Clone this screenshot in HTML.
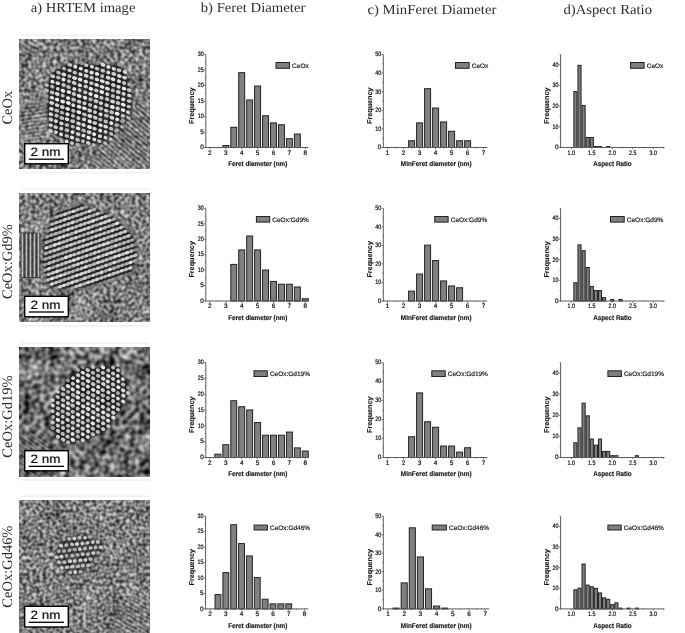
<!DOCTYPE html>
<html><head><meta charset="utf-8"><style>
html,body{margin:0;padding:0;background:#fff;}
text{text-rendering:geometricPrecision;}
body{width:685px;height:633px;overflow:hidden;position:relative;}
svg{position:absolute;left:0;top:0;display:block;filter:grayscale(1);}
.tk{font-family:"Liberation Sans",sans-serif;font-size:6.4px;fill:#151515;stroke:#151515;stroke-width:0.22px;}
.al{font-family:"Liberation Sans",sans-serif;font-size:6.9px;font-weight:bold;fill:#151515;stroke:#151515;stroke-width:0.15px;}
.yl{font-family:"Liberation Sans",sans-serif;font-size:7px;font-weight:bold;fill:#151515;stroke:#151515;stroke-width:0.15px;}
.lg{font-family:"Liberation Sans",sans-serif;font-size:6.5px;fill:#151515;stroke:#151515;stroke-width:0.18px;}
.sb{font-family:"Liberation Sans",sans-serif;font-size:12.2px;fill:#000;stroke:#000;stroke-width:0.15px;}
.rl{font-family:"Liberation Serif",serif;font-size:14.5px;fill:#2e2e2e;}
.tt{font-family:"Liberation Serif",serif;font-size:13.8px;fill:#2e2e2e;}
</style></head><body>
<svg width="685" height="633" viewBox="0 0 685 633">
<defs>
<filter id="noise0" x="0" y="0" width="100%" height="100%" filterUnits="objectBoundingBox" color-interpolation-filters="sRGB">
<feTurbulence type="fractalNoise" baseFrequency="0.28" numOctaves="1" seed="3" result="t"/>
<feTurbulence type="fractalNoise" baseFrequency="0.04" numOctaves="2" seed="11" result="t2"/>
<feColorMatrix in="t" type="matrix" values="1 0 0 0 0  1 0 0 0 0  1 0 0 0 0  0 0 0 0 1" result="g"/>
<feColorMatrix in="t2" type="matrix" values="1 0 0 0 0  1 0 0 0 0  1 0 0 0 0  0 0 0 0 1" result="g2"/>
<feComposite in="g" in2="g2" operator="arithmetic" k1="0" k2="1" k3="0.3" k4="-0.15" result="g3"/>
<feComponentTransfer in="g3"><feFuncR type="linear" slope="1.15" intercept="-0.09"/><feFuncG type="linear" slope="1.15" intercept="-0.09"/><feFuncB type="linear" slope="1.15" intercept="-0.09"/></feComponentTransfer>
<feGaussianBlur stdDeviation="0.55"/>
</filter>
<pattern id="lat0" width="5.6" height="9.7" patternUnits="userSpaceOnUse" patternTransform="rotate(25)">
<rect width="5.6" height="9.7" fill="#262626"/><ellipse cx="1.4" cy="2.42" rx="2.07" ry="1.79" fill="#ececec"/><ellipse cx="4.2" cy="7.27" rx="2.07" ry="1.79" fill="#ececec"/></pattern>
<filter id="noise1" x="0" y="0" width="100%" height="100%" filterUnits="objectBoundingBox" color-interpolation-filters="sRGB">
<feTurbulence type="fractalNoise" baseFrequency="0.28" numOctaves="1" seed="10" result="t"/>
<feTurbulence type="fractalNoise" baseFrequency="0.04" numOctaves="2" seed="16" result="t2"/>
<feColorMatrix in="t" type="matrix" values="1 0 0 0 0  1 0 0 0 0  1 0 0 0 0  0 0 0 0 1" result="g"/>
<feColorMatrix in="t2" type="matrix" values="1 0 0 0 0  1 0 0 0 0  1 0 0 0 0  0 0 0 0 1" result="g2"/>
<feComposite in="g" in2="g2" operator="arithmetic" k1="0" k2="1" k3="0.25" k4="-0.125" result="g3"/>
<feComponentTransfer in="g3"><feFuncR type="linear" slope="1.15" intercept="-0.08"/><feFuncG type="linear" slope="1.15" intercept="-0.08"/><feFuncB type="linear" slope="1.15" intercept="-0.08"/></feComponentTransfer>
<feGaussianBlur stdDeviation="0.55"/>
</filter>
<pattern id="lat1" width="5.6" height="4.8" patternUnits="userSpaceOnUse" patternTransform="rotate(-20)">
<rect width="5.6" height="4.8" fill="#1c1c1c"/><rect x="0" y="1.3" width="5.6" height="2.0" fill="#cfcfcf"/><ellipse cx="2.8" cy="2.3" rx="1.9" ry="1.3" fill="#f0f0f0"/></pattern>
<filter id="noise2" x="0" y="0" width="100%" height="100%" filterUnits="objectBoundingBox" color-interpolation-filters="sRGB">
<feTurbulence type="fractalNoise" baseFrequency="0.2" numOctaves="1" seed="17" result="t"/>
<feTurbulence type="fractalNoise" baseFrequency="0.05" numOctaves="2" seed="21" result="t2"/>
<feColorMatrix in="t" type="matrix" values="1 0 0 0 0  1 0 0 0 0  1 0 0 0 0  0 0 0 0 1" result="g"/>
<feColorMatrix in="t2" type="matrix" values="1 0 0 0 0  1 0 0 0 0  1 0 0 0 0  0 0 0 0 1" result="g2"/>
<feComposite in="g" in2="g2" operator="arithmetic" k1="0" k2="1" k3="0.5" k4="-0.25" result="g3"/>
<feComponentTransfer in="g3"><feFuncR type="linear" slope="1.15" intercept="-0.15"/><feFuncG type="linear" slope="1.15" intercept="-0.15"/><feFuncB type="linear" slope="1.15" intercept="-0.15"/></feComponentTransfer>
<feGaussianBlur stdDeviation="0.55"/>
</filter>
<pattern id="lat2" width="5.5" height="9.53" patternUnits="userSpaceOnUse" patternTransform="rotate(10)">
<rect width="5.5" height="9.53" fill="#262626"/><ellipse cx="1.38" cy="2.38" rx="1.82" ry="1.65" fill="#ececec"/><ellipse cx="4.12" cy="7.14" rx="1.82" ry="1.65" fill="#ececec"/></pattern>
<filter id="noise3" x="0" y="0" width="100%" height="100%" filterUnits="objectBoundingBox" color-interpolation-filters="sRGB">
<feTurbulence type="fractalNoise" baseFrequency="0.3" numOctaves="1" seed="24" result="t"/>
<feTurbulence type="fractalNoise" baseFrequency="0.04" numOctaves="2" seed="26" result="t2"/>
<feColorMatrix in="t" type="matrix" values="1 0 0 0 0  1 0 0 0 0  1 0 0 0 0  0 0 0 0 1" result="g"/>
<feColorMatrix in="t2" type="matrix" values="1 0 0 0 0  1 0 0 0 0  1 0 0 0 0  0 0 0 0 1" result="g2"/>
<feComposite in="g" in2="g2" operator="arithmetic" k1="0" k2="1" k3="0.25" k4="-0.125" result="g3"/>
<feComponentTransfer in="g3"><feFuncR type="linear" slope="1.15" intercept="-0.08"/><feFuncG type="linear" slope="1.15" intercept="-0.08"/><feFuncB type="linear" slope="1.15" intercept="-0.08"/></feComponentTransfer>
<feGaussianBlur stdDeviation="0.55"/>
</filter>
<pattern id="lat3" width="5" height="8.66" patternUnits="userSpaceOnUse" patternTransform="rotate(45)">
<rect width="5" height="8.66" fill="#262626"/><ellipse cx="1.25" cy="2.17" rx="1.7" ry="1.5" fill="#ececec"/><ellipse cx="3.75" cy="6.5" rx="1.7" ry="1.5" fill="#ececec"/></pattern>
<pattern id="vf" width="4" height="4" patternUnits="userSpaceOnUse"><rect width="4" height="4" fill="#3c3c3c"/><rect x="1.2" width="1.6" height="4" fill="#c8c8c8"/></pattern>
<filter id="soft" color-interpolation-filters="sRGB"><feGaussianBlur stdDeviation="0.75"/></filter>
<filter id="edge" x="-20%" y="-20%" width="140%" height="140%" color-interpolation-filters="sRGB"><feGaussianBlur stdDeviation="2.2"/></filter>
<filter id="edge2" x="-20%" y="-20%" width="140%" height="140%" color-interpolation-filters="sRGB"><feGaussianBlur stdDeviation="1.3"/></filter>
</defs>
<text x="30.7" y="12.0" class="tt" textLength="104.7" lengthAdjust="spacingAndGlyphs">a) HRTEM image</text>
<text x="200.7" y="11.9" class="tt" textLength="104.7" lengthAdjust="spacingAndGlyphs">b) Feret Diameter</text>
<text x="367.4" y="13.8" class="tt" textLength="129.1" lengthAdjust="spacingAndGlyphs">c) MinFeret Diameter</text>
<text x="563.4" y="13.5" class="tt" textLength="88.6" lengthAdjust="spacingAndGlyphs">d)Aspect Ratio</text>
<rect x="21.5" y="34.6" width="128.1" height="1.6" fill="#f1f1f1"/>
<rect x="21.5" y="171.8" width="128.1" height="1.6" fill="#f1f1f1"/>
<rect x="19.5" y="39.4" width="130.1" height="129.1" fill="#7e7e7e"/>
<rect x="19.5" y="39.4" width="130.1" height="129.1" fill="#808080" filter="url(#noise0)"/>
<clipPath id="cp0"><rect x="19.5" y="39.4" width="130.1" height="129.1"/></clipPath>
<g clip-path="url(#cp0)" opacity="0.88">
<polygon points="51.79,71.66 66.54,64.29 118.04,64.29 126.39,72.83 132.69,99.99 132.69,115.8 109.41,144.32 71.39,145.29 47.82,130.54 46.85,86.41" fill="#151515" filter="url(#edge2)" opacity="0.92"/>
<g filter="url(#soft)">
<ellipse cx="46.55" cy="85.09" rx="2.41" ry="1.8" transform="rotate(18.3 46.55 85.09)" fill="rgb(195,195,195)"/>
<ellipse cx="46.66" cy="90.53" rx="2.31" ry="1.8" transform="rotate(18.3 46.66 90.53)" fill="rgb(197,197,197)"/>
<ellipse cx="46.04" cy="95.98" rx="2.55" ry="1.8" transform="rotate(18.3 46.04 95.98)" fill="rgb(151,151,151)"/>
<ellipse cx="46.32" cy="101.36" rx="2.45" ry="1.8" transform="rotate(18.3 46.32 101.36)" fill="rgb(151,151,151)"/>
<ellipse cx="52.75" cy="70.4" rx="2.2" ry="1.8" transform="rotate(18.3 52.75 70.4)" fill="rgb(166,166,166)"/>
<ellipse cx="52.76" cy="76.31" rx="2.56" ry="1.8" transform="rotate(18.3 52.76 76.31)" fill="rgb(208,208,208)"/>
<ellipse cx="52.48" cy="81.72" rx="2.09" ry="1.8" transform="rotate(18.3 52.48 81.72)" fill="rgb(248,248,248)"/>
<ellipse cx="52.3" cy="86.7" rx="2.23" ry="1.8" transform="rotate(18.3 52.3 86.7)" fill="rgb(195,195,195)"/>
<ellipse cx="52.14" cy="92.41" rx="2.49" ry="1.8" transform="rotate(18.3 52.14 92.41)" fill="rgb(207,207,207)"/>
<ellipse cx="51.98" cy="97.66" rx="2.37" ry="1.8" transform="rotate(18.3 51.98 97.66)" fill="rgb(224,224,224)"/>
<ellipse cx="51.74" cy="103.03" rx="2.57" ry="1.8" transform="rotate(18.3 51.74 103.03)" fill="rgb(231,231,231)"/>
<ellipse cx="51.33" cy="108.83" rx="2.3" ry="1.8" transform="rotate(18.3 51.33 108.83)" fill="rgb(245,245,245)"/>
<ellipse cx="50.9" cy="114.2" rx="2.2" ry="1.8" transform="rotate(18.3 50.9 114.2)" fill="rgb(229,229,229)"/>
<ellipse cx="51" cy="119.51" rx="2.44" ry="1.8" transform="rotate(18.3 51 119.51)" fill="rgb(226,226,226)"/>
<ellipse cx="50.74" cy="125.27" rx="2.15" ry="1.8" transform="rotate(18.3 50.74 125.27)" fill="rgb(237,237,237)"/>
<ellipse cx="50.52" cy="130.73" rx="2.45" ry="1.8" transform="rotate(18.3 50.52 130.73)" fill="rgb(241,241,241)"/>
<ellipse cx="58.62" cy="66.94" rx="2.08" ry="1.8" transform="rotate(18.3 58.62 66.94)" fill="rgb(159,159,159)"/>
<ellipse cx="58.48" cy="72.61" rx="2.44" ry="1.8" transform="rotate(18.3 58.48 72.61)" fill="rgb(205,205,205)"/>
<ellipse cx="58.26" cy="77.61" rx="2.35" ry="1.8" transform="rotate(18.3 58.26 77.61)" fill="rgb(198,198,198)"/>
<ellipse cx="57.73" cy="83.17" rx="2.38" ry="1.8" transform="rotate(18.3 57.73 83.17)" fill="rgb(235,235,235)"/>
<ellipse cx="57.81" cy="88.77" rx="2" ry="1.8" transform="rotate(18.3 57.81 88.77)" fill="rgb(216,216,216)"/>
<ellipse cx="57.19" cy="93.99" rx="2.42" ry="1.8" transform="rotate(18.3 57.19 93.99)" fill="rgb(229,229,229)"/>
<ellipse cx="57.01" cy="99.55" rx="2.23" ry="1.8" transform="rotate(18.3 57.01 99.55)" fill="rgb(252,252,252)"/>
<ellipse cx="57.08" cy="105.13" rx="2.28" ry="1.8" transform="rotate(18.3 57.08 105.13)" fill="rgb(237,237,237)"/>
<ellipse cx="56.74" cy="110.63" rx="2.47" ry="1.8" transform="rotate(18.3 56.74 110.63)" fill="rgb(205,205,205)"/>
<ellipse cx="56.7" cy="115.68" rx="2.14" ry="1.8" transform="rotate(18.3 56.7 115.68)" fill="rgb(207,207,207)"/>
<ellipse cx="55.99" cy="121.18" rx="2.07" ry="1.8" transform="rotate(18.3 55.99 121.18)" fill="rgb(236,236,236)"/>
<ellipse cx="55.74" cy="127.11" rx="2.32" ry="1.8" transform="rotate(18.3 55.74 127.11)" fill="rgb(221,221,221)"/>
<ellipse cx="55.74" cy="132.19" rx="2.11" ry="1.8" transform="rotate(18.3 55.74 132.19)" fill="rgb(224,224,224)"/>
<ellipse cx="64.11" cy="68.6" rx="2.12" ry="1.8" transform="rotate(18.3 64.11 68.6)" fill="rgb(204,204,204)"/>
<ellipse cx="63.77" cy="74.45" rx="2.57" ry="1.8" transform="rotate(18.3 63.77 74.45)" fill="rgb(233,233,233)"/>
<ellipse cx="63.53" cy="79.5" rx="2.11" ry="1.8" transform="rotate(18.3 63.53 79.5)" fill="rgb(241,241,241)"/>
<ellipse cx="63.65" cy="85.02" rx="2.16" ry="1.8" transform="rotate(18.3 63.65 85.02)" fill="rgb(212,212,212)"/>
<ellipse cx="62.99" cy="90.79" rx="2.33" ry="1.8" transform="rotate(18.3 62.99 90.79)" fill="rgb(252,252,252)"/>
<ellipse cx="62.71" cy="95.68" rx="2.17" ry="1.8" transform="rotate(18.3 62.71 95.68)" fill="rgb(200,200,200)"/>
<ellipse cx="62.72" cy="101.49" rx="2.48" ry="1.8" transform="rotate(18.3 62.72 101.49)" fill="rgb(250,250,250)"/>
<ellipse cx="62.31" cy="106.97" rx="2.43" ry="1.8" transform="rotate(18.3 62.31 106.97)" fill="rgb(223,223,223)"/>
<ellipse cx="61.97" cy="112.59" rx="2.36" ry="1.8" transform="rotate(18.3 61.97 112.59)" fill="rgb(196,196,196)"/>
<ellipse cx="61.83" cy="117.93" rx="2.52" ry="1.8" transform="rotate(18.3 61.83 117.93)" fill="rgb(204,204,204)"/>
<ellipse cx="61.39" cy="123.34" rx="2.3" ry="1.8" transform="rotate(18.3 61.39 123.34)" fill="rgb(240,240,240)"/>
<ellipse cx="61.25" cy="128.57" rx="2.12" ry="1.8" transform="rotate(18.3 61.25 128.57)" fill="rgb(224,224,224)"/>
<ellipse cx="61.01" cy="134.29" rx="2.16" ry="1.8" transform="rotate(18.3 61.01 134.29)" fill="rgb(230,230,230)"/>
<ellipse cx="61.05" cy="139.61" rx="2.34" ry="1.8" transform="rotate(18.3 61.05 139.61)" fill="rgb(164,164,164)"/>
<ellipse cx="69.8" cy="64.87" rx="2.5" ry="1.8" transform="rotate(18.3 69.8 64.87)" fill="rgb(203,203,203)"/>
<ellipse cx="69.56" cy="70.39" rx="2.27" ry="1.8" transform="rotate(18.3 69.56 70.39)" fill="rgb(220,220,220)"/>
<ellipse cx="69.4" cy="76.21" rx="2.02" ry="1.8" transform="rotate(18.3 69.4 76.21)" fill="rgb(200,200,200)"/>
<ellipse cx="69" cy="81.15" rx="2.06" ry="1.8" transform="rotate(18.3 69 81.15)" fill="rgb(205,205,205)"/>
<ellipse cx="68.55" cy="86.96" rx="2.33" ry="1.8" transform="rotate(18.3 68.55 86.96)" fill="rgb(201,201,201)"/>
<ellipse cx="68.84" cy="92.12" rx="2.34" ry="1.8" transform="rotate(18.3 68.84 92.12)" fill="rgb(244,244,244)"/>
<ellipse cx="68.13" cy="98.05" rx="2.22" ry="1.8" transform="rotate(18.3 68.13 98.05)" fill="rgb(242,242,242)"/>
<ellipse cx="68.32" cy="102.98" rx="2.49" ry="1.8" transform="rotate(18.3 68.32 102.98)" fill="rgb(249,249,249)"/>
<ellipse cx="67.62" cy="108.91" rx="2.53" ry="1.8" transform="rotate(18.3 67.62 108.91)" fill="rgb(245,245,245)"/>
<ellipse cx="67.48" cy="114.25" rx="2.2" ry="1.8" transform="rotate(18.3 67.48 114.25)" fill="rgb(245,245,245)"/>
<ellipse cx="67.09" cy="119.26" rx="2.32" ry="1.8" transform="rotate(18.3 67.09 119.26)" fill="rgb(227,227,227)"/>
<ellipse cx="66.91" cy="125.08" rx="2.28" ry="1.8" transform="rotate(18.3 66.91 125.08)" fill="rgb(198,198,198)"/>
<ellipse cx="66.9" cy="130.27" rx="2.53" ry="1.8" transform="rotate(18.3 66.9 130.27)" fill="rgb(198,198,198)"/>
<ellipse cx="66.87" cy="135.94" rx="2.31" ry="1.8" transform="rotate(18.3 66.87 135.94)" fill="rgb(196,196,196)"/>
<ellipse cx="66.7" cy="141.49" rx="2.02" ry="1.8" transform="rotate(18.3 66.7 141.49)" fill="rgb(238,238,238)"/>
<ellipse cx="75.25" cy="66.75" rx="2" ry="1.8" transform="rotate(18.3 75.25 66.75)" fill="rgb(252,252,252)"/>
<ellipse cx="74.8" cy="72.58" rx="2.17" ry="1.8" transform="rotate(18.3 74.8 72.58)" fill="rgb(202,202,202)"/>
<ellipse cx="74.61" cy="78.03" rx="2.55" ry="1.8" transform="rotate(18.3 74.61 78.03)" fill="rgb(240,240,240)"/>
<ellipse cx="74.3" cy="83" rx="2.45" ry="1.8" transform="rotate(18.3 74.3 83)" fill="rgb(217,217,217)"/>
<ellipse cx="74.32" cy="88.95" rx="2.05" ry="1.8" transform="rotate(18.3 74.32 88.95)" fill="rgb(241,241,241)"/>
<ellipse cx="73.9" cy="93.96" rx="2.39" ry="1.8" transform="rotate(18.3 73.9 93.96)" fill="rgb(212,212,212)"/>
<ellipse cx="73.74" cy="99.73" rx="2.53" ry="1.8" transform="rotate(18.3 73.74 99.73)" fill="rgb(196,196,196)"/>
<ellipse cx="73.33" cy="105.17" rx="2.02" ry="1.8" transform="rotate(18.3 73.33 105.17)" fill="rgb(249,249,249)"/>
<ellipse cx="73.32" cy="110.75" rx="2.29" ry="1.8" transform="rotate(18.3 73.32 110.75)" fill="rgb(195,195,195)"/>
<ellipse cx="73.02" cy="115.84" rx="2.1" ry="1.8" transform="rotate(18.3 73.02 115.84)" fill="rgb(207,207,207)"/>
<ellipse cx="72.68" cy="121.19" rx="2.53" ry="1.8" transform="rotate(18.3 72.68 121.19)" fill="rgb(214,214,214)"/>
<ellipse cx="72.85" cy="126.66" rx="2.15" ry="1.8" transform="rotate(18.3 72.85 126.66)" fill="rgb(196,196,196)"/>
<ellipse cx="72.56" cy="132.05" rx="2.05" ry="1.8" transform="rotate(18.3 72.56 132.05)" fill="rgb(238,238,238)"/>
<ellipse cx="72.02" cy="137.49" rx="2.22" ry="1.8" transform="rotate(18.3 72.02 137.49)" fill="rgb(235,235,235)"/>
<ellipse cx="72.04" cy="143.15" rx="2.01" ry="1.8" transform="rotate(18.3 72.04 143.15)" fill="rgb(221,221,221)"/>
<ellipse cx="81.09" cy="62.99" rx="2.58" ry="1.8" transform="rotate(18.3 81.09 62.99)" fill="rgb(154,154,154)"/>
<ellipse cx="80.82" cy="68.62" rx="2.15" ry="1.8" transform="rotate(18.3 80.82 68.62)" fill="rgb(252,252,252)"/>
<ellipse cx="80.46" cy="74.2" rx="2.17" ry="1.8" transform="rotate(18.3 80.46 74.2)" fill="rgb(241,241,241)"/>
<ellipse cx="80.11" cy="79.5" rx="2.43" ry="1.8" transform="rotate(18.3 80.11 79.5)" fill="rgb(252,252,252)"/>
<ellipse cx="79.84" cy="85.21" rx="2.14" ry="1.8" transform="rotate(18.3 79.84 85.21)" fill="rgb(235,235,235)"/>
<ellipse cx="79.7" cy="90.25" rx="2.04" ry="1.8" transform="rotate(18.3 79.7 90.25)" fill="rgb(208,208,208)"/>
<ellipse cx="79.21" cy="96" rx="2.49" ry="1.8" transform="rotate(18.3 79.21 96)" fill="rgb(248,248,248)"/>
<ellipse cx="79.05" cy="101.65" rx="2.4" ry="1.8" transform="rotate(18.3 79.05 101.65)" fill="rgb(216,216,216)"/>
<ellipse cx="79.04" cy="106.81" rx="2.52" ry="1.8" transform="rotate(18.3 79.04 106.81)" fill="rgb(239,239,239)"/>
<ellipse cx="78.86" cy="112.28" rx="2.44" ry="1.8" transform="rotate(18.3 78.86 112.28)" fill="rgb(250,250,250)"/>
<ellipse cx="78.43" cy="118" rx="2.02" ry="1.8" transform="rotate(18.3 78.43 118)" fill="rgb(221,221,221)"/>
<ellipse cx="78.55" cy="123.43" rx="2.44" ry="1.8" transform="rotate(18.3 78.55 123.43)" fill="rgb(229,229,229)"/>
<ellipse cx="78.15" cy="128.36" rx="2.37" ry="1.8" transform="rotate(18.3 78.15 128.36)" fill="rgb(246,246,246)"/>
<ellipse cx="78.08" cy="134.04" rx="2.45" ry="1.8" transform="rotate(18.3 78.08 134.04)" fill="rgb(213,213,213)"/>
<ellipse cx="77.59" cy="139.72" rx="2.4" ry="1.8" transform="rotate(18.3 77.59 139.72)" fill="rgb(197,197,197)"/>
<ellipse cx="77.57" cy="144.75" rx="2.29" ry="1.8" transform="rotate(18.3 77.57 144.75)" fill="rgb(182,182,182)"/>
<ellipse cx="86.43" cy="65.15" rx="2.2" ry="1.8" transform="rotate(18.3 86.43 65.15)" fill="rgb(216,216,216)"/>
<ellipse cx="86.23" cy="70.81" rx="2.23" ry="1.8" transform="rotate(18.3 86.23 70.81)" fill="rgb(227,227,227)"/>
<ellipse cx="86.14" cy="75.76" rx="2.49" ry="1.8" transform="rotate(18.3 86.14 75.76)" fill="rgb(231,231,231)"/>
<ellipse cx="85.8" cy="81.55" rx="2.26" ry="1.8" transform="rotate(18.3 85.8 81.55)" fill="rgb(239,239,239)"/>
<ellipse cx="85.67" cy="86.55" rx="2.26" ry="1.8" transform="rotate(18.3 85.67 86.55)" fill="rgb(222,222,222)"/>
<ellipse cx="85.28" cy="92.17" rx="2.26" ry="1.8" transform="rotate(18.3 85.28 92.17)" fill="rgb(207,207,207)"/>
<ellipse cx="84.99" cy="97.75" rx="2.28" ry="1.8" transform="rotate(18.3 84.99 97.75)" fill="rgb(251,251,251)"/>
<ellipse cx="84.5" cy="103.27" rx="2.01" ry="1.8" transform="rotate(18.3 84.5 103.27)" fill="rgb(220,220,220)"/>
<ellipse cx="84.38" cy="108.39" rx="2.53" ry="1.8" transform="rotate(18.3 84.38 108.39)" fill="rgb(236,236,236)"/>
<ellipse cx="84.34" cy="114.35" rx="2.49" ry="1.8" transform="rotate(18.3 84.34 114.35)" fill="rgb(204,204,204)"/>
<ellipse cx="84.12" cy="119.36" rx="2.1" ry="1.8" transform="rotate(18.3 84.12 119.36)" fill="rgb(225,225,225)"/>
<ellipse cx="83.61" cy="124.98" rx="2.23" ry="1.8" transform="rotate(18.3 83.61 124.98)" fill="rgb(220,220,220)"/>
<ellipse cx="83.61" cy="130.51" rx="2.33" ry="1.8" transform="rotate(18.3 83.61 130.51)" fill="rgb(202,202,202)"/>
<ellipse cx="83.41" cy="135.57" rx="2.01" ry="1.8" transform="rotate(18.3 83.41 135.57)" fill="rgb(243,243,243)"/>
<ellipse cx="82.97" cy="141.23" rx="2.04" ry="1.8" transform="rotate(18.3 82.97 141.23)" fill="rgb(196,196,196)"/>
<ellipse cx="91.89" cy="66.73" rx="2.09" ry="1.8" transform="rotate(18.3 91.89 66.73)" fill="rgb(228,228,228)"/>
<ellipse cx="91.62" cy="72.58" rx="2.21" ry="1.8" transform="rotate(18.3 91.62 72.58)" fill="rgb(243,243,243)"/>
<ellipse cx="91.59" cy="77.67" rx="2.25" ry="1.8" transform="rotate(18.3 91.59 77.67)" fill="rgb(213,213,213)"/>
<ellipse cx="91.36" cy="83.14" rx="2.32" ry="1.8" transform="rotate(18.3 91.36 83.14)" fill="rgb(213,213,213)"/>
<ellipse cx="90.92" cy="88.81" rx="2.39" ry="1.8" transform="rotate(18.3 90.92 88.81)" fill="rgb(241,241,241)"/>
<ellipse cx="90.54" cy="94.06" rx="2.29" ry="1.8" transform="rotate(18.3 90.54 94.06)" fill="rgb(252,252,252)"/>
<ellipse cx="90.52" cy="99.46" rx="2.23" ry="1.8" transform="rotate(18.3 90.52 99.46)" fill="rgb(195,195,195)"/>
<ellipse cx="90.14" cy="104.92" rx="2.09" ry="1.8" transform="rotate(18.3 90.14 104.92)" fill="rgb(208,208,208)"/>
<ellipse cx="89.61" cy="110.55" rx="2.48" ry="1.8" transform="rotate(18.3 89.61 110.55)" fill="rgb(229,229,229)"/>
<ellipse cx="89.86" cy="116.03" rx="2.53" ry="1.8" transform="rotate(18.3 89.86 116.03)" fill="rgb(246,246,246)"/>
<ellipse cx="89.66" cy="121.51" rx="2.2" ry="1.8" transform="rotate(18.3 89.66 121.51)" fill="rgb(252,252,252)"/>
<ellipse cx="89.47" cy="127" rx="2.5" ry="1.8" transform="rotate(18.3 89.47 127)" fill="rgb(247,247,247)"/>
<ellipse cx="89.08" cy="132.25" rx="2.54" ry="1.8" transform="rotate(18.3 89.08 132.25)" fill="rgb(228,228,228)"/>
<ellipse cx="88.57" cy="137.74" rx="2.15" ry="1.8" transform="rotate(18.3 88.57 137.74)" fill="rgb(252,252,252)"/>
<ellipse cx="88.25" cy="142.98" rx="2.3" ry="1.8" transform="rotate(18.3 88.25 142.98)" fill="rgb(223,223,223)"/>
<ellipse cx="97.31" cy="63.07" rx="2.27" ry="1.8" transform="rotate(18.3 97.31 63.07)" fill="rgb(140,140,140)"/>
<ellipse cx="97.02" cy="68.59" rx="2.37" ry="1.8" transform="rotate(18.3 97.02 68.59)" fill="rgb(206,206,206)"/>
<ellipse cx="97.07" cy="73.96" rx="2.16" ry="1.8" transform="rotate(18.3 97.07 73.96)" fill="rgb(252,252,252)"/>
<ellipse cx="97" cy="79.44" rx="2.34" ry="1.8" transform="rotate(18.3 97 79.44)" fill="rgb(231,231,231)"/>
<ellipse cx="96.57" cy="84.91" rx="2.36" ry="1.8" transform="rotate(18.3 96.57 84.91)" fill="rgb(246,246,246)"/>
<ellipse cx="96.32" cy="90.44" rx="2.24" ry="1.8" transform="rotate(18.3 96.32 90.44)" fill="rgb(213,213,213)"/>
<ellipse cx="96.19" cy="96.02" rx="2.43" ry="1.8" transform="rotate(18.3 96.19 96.02)" fill="rgb(252,252,252)"/>
<ellipse cx="96.1" cy="101.24" rx="2.58" ry="1.8" transform="rotate(18.3 96.1 101.24)" fill="rgb(212,212,212)"/>
<ellipse cx="95.53" cy="106.84" rx="2.07" ry="1.8" transform="rotate(18.3 95.53 106.84)" fill="rgb(251,251,251)"/>
<ellipse cx="95.11" cy="112.21" rx="2.03" ry="1.8" transform="rotate(18.3 95.11 112.21)" fill="rgb(208,208,208)"/>
<ellipse cx="95.22" cy="117.71" rx="2.37" ry="1.8" transform="rotate(18.3 95.22 117.71)" fill="rgb(224,224,224)"/>
<ellipse cx="94.74" cy="123.06" rx="2.38" ry="1.8" transform="rotate(18.3 94.74 123.06)" fill="rgb(216,216,216)"/>
<ellipse cx="94.6" cy="128.61" rx="2.33" ry="1.8" transform="rotate(18.3 94.6 128.61)" fill="rgb(230,230,230)"/>
<ellipse cx="94.11" cy="134.18" rx="2.04" ry="1.8" transform="rotate(18.3 94.11 134.18)" fill="rgb(252,252,252)"/>
<ellipse cx="94.29" cy="139.5" rx="2.01" ry="1.8" transform="rotate(18.3 94.29 139.5)" fill="rgb(243,243,243)"/>
<ellipse cx="93.63" cy="144.93" rx="2.06" ry="1.8" transform="rotate(18.3 93.63 144.93)" fill="rgb(195,195,195)"/>
<ellipse cx="103.09" cy="64.79" rx="2.47" ry="1.8" transform="rotate(18.3 103.09 64.79)" fill="rgb(236,236,236)"/>
<ellipse cx="102.82" cy="70.69" rx="2.36" ry="1.8" transform="rotate(18.3 102.82 70.69)" fill="rgb(213,213,213)"/>
<ellipse cx="102.16" cy="76.07" rx="2.03" ry="1.8" transform="rotate(18.3 102.16 76.07)" fill="rgb(206,206,206)"/>
<ellipse cx="102.37" cy="81.1" rx="2.56" ry="1.8" transform="rotate(18.3 102.37 81.1)" fill="rgb(236,236,236)"/>
<ellipse cx="102" cy="86.84" rx="2.43" ry="1.8" transform="rotate(18.3 102 86.84)" fill="rgb(244,244,244)"/>
<ellipse cx="101.73" cy="91.99" rx="2.43" ry="1.8" transform="rotate(18.3 101.73 91.99)" fill="rgb(252,252,252)"/>
<ellipse cx="101.48" cy="97.8" rx="2.13" ry="1.8" transform="rotate(18.3 101.48 97.8)" fill="rgb(211,211,211)"/>
<ellipse cx="100.98" cy="103.08" rx="2.06" ry="1.8" transform="rotate(18.3 100.98 103.08)" fill="rgb(231,231,231)"/>
<ellipse cx="100.83" cy="108.52" rx="2.47" ry="1.8" transform="rotate(18.3 100.83 108.52)" fill="rgb(195,195,195)"/>
<ellipse cx="100.58" cy="114.28" rx="2.18" ry="1.8" transform="rotate(18.3 100.58 114.28)" fill="rgb(232,232,232)"/>
<ellipse cx="100.29" cy="119.56" rx="2.19" ry="1.8" transform="rotate(18.3 100.29 119.56)" fill="rgb(198,198,198)"/>
<ellipse cx="100.61" cy="125.12" rx="2.34" ry="1.8" transform="rotate(18.3 100.61 125.12)" fill="rgb(241,241,241)"/>
<ellipse cx="100.14" cy="130.52" rx="2.06" ry="1.8" transform="rotate(18.3 100.14 130.52)" fill="rgb(251,251,251)"/>
<ellipse cx="100.07" cy="136.1" rx="2.19" ry="1.8" transform="rotate(18.3 100.07 136.1)" fill="rgb(232,232,232)"/>
<ellipse cx="99.33" cy="141.16" rx="2.4" ry="1.8" transform="rotate(18.3 99.33 141.16)" fill="rgb(197,197,197)"/>
<ellipse cx="108.43" cy="66.97" rx="2.18" ry="1.8" transform="rotate(18.3 108.43 66.97)" fill="rgb(251,251,251)"/>
<ellipse cx="108.29" cy="72.42" rx="2.03" ry="1.8" transform="rotate(18.3 108.29 72.42)" fill="rgb(231,231,231)"/>
<ellipse cx="108.12" cy="77.75" rx="2.5" ry="1.8" transform="rotate(18.3 108.12 77.75)" fill="rgb(225,225,225)"/>
<ellipse cx="107.43" cy="82.89" rx="2.42" ry="1.8" transform="rotate(18.3 107.43 82.89)" fill="rgb(238,238,238)"/>
<ellipse cx="107.44" cy="88.65" rx="2.48" ry="1.8" transform="rotate(18.3 107.44 88.65)" fill="rgb(245,245,245)"/>
<ellipse cx="107.27" cy="94.2" rx="2.09" ry="1.8" transform="rotate(18.3 107.27 94.2)" fill="rgb(228,228,228)"/>
<ellipse cx="107.13" cy="99.23" rx="2.33" ry="1.8" transform="rotate(18.3 107.13 99.23)" fill="rgb(205,205,205)"/>
<ellipse cx="106.63" cy="105.18" rx="2.29" ry="1.8" transform="rotate(18.3 106.63 105.18)" fill="rgb(214,214,214)"/>
<ellipse cx="106.28" cy="110.6" rx="2.42" ry="1.8" transform="rotate(18.3 106.28 110.6)" fill="rgb(218,218,218)"/>
<ellipse cx="106.38" cy="115.81" rx="2.56" ry="1.8" transform="rotate(18.3 106.38 115.81)" fill="rgb(202,202,202)"/>
<ellipse cx="105.72" cy="121.48" rx="2.25" ry="1.8" transform="rotate(18.3 105.72 121.48)" fill="rgb(205,205,205)"/>
<ellipse cx="105.72" cy="126.68" rx="2.39" ry="1.8" transform="rotate(18.3 105.72 126.68)" fill="rgb(233,233,233)"/>
<ellipse cx="105.63" cy="131.91" rx="2.11" ry="1.8" transform="rotate(18.3 105.63 131.91)" fill="rgb(219,219,219)"/>
<ellipse cx="105.56" cy="137.64" rx="2.12" ry="1.8" transform="rotate(18.3 105.56 137.64)" fill="rgb(252,252,252)"/>
<ellipse cx="105.16" cy="143.07" rx="2.11" ry="1.8" transform="rotate(18.3 105.16 143.07)" fill="rgb(216,216,216)"/>
<ellipse cx="113.89" cy="68.87" rx="2.3" ry="1.8" transform="rotate(18.3 113.89 68.87)" fill="rgb(227,227,227)"/>
<ellipse cx="113.85" cy="73.94" rx="2.52" ry="1.8" transform="rotate(18.3 113.85 73.94)" fill="rgb(217,217,217)"/>
<ellipse cx="113.1" cy="79.25" rx="2.28" ry="1.8" transform="rotate(18.3 113.1 79.25)" fill="rgb(238,238,238)"/>
<ellipse cx="113.35" cy="85.01" rx="2.39" ry="1.8" transform="rotate(18.3 113.35 85.01)" fill="rgb(213,213,213)"/>
<ellipse cx="112.84" cy="90.49" rx="2.04" ry="1.8" transform="rotate(18.3 112.84 90.49)" fill="rgb(207,207,207)"/>
<ellipse cx="112.88" cy="96.07" rx="2.06" ry="1.8" transform="rotate(18.3 112.88 96.07)" fill="rgb(204,204,204)"/>
<ellipse cx="112.59" cy="101.43" rx="2.5" ry="1.8" transform="rotate(18.3 112.59 101.43)" fill="rgb(224,224,224)"/>
<ellipse cx="112.35" cy="106.94" rx="2.47" ry="1.8" transform="rotate(18.3 112.35 106.94)" fill="rgb(252,252,252)"/>
<ellipse cx="111.62" cy="112.28" rx="2.52" ry="1.8" transform="rotate(18.3 111.62 112.28)" fill="rgb(201,201,201)"/>
<ellipse cx="111.88" cy="117.7" rx="2.4" ry="1.8" transform="rotate(18.3 111.88 117.7)" fill="rgb(223,223,223)"/>
<ellipse cx="111.32" cy="123.2" rx="2.02" ry="1.8" transform="rotate(18.3 111.32 123.2)" fill="rgb(252,252,252)"/>
<ellipse cx="111.14" cy="128.71" rx="2.2" ry="1.8" transform="rotate(18.3 111.14 128.71)" fill="rgb(206,206,206)"/>
<ellipse cx="111.16" cy="134.02" rx="2.23" ry="1.8" transform="rotate(18.3 111.16 134.02)" fill="rgb(212,212,212)"/>
<ellipse cx="110.65" cy="139.42" rx="2.14" ry="1.8" transform="rotate(18.3 110.65 139.42)" fill="rgb(252,252,252)"/>
<ellipse cx="110.39" cy="145.1" rx="2.38" ry="1.8" transform="rotate(18.3 110.39 145.1)" fill="rgb(156,156,156)"/>
<ellipse cx="119.73" cy="64.75" rx="2.08" ry="1.8" transform="rotate(18.3 119.73 64.75)" fill="rgb(164,164,164)"/>
<ellipse cx="119.08" cy="70.18" rx="2.54" ry="1.8" transform="rotate(18.3 119.08 70.18)" fill="rgb(210,210,210)"/>
<ellipse cx="119.27" cy="75.99" rx="2.44" ry="1.8" transform="rotate(18.3 119.27 75.99)" fill="rgb(228,228,228)"/>
<ellipse cx="119.07" cy="81.2" rx="2.07" ry="1.8" transform="rotate(18.3 119.07 81.2)" fill="rgb(242,242,242)"/>
<ellipse cx="118.49" cy="86.79" rx="2.12" ry="1.8" transform="rotate(18.3 118.49 86.79)" fill="rgb(235,235,235)"/>
<ellipse cx="118.27" cy="92.02" rx="2.47" ry="1.8" transform="rotate(18.3 118.27 92.02)" fill="rgb(218,218,218)"/>
<ellipse cx="117.93" cy="97.56" rx="2.11" ry="1.8" transform="rotate(18.3 117.93 97.56)" fill="rgb(234,234,234)"/>
<ellipse cx="118.08" cy="103" rx="2.19" ry="1.8" transform="rotate(18.3 118.08 103)" fill="rgb(214,214,214)"/>
<ellipse cx="117.58" cy="108.52" rx="2.24" ry="1.8" transform="rotate(18.3 117.58 108.52)" fill="rgb(221,221,221)"/>
<ellipse cx="117.19" cy="113.74" rx="2.49" ry="1.8" transform="rotate(18.3 117.19 113.74)" fill="rgb(251,251,251)"/>
<ellipse cx="117.28" cy="119.43" rx="2.07" ry="1.8" transform="rotate(18.3 117.28 119.43)" fill="rgb(252,252,252)"/>
<ellipse cx="116.63" cy="125.14" rx="2.32" ry="1.8" transform="rotate(18.3 116.63 125.14)" fill="rgb(230,230,230)"/>
<ellipse cx="116.67" cy="130.46" rx="2.43" ry="1.8" transform="rotate(18.3 116.67 130.46)" fill="rgb(238,238,238)"/>
<ellipse cx="116.43" cy="135.95" rx="2.49" ry="1.8" transform="rotate(18.3 116.43 135.95)" fill="rgb(204,204,204)"/>
<ellipse cx="124.89" cy="72.02" rx="2.39" ry="1.8" transform="rotate(18.3 124.89 72.02)" fill="rgb(220,220,220)"/>
<ellipse cx="124.61" cy="77.65" rx="2.52" ry="1.8" transform="rotate(18.3 124.61 77.65)" fill="rgb(233,233,233)"/>
<ellipse cx="124.08" cy="82.99" rx="2.08" ry="1.8" transform="rotate(18.3 124.08 82.99)" fill="rgb(214,214,214)"/>
<ellipse cx="124.07" cy="88.63" rx="2.31" ry="1.8" transform="rotate(18.3 124.07 88.63)" fill="rgb(252,252,252)"/>
<ellipse cx="123.61" cy="93.78" rx="2.08" ry="1.8" transform="rotate(18.3 123.61 93.78)" fill="rgb(233,233,233)"/>
<ellipse cx="123.31" cy="99.44" rx="2.17" ry="1.8" transform="rotate(18.3 123.31 99.44)" fill="rgb(247,247,247)"/>
<ellipse cx="123.16" cy="104.64" rx="2.47" ry="1.8" transform="rotate(18.3 123.16 104.64)" fill="rgb(252,252,252)"/>
<ellipse cx="123.07" cy="110.1" rx="2.35" ry="1.8" transform="rotate(18.3 123.07 110.1)" fill="rgb(252,252,252)"/>
<ellipse cx="122.95" cy="115.9" rx="2.24" ry="1.8" transform="rotate(18.3 122.95 115.9)" fill="rgb(231,231,231)"/>
<ellipse cx="122.74" cy="121" rx="2.33" ry="1.8" transform="rotate(18.3 122.74 121)" fill="rgb(212,212,212)"/>
<ellipse cx="122.32" cy="126.69" rx="2.06" ry="1.8" transform="rotate(18.3 122.32 126.69)" fill="rgb(231,231,231)"/>
<ellipse cx="129.5" cy="84.63" rx="2.37" ry="1.8" transform="rotate(18.3 129.5 84.63)" fill="rgb(186,186,186)"/>
<ellipse cx="129.17" cy="90.19" rx="2.46" ry="1.8" transform="rotate(18.3 129.17 90.19)" fill="rgb(216,216,216)"/>
<ellipse cx="129.37" cy="95.63" rx="2.34" ry="1.8" transform="rotate(18.3 129.37 95.63)" fill="rgb(224,224,224)"/>
<ellipse cx="129.16" cy="101.08" rx="2.45" ry="1.8" transform="rotate(18.3 129.16 101.08)" fill="rgb(208,208,208)"/>
<ellipse cx="128.86" cy="106.59" rx="2.26" ry="1.8" transform="rotate(18.3 128.86 106.59)" fill="rgb(210,210,210)"/>
<ellipse cx="128.23" cy="112.23" rx="2.12" ry="1.8" transform="rotate(18.3 128.23 112.23)" fill="rgb(246,246,246)"/>
<ellipse cx="128.5" cy="117.81" rx="2.44" ry="1.8" transform="rotate(18.3 128.5 117.81)" fill="rgb(198,198,198)"/>
<ellipse cx="128.2" cy="123.1" rx="2.28" ry="1.8" transform="rotate(18.3 128.2 123.1)" fill="rgb(153,153,153)"/>
<ellipse cx="134.23" cy="114.02" rx="2.48" ry="1.8" transform="rotate(18.3 134.23 114.02)" fill="rgb(170,170,170)"/>
</g></g>
<mask id="fm0_120_118" maskUnits="userSpaceOnUse" x="0" y="0" width="685" height="633"><polygon points="120,118 150,96 150,169 92,169 98,150" fill="#fff" filter="url(#edge)"/></mask>
<g clip-path="url(#cp0)" mask="url(#fm0_120_118)" opacity="0.38"><g transform="rotate(40 122 140.4)" filter="url(#soft)">
<rect x="62" y="80.4" width="120" height="120" fill="#303030"/>
<rect x="62" y="80.4" width="120" height="1.71" fill="#d0d0d0"/>
<rect x="62" y="84.2" width="120" height="1.71" fill="#d0d0d0"/>
<rect x="62" y="88" width="120" height="1.71" fill="#d0d0d0"/>
<rect x="62" y="91.8" width="120" height="1.71" fill="#d0d0d0"/>
<rect x="62" y="95.6" width="120" height="1.71" fill="#d0d0d0"/>
<rect x="62" y="99.4" width="120" height="1.71" fill="#d0d0d0"/>
<rect x="62" y="103.2" width="120" height="1.71" fill="#d0d0d0"/>
<rect x="62" y="107" width="120" height="1.71" fill="#d0d0d0"/>
<rect x="62" y="110.8" width="120" height="1.71" fill="#d0d0d0"/>
<rect x="62" y="114.6" width="120" height="1.71" fill="#d0d0d0"/>
<rect x="62" y="118.4" width="120" height="1.71" fill="#d0d0d0"/>
<rect x="62" y="122.2" width="120" height="1.71" fill="#d0d0d0"/>
<rect x="62" y="126" width="120" height="1.71" fill="#d0d0d0"/>
<rect x="62" y="129.8" width="120" height="1.71" fill="#d0d0d0"/>
<rect x="62" y="133.6" width="120" height="1.71" fill="#d0d0d0"/>
<rect x="62" y="137.4" width="120" height="1.71" fill="#d0d0d0"/>
<rect x="62" y="141.2" width="120" height="1.71" fill="#d0d0d0"/>
<rect x="62" y="145" width="120" height="1.71" fill="#d0d0d0"/>
<rect x="62" y="148.8" width="120" height="1.71" fill="#d0d0d0"/>
<rect x="62" y="152.6" width="120" height="1.71" fill="#d0d0d0"/>
<rect x="62" y="156.4" width="120" height="1.71" fill="#d0d0d0"/>
<rect x="62" y="160.2" width="120" height="1.71" fill="#d0d0d0"/>
<rect x="62" y="164" width="120" height="1.71" fill="#d0d0d0"/>
<rect x="62" y="167.8" width="120" height="1.71" fill="#d0d0d0"/>
<rect x="62" y="171.6" width="120" height="1.71" fill="#d0d0d0"/>
<rect x="62" y="175.4" width="120" height="1.71" fill="#d0d0d0"/>
<rect x="62" y="179.2" width="120" height="1.71" fill="#d0d0d0"/>
<rect x="62" y="183" width="120" height="1.71" fill="#d0d0d0"/>
<rect x="62" y="186.8" width="120" height="1.71" fill="#d0d0d0"/>
<rect x="62" y="190.6" width="120" height="1.71" fill="#d0d0d0"/>
<rect x="62" y="194.4" width="120" height="1.71" fill="#d0d0d0"/>
<rect x="62" y="198.2" width="120" height="1.71" fill="#d0d0d0"/>
</g></g>
<mask id="fm0_19_108" maskUnits="userSpaceOnUse" x="0" y="0" width="685" height="633"><polygon points="19.5,108 45,104 52,128 44,142 19.5,142" fill="#fff" filter="url(#edge)"/></mask>
<g clip-path="url(#cp0)" mask="url(#fm0_19_108)" opacity="0.28"><g transform="rotate(-8 36 124.8)" filter="url(#soft)">
<rect x="-24" y="64.8" width="120" height="120" fill="#303030"/>
<rect x="-24" y="64.8" width="120" height="1.62" fill="#d0d0d0"/>
<rect x="-24" y="68.4" width="120" height="1.62" fill="#d0d0d0"/>
<rect x="-24" y="72" width="120" height="1.62" fill="#d0d0d0"/>
<rect x="-24" y="75.6" width="120" height="1.62" fill="#d0d0d0"/>
<rect x="-24" y="79.2" width="120" height="1.62" fill="#d0d0d0"/>
<rect x="-24" y="82.8" width="120" height="1.62" fill="#d0d0d0"/>
<rect x="-24" y="86.4" width="120" height="1.62" fill="#d0d0d0"/>
<rect x="-24" y="90" width="120" height="1.62" fill="#d0d0d0"/>
<rect x="-24" y="93.6" width="120" height="1.62" fill="#d0d0d0"/>
<rect x="-24" y="97.2" width="120" height="1.62" fill="#d0d0d0"/>
<rect x="-24" y="100.8" width="120" height="1.62" fill="#d0d0d0"/>
<rect x="-24" y="104.4" width="120" height="1.62" fill="#d0d0d0"/>
<rect x="-24" y="108" width="120" height="1.62" fill="#d0d0d0"/>
<rect x="-24" y="111.6" width="120" height="1.62" fill="#d0d0d0"/>
<rect x="-24" y="115.2" width="120" height="1.62" fill="#d0d0d0"/>
<rect x="-24" y="118.8" width="120" height="1.62" fill="#d0d0d0"/>
<rect x="-24" y="122.4" width="120" height="1.62" fill="#d0d0d0"/>
<rect x="-24" y="126" width="120" height="1.62" fill="#d0d0d0"/>
<rect x="-24" y="129.6" width="120" height="1.62" fill="#d0d0d0"/>
<rect x="-24" y="133.2" width="120" height="1.62" fill="#d0d0d0"/>
<rect x="-24" y="136.8" width="120" height="1.62" fill="#d0d0d0"/>
<rect x="-24" y="140.4" width="120" height="1.62" fill="#d0d0d0"/>
<rect x="-24" y="144" width="120" height="1.62" fill="#d0d0d0"/>
<rect x="-24" y="147.6" width="120" height="1.62" fill="#d0d0d0"/>
<rect x="-24" y="151.2" width="120" height="1.62" fill="#d0d0d0"/>
<rect x="-24" y="154.8" width="120" height="1.62" fill="#d0d0d0"/>
<rect x="-24" y="158.4" width="120" height="1.62" fill="#d0d0d0"/>
<rect x="-24" y="162" width="120" height="1.62" fill="#d0d0d0"/>
<rect x="-24" y="165.6" width="120" height="1.62" fill="#d0d0d0"/>
<rect x="-24" y="169.2" width="120" height="1.62" fill="#d0d0d0"/>
<rect x="-24" y="172.8" width="120" height="1.62" fill="#d0d0d0"/>
<rect x="-24" y="176.4" width="120" height="1.62" fill="#d0d0d0"/>
<rect x="-24" y="180" width="120" height="1.62" fill="#d0d0d0"/>
<rect x="-24" y="183.6" width="120" height="1.62" fill="#d0d0d0"/>
</g></g>
<mask id="fm0_19_39" maskUnits="userSpaceOnUse" x="0" y="0" width="685" height="633"><polygon points="19.5,39.4 40,39.4 40,55 19.5,58" fill="#fff" filter="url(#edge)"/></mask>
<g clip-path="url(#cp0)" mask="url(#fm0_19_39)" opacity="0.3"><g transform="rotate(30 29.75 47.95)" filter="url(#soft)">
<rect x="-30.25" y="-12.05" width="120" height="120" fill="#303030"/>
<rect x="-30.25" y="-12.05" width="120" height="2.02" fill="#d0d0d0"/>
<rect x="-30.25" y="-7.55" width="120" height="2.02" fill="#d0d0d0"/>
<rect x="-30.25" y="-3.05" width="120" height="2.02" fill="#d0d0d0"/>
<rect x="-30.25" y="1.45" width="120" height="2.02" fill="#d0d0d0"/>
<rect x="-30.25" y="5.95" width="120" height="2.02" fill="#d0d0d0"/>
<rect x="-30.25" y="10.45" width="120" height="2.02" fill="#d0d0d0"/>
<rect x="-30.25" y="14.95" width="120" height="2.02" fill="#d0d0d0"/>
<rect x="-30.25" y="19.45" width="120" height="2.02" fill="#d0d0d0"/>
<rect x="-30.25" y="23.95" width="120" height="2.02" fill="#d0d0d0"/>
<rect x="-30.25" y="28.45" width="120" height="2.02" fill="#d0d0d0"/>
<rect x="-30.25" y="32.95" width="120" height="2.02" fill="#d0d0d0"/>
<rect x="-30.25" y="37.45" width="120" height="2.02" fill="#d0d0d0"/>
<rect x="-30.25" y="41.95" width="120" height="2.02" fill="#d0d0d0"/>
<rect x="-30.25" y="46.45" width="120" height="2.02" fill="#d0d0d0"/>
<rect x="-30.25" y="50.95" width="120" height="2.02" fill="#d0d0d0"/>
<rect x="-30.25" y="55.45" width="120" height="2.02" fill="#d0d0d0"/>
<rect x="-30.25" y="59.95" width="120" height="2.02" fill="#d0d0d0"/>
<rect x="-30.25" y="64.45" width="120" height="2.02" fill="#d0d0d0"/>
<rect x="-30.25" y="68.95" width="120" height="2.02" fill="#d0d0d0"/>
<rect x="-30.25" y="73.45" width="120" height="2.02" fill="#d0d0d0"/>
<rect x="-30.25" y="77.95" width="120" height="2.02" fill="#d0d0d0"/>
<rect x="-30.25" y="82.45" width="120" height="2.02" fill="#d0d0d0"/>
<rect x="-30.25" y="86.95" width="120" height="2.02" fill="#d0d0d0"/>
<rect x="-30.25" y="91.45" width="120" height="2.02" fill="#d0d0d0"/>
<rect x="-30.25" y="95.95" width="120" height="2.02" fill="#d0d0d0"/>
<rect x="-30.25" y="100.45" width="120" height="2.02" fill="#d0d0d0"/>
<rect x="-30.25" y="104.95" width="120" height="2.02" fill="#d0d0d0"/>
</g></g>
<rect x="24.7" y="143.7" width="43.6" height="20.1" fill="#fff" stroke="#000" stroke-width="1.4"/>
<text x="30.6" y="155.7" class="sb" textLength="29.8" lengthAdjust="spacingAndGlyphs">2 nm</text>
<rect x="28.8" y="158.55" width="35.2" height="1.3" fill="#000"/>
<text x="7.5" y="107.7" class="rl" text-anchor="middle" transform="rotate(-90 7.5 107.7)" dy="4.9" textLength="33.8" lengthAdjust="spacingAndGlyphs">CeOx</text>
<rect x="222.83" y="145.52" width="5.95" height="1.98" fill="#808080" stroke="#222" stroke-width="1"/>
<rect x="230.78" y="127.23" width="5.95" height="20.27" fill="#808080" stroke="#222" stroke-width="1"/>
<rect x="238.72" y="72.67" width="5.95" height="74.83" fill="#808080" stroke="#222" stroke-width="1"/>
<rect x="246.68" y="99.95" width="5.95" height="47.55" fill="#808080" stroke="#222" stroke-width="1"/>
<rect x="254.62" y="86" width="5.95" height="61.5" fill="#808080" stroke="#222" stroke-width="1"/>
<rect x="262.57" y="115.76" width="5.95" height="31.74" fill="#808080" stroke="#222" stroke-width="1"/>
<rect x="270.52" y="122.89" width="5.95" height="24.61" fill="#808080" stroke="#222" stroke-width="1"/>
<rect x="278.48" y="124.75" width="5.95" height="22.75" fill="#808080" stroke="#222" stroke-width="1"/>
<rect x="286.43" y="138.7" width="5.95" height="8.8" fill="#808080" stroke="#222" stroke-width="1"/>
<rect x="294.38" y="134.05" width="5.95" height="13.45" fill="#808080" stroke="#222" stroke-width="1"/>
<line x1="205.8" y1="54.5" x2="205.8" y2="148" stroke="#5a5a5a" stroke-width="1"/>
<line x1="205.3" y1="147.5" x2="308.3" y2="147.5" stroke="#5a5a5a" stroke-width="1"/>
<line x1="204" y1="147.5" x2="205.8" y2="147.5" stroke="#5a5a5a" stroke-width="0.8"/>
<line x1="204.8" y1="139.75" x2="205.8" y2="139.75" stroke="#5a5a5a" stroke-width="0.8"/>
<line x1="204" y1="132" x2="205.8" y2="132" stroke="#5a5a5a" stroke-width="0.8"/>
<line x1="204.8" y1="124.25" x2="205.8" y2="124.25" stroke="#5a5a5a" stroke-width="0.8"/>
<line x1="204" y1="116.5" x2="205.8" y2="116.5" stroke="#5a5a5a" stroke-width="0.8"/>
<line x1="204.8" y1="108.75" x2="205.8" y2="108.75" stroke="#5a5a5a" stroke-width="0.8"/>
<line x1="204" y1="101" x2="205.8" y2="101" stroke="#5a5a5a" stroke-width="0.8"/>
<line x1="204.8" y1="93.25" x2="205.8" y2="93.25" stroke="#5a5a5a" stroke-width="0.8"/>
<line x1="204" y1="85.5" x2="205.8" y2="85.5" stroke="#5a5a5a" stroke-width="0.8"/>
<line x1="204.8" y1="77.75" x2="205.8" y2="77.75" stroke="#5a5a5a" stroke-width="0.8"/>
<line x1="204" y1="70" x2="205.8" y2="70" stroke="#5a5a5a" stroke-width="0.8"/>
<line x1="204.8" y1="62.25" x2="205.8" y2="62.25" stroke="#5a5a5a" stroke-width="0.8"/>
<line x1="204" y1="54.5" x2="205.8" y2="54.5" stroke="#5a5a5a" stroke-width="0.8"/>
<text x="203.8" y="149.3" class="tk" text-anchor="end">0</text>
<text x="203.8" y="133.8" class="tk" text-anchor="end">5</text>
<text x="203.8" y="118.3" class="tk" text-anchor="end" textLength="5.98" lengthAdjust="spacingAndGlyphs">10</text>
<text x="203.8" y="102.8" class="tk" text-anchor="end" textLength="5.98" lengthAdjust="spacingAndGlyphs">15</text>
<text x="203.8" y="87.3" class="tk" text-anchor="end" textLength="5.98" lengthAdjust="spacingAndGlyphs">20</text>
<text x="203.8" y="71.8" class="tk" text-anchor="end" textLength="5.98" lengthAdjust="spacingAndGlyphs">25</text>
<text x="203.8" y="56.3" class="tk" text-anchor="end" textLength="5.98" lengthAdjust="spacingAndGlyphs">30</text>
<line x1="209.9" y1="147.5" x2="209.9" y2="149.3" stroke="#5a5a5a" stroke-width="0.8"/>
<line x1="217.85" y1="147.5" x2="217.85" y2="148.5" stroke="#5a5a5a" stroke-width="0.8"/>
<line x1="225.8" y1="147.5" x2="225.8" y2="149.3" stroke="#5a5a5a" stroke-width="0.8"/>
<line x1="233.75" y1="147.5" x2="233.75" y2="148.5" stroke="#5a5a5a" stroke-width="0.8"/>
<line x1="241.7" y1="147.5" x2="241.7" y2="149.3" stroke="#5a5a5a" stroke-width="0.8"/>
<line x1="249.65" y1="147.5" x2="249.65" y2="148.5" stroke="#5a5a5a" stroke-width="0.8"/>
<line x1="257.6" y1="147.5" x2="257.6" y2="149.3" stroke="#5a5a5a" stroke-width="0.8"/>
<line x1="265.55" y1="147.5" x2="265.55" y2="148.5" stroke="#5a5a5a" stroke-width="0.8"/>
<line x1="273.5" y1="147.5" x2="273.5" y2="149.3" stroke="#5a5a5a" stroke-width="0.8"/>
<line x1="281.45" y1="147.5" x2="281.45" y2="148.5" stroke="#5a5a5a" stroke-width="0.8"/>
<line x1="289.4" y1="147.5" x2="289.4" y2="149.3" stroke="#5a5a5a" stroke-width="0.8"/>
<line x1="297.35" y1="147.5" x2="297.35" y2="148.5" stroke="#5a5a5a" stroke-width="0.8"/>
<line x1="305.3" y1="147.5" x2="305.3" y2="149.3" stroke="#5a5a5a" stroke-width="0.8"/>
<text x="209.9" y="154.5" class="tk" text-anchor="middle">2</text>
<text x="225.8" y="154.5" class="tk" text-anchor="middle">3</text>
<text x="241.7" y="154.5" class="tk" text-anchor="middle">4</text>
<text x="257.6" y="154.5" class="tk" text-anchor="middle">5</text>
<text x="273.5" y="154.5" class="tk" text-anchor="middle">6</text>
<text x="289.4" y="154.5" class="tk" text-anchor="middle">7</text>
<text x="305.3" y="154.5" class="tk" text-anchor="middle">8</text>
<text x="228.15" y="166.1" class="al" textLength="59.1" lengthAdjust="spacingAndGlyphs">Feret diameter (nm)</text>
<text x="194.3" y="123.95" class="yl" textLength="36.5" lengthAdjust="spacingAndGlyphs" transform="rotate(-90 194.3 123.95)">Frequency</text>
<rect x="276" y="62.5" width="13.5" height="5.8" fill="#808080" stroke="#222" stroke-width="1"/>
<text x="292.1" y="68" class="lg">CeOx</text>
<rect x="408.6" y="140.75" width="6" height="6.75" fill="#808080" stroke="#222" stroke-width="1"/>
<rect x="416.6" y="122.89" width="6" height="24.61" fill="#808080" stroke="#222" stroke-width="1"/>
<rect x="424.6" y="88.67" width="6" height="58.83" fill="#808080" stroke="#222" stroke-width="1"/>
<rect x="432.6" y="108.01" width="6" height="39.49" fill="#808080" stroke="#222" stroke-width="1"/>
<rect x="440.6" y="121.96" width="6" height="25.54" fill="#808080" stroke="#222" stroke-width="1"/>
<rect x="448.6" y="131.26" width="6" height="16.24" fill="#808080" stroke="#222" stroke-width="1"/>
<rect x="456.6" y="140.75" width="6" height="6.75" fill="#808080" stroke="#222" stroke-width="1"/>
<rect x="464.6" y="140.75" width="6" height="6.75" fill="#808080" stroke="#222" stroke-width="1"/>
<line x1="383.3" y1="54.5" x2="383.3" y2="148" stroke="#5a5a5a" stroke-width="1"/>
<line x1="382.8" y1="147.5" x2="487.3" y2="147.5" stroke="#5a5a5a" stroke-width="1"/>
<line x1="381.5" y1="147.5" x2="383.3" y2="147.5" stroke="#5a5a5a" stroke-width="0.8"/>
<line x1="382.3" y1="138.2" x2="383.3" y2="138.2" stroke="#5a5a5a" stroke-width="0.8"/>
<line x1="381.5" y1="128.9" x2="383.3" y2="128.9" stroke="#5a5a5a" stroke-width="0.8"/>
<line x1="382.3" y1="119.6" x2="383.3" y2="119.6" stroke="#5a5a5a" stroke-width="0.8"/>
<line x1="381.5" y1="110.3" x2="383.3" y2="110.3" stroke="#5a5a5a" stroke-width="0.8"/>
<line x1="382.3" y1="101" x2="383.3" y2="101" stroke="#5a5a5a" stroke-width="0.8"/>
<line x1="381.5" y1="91.7" x2="383.3" y2="91.7" stroke="#5a5a5a" stroke-width="0.8"/>
<line x1="382.3" y1="82.4" x2="383.3" y2="82.4" stroke="#5a5a5a" stroke-width="0.8"/>
<line x1="381.5" y1="73.1" x2="383.3" y2="73.1" stroke="#5a5a5a" stroke-width="0.8"/>
<line x1="382.3" y1="63.8" x2="383.3" y2="63.8" stroke="#5a5a5a" stroke-width="0.8"/>
<line x1="381.5" y1="54.5" x2="383.3" y2="54.5" stroke="#5a5a5a" stroke-width="0.8"/>
<text x="381.3" y="149.3" class="tk" text-anchor="end">0</text>
<text x="381.3" y="130.7" class="tk" text-anchor="end" textLength="5.98" lengthAdjust="spacingAndGlyphs">10</text>
<text x="381.3" y="112.1" class="tk" text-anchor="end" textLength="5.98" lengthAdjust="spacingAndGlyphs">20</text>
<text x="381.3" y="93.5" class="tk" text-anchor="end" textLength="5.98" lengthAdjust="spacingAndGlyphs">30</text>
<text x="381.3" y="74.9" class="tk" text-anchor="end" textLength="5.98" lengthAdjust="spacingAndGlyphs">40</text>
<text x="381.3" y="56.3" class="tk" text-anchor="end" textLength="5.98" lengthAdjust="spacingAndGlyphs">50</text>
<line x1="387.6" y1="147.5" x2="387.6" y2="149.3" stroke="#5a5a5a" stroke-width="0.8"/>
<line x1="395.6" y1="147.5" x2="395.6" y2="148.5" stroke="#5a5a5a" stroke-width="0.8"/>
<line x1="403.6" y1="147.5" x2="403.6" y2="149.3" stroke="#5a5a5a" stroke-width="0.8"/>
<line x1="411.6" y1="147.5" x2="411.6" y2="148.5" stroke="#5a5a5a" stroke-width="0.8"/>
<line x1="419.6" y1="147.5" x2="419.6" y2="149.3" stroke="#5a5a5a" stroke-width="0.8"/>
<line x1="427.6" y1="147.5" x2="427.6" y2="148.5" stroke="#5a5a5a" stroke-width="0.8"/>
<line x1="435.6" y1="147.5" x2="435.6" y2="149.3" stroke="#5a5a5a" stroke-width="0.8"/>
<line x1="443.6" y1="147.5" x2="443.6" y2="148.5" stroke="#5a5a5a" stroke-width="0.8"/>
<line x1="451.6" y1="147.5" x2="451.6" y2="149.3" stroke="#5a5a5a" stroke-width="0.8"/>
<line x1="459.6" y1="147.5" x2="459.6" y2="148.5" stroke="#5a5a5a" stroke-width="0.8"/>
<line x1="467.6" y1="147.5" x2="467.6" y2="149.3" stroke="#5a5a5a" stroke-width="0.8"/>
<line x1="475.6" y1="147.5" x2="475.6" y2="148.5" stroke="#5a5a5a" stroke-width="0.8"/>
<line x1="483.6" y1="147.5" x2="483.6" y2="149.3" stroke="#5a5a5a" stroke-width="0.8"/>
<text x="387.6" y="154.5" class="tk" text-anchor="middle">1</text>
<text x="403.6" y="154.5" class="tk" text-anchor="middle">2</text>
<text x="419.6" y="154.5" class="tk" text-anchor="middle">3</text>
<text x="435.6" y="154.5" class="tk" text-anchor="middle">4</text>
<text x="451.6" y="154.5" class="tk" text-anchor="middle">5</text>
<text x="467.6" y="154.5" class="tk" text-anchor="middle">6</text>
<text x="483.6" y="154.5" class="tk" text-anchor="middle">7</text>
<text x="400.8" y="166.1" class="al" textLength="70.8" lengthAdjust="spacingAndGlyphs">MinFeret diameter (nm)</text>
<text x="371.8" y="123.95" class="yl" textLength="36.5" lengthAdjust="spacingAndGlyphs" transform="rotate(-90 371.8 123.95)">Frequency</text>
<rect x="455.5" y="62.5" width="13.6" height="5.8" fill="#808080" stroke="#222" stroke-width="1"/>
<text x="471.7" y="68" class="lg">CeOx</text>
<rect x="573.85" y="91.58" width="3.1" height="55.92" fill="#808080" stroke="#222" stroke-width="1"/>
<rect x="577.95" y="65.33" width="3.1" height="82.17" fill="#808080" stroke="#222" stroke-width="1"/>
<rect x="582.05" y="105.43" width="3.1" height="42.07" fill="#808080" stroke="#222" stroke-width="1"/>
<rect x="586.15" y="137.46" width="3.1" height="10.04" fill="#808080" stroke="#222" stroke-width="1"/>
<rect x="590.25" y="137.46" width="3.1" height="10.04" fill="#808080" stroke="#222" stroke-width="1"/>
<rect x="594.35" y="146.55" width="3.1" height="0.95" fill="#808080" stroke="#222" stroke-width="1"/>
<rect x="598.45" y="146.55" width="3.1" height="0.95" fill="#808080" stroke="#222" stroke-width="1"/>
<rect x="606.65" y="146.55" width="3.1" height="0.95" fill="#808080" stroke="#222" stroke-width="1"/>
<line x1="560.6" y1="54.5" x2="560.6" y2="148" stroke="#5a5a5a" stroke-width="1"/>
<line x1="560.1" y1="147.5" x2="664.5" y2="147.5" stroke="#5a5a5a" stroke-width="1"/>
<line x1="558.8" y1="147.5" x2="560.6" y2="147.5" stroke="#5a5a5a" stroke-width="0.8"/>
<line x1="559.6" y1="137.17" x2="560.6" y2="137.17" stroke="#5a5a5a" stroke-width="0.8"/>
<line x1="558.8" y1="126.83" x2="560.6" y2="126.83" stroke="#5a5a5a" stroke-width="0.8"/>
<line x1="559.6" y1="116.5" x2="560.6" y2="116.5" stroke="#5a5a5a" stroke-width="0.8"/>
<line x1="558.8" y1="106.17" x2="560.6" y2="106.17" stroke="#5a5a5a" stroke-width="0.8"/>
<line x1="559.6" y1="95.83" x2="560.6" y2="95.83" stroke="#5a5a5a" stroke-width="0.8"/>
<line x1="558.8" y1="85.5" x2="560.6" y2="85.5" stroke="#5a5a5a" stroke-width="0.8"/>
<line x1="559.6" y1="75.17" x2="560.6" y2="75.17" stroke="#5a5a5a" stroke-width="0.8"/>
<line x1="558.8" y1="64.83" x2="560.6" y2="64.83" stroke="#5a5a5a" stroke-width="0.8"/>
<line x1="559.6" y1="54.5" x2="560.6" y2="54.5" stroke="#5a5a5a" stroke-width="0.8"/>
<text x="558.6" y="149.3" class="tk" text-anchor="end">0</text>
<text x="558.6" y="128.63" class="tk" text-anchor="end" textLength="5.98" lengthAdjust="spacingAndGlyphs">10</text>
<text x="558.6" y="107.97" class="tk" text-anchor="end" textLength="5.98" lengthAdjust="spacingAndGlyphs">20</text>
<text x="558.6" y="87.3" class="tk" text-anchor="end" textLength="5.98" lengthAdjust="spacingAndGlyphs">30</text>
<text x="558.6" y="66.63" class="tk" text-anchor="end" textLength="5.98" lengthAdjust="spacingAndGlyphs">40</text>
<line x1="571.3" y1="147.5" x2="571.3" y2="149.3" stroke="#5a5a5a" stroke-width="0.8"/>
<line x1="581.55" y1="147.5" x2="581.55" y2="148.5" stroke="#5a5a5a" stroke-width="0.8"/>
<line x1="591.8" y1="147.5" x2="591.8" y2="149.3" stroke="#5a5a5a" stroke-width="0.8"/>
<line x1="602.05" y1="147.5" x2="602.05" y2="148.5" stroke="#5a5a5a" stroke-width="0.8"/>
<line x1="612.3" y1="147.5" x2="612.3" y2="149.3" stroke="#5a5a5a" stroke-width="0.8"/>
<line x1="622.55" y1="147.5" x2="622.55" y2="148.5" stroke="#5a5a5a" stroke-width="0.8"/>
<line x1="632.8" y1="147.5" x2="632.8" y2="149.3" stroke="#5a5a5a" stroke-width="0.8"/>
<line x1="643.05" y1="147.5" x2="643.05" y2="148.5" stroke="#5a5a5a" stroke-width="0.8"/>
<line x1="653.3" y1="147.5" x2="653.3" y2="149.3" stroke="#5a5a5a" stroke-width="0.8"/>
<line x1="663.55" y1="147.5" x2="663.55" y2="148.5" stroke="#5a5a5a" stroke-width="0.8"/>
<text x="571.3" y="154.5" class="tk" text-anchor="middle" textLength="7.4" lengthAdjust="spacingAndGlyphs">1.0</text>
<text x="591.8" y="154.5" class="tk" text-anchor="middle" textLength="7.4" lengthAdjust="spacingAndGlyphs">1.5</text>
<text x="612.3" y="154.5" class="tk" text-anchor="middle" textLength="7.4" lengthAdjust="spacingAndGlyphs">2.0</text>
<text x="632.8" y="154.5" class="tk" text-anchor="middle" textLength="7.4" lengthAdjust="spacingAndGlyphs">2.5</text>
<text x="653.3" y="154.5" class="tk" text-anchor="middle" textLength="7.4" lengthAdjust="spacingAndGlyphs">3.0</text>
<text x="593.2" y="166.1" class="al" textLength="38.4" lengthAdjust="spacingAndGlyphs">Aspect Ratio</text>
<text x="549.1" y="123.95" class="yl" textLength="36.5" lengthAdjust="spacingAndGlyphs" transform="rotate(-90 549.1 123.95)">Frequency</text>
<rect x="630.5" y="62.5" width="13.6" height="5.8" fill="#808080" stroke="#222" stroke-width="1"/>
<text x="646.7" y="68" class="lg">CeOx</text>
<rect x="21.5" y="188.4" width="128.1" height="1.6" fill="#f1f1f1"/>
<rect x="21.5" y="325.1" width="128.1" height="1.6" fill="#f1f1f1"/>
<rect x="19.5" y="193.2" width="130.1" height="128.6" fill="#808080"/>
<rect x="19.5" y="193.2" width="130.1" height="128.6" fill="#808080" filter="url(#noise1)"/>
<clipPath id="cp1"><rect x="19.5" y="193.2" width="130.1" height="128.6"/></clipPath>
<g clip-path="url(#cp1)" opacity="0.88">
<polygon points="56.83,211.59 81.57,204.12 107.27,212.66 122.31,223.43 134.14,238.46 137.34,255.63 130.94,272.8 109.4,281.34 85.83,287.84 64.4,289.97 49.36,287.84 44.03,272.8 44.03,240.6 49.36,223.43" fill="#151515" filter="url(#edge2)" opacity="0.92"/>
<g filter="url(#soft)">
<ellipse cx="57.26" cy="211.37" rx="2.5" ry="1.65" transform="rotate(-19 57.26 211.37)" fill="rgb(136,136,136)"/>
<ellipse cx="61.42" cy="209.94" rx="2.5" ry="1.65" transform="rotate(-19 61.42 209.94)" fill="rgb(119,119,119)"/>
<ellipse cx="65.58" cy="208.5" rx="2.5" ry="1.65" transform="rotate(-19 65.58 208.5)" fill="rgb(139,139,139)"/>
<ellipse cx="69.74" cy="207.07" rx="2.5" ry="1.65" transform="rotate(-19 69.74 207.07)" fill="rgb(132,132,132)"/>
<ellipse cx="73.9" cy="205.64" rx="2.5" ry="1.65" transform="rotate(-19 73.9 205.64)" fill="rgb(114,114,114)"/>
<ellipse cx="78.06" cy="204.21" rx="2.5" ry="1.65" transform="rotate(-19 78.06 204.21)" fill="rgb(115,115,115)"/>
<ellipse cx="52.7" cy="218.39" rx="2.5" ry="1.65" transform="rotate(-19 52.7 218.39)" fill="rgb(130,130,130)"/>
<ellipse cx="56.86" cy="216.95" rx="2.5" ry="1.65" transform="rotate(-19 56.86 216.95)" fill="rgb(188,188,188)"/>
<ellipse cx="61.02" cy="215.52" rx="2.5" ry="1.65" transform="rotate(-19 61.02 215.52)" fill="rgb(192,192,192)"/>
<ellipse cx="65.18" cy="214.09" rx="2.5" ry="1.65" transform="rotate(-19 65.18 214.09)" fill="rgb(216,216,216)"/>
<ellipse cx="69.34" cy="212.66" rx="2.5" ry="1.65" transform="rotate(-19 69.34 212.66)" fill="rgb(187,187,187)"/>
<ellipse cx="73.5" cy="211.22" rx="2.5" ry="1.65" transform="rotate(-19 73.5 211.22)" fill="rgb(233,233,233)"/>
<ellipse cx="77.66" cy="209.79" rx="2.5" ry="1.65" transform="rotate(-19 77.66 209.79)" fill="rgb(179,179,179)"/>
<ellipse cx="81.82" cy="208.36" rx="2.5" ry="1.65" transform="rotate(-19 81.82 208.36)" fill="rgb(186,186,186)"/>
<ellipse cx="85.98" cy="206.93" rx="2.5" ry="1.65" transform="rotate(-19 85.98 206.93)" fill="rgb(149,149,149)"/>
<ellipse cx="48.14" cy="225.4" rx="2.5" ry="1.65" transform="rotate(-19 48.14 225.4)" fill="rgb(126,126,126)"/>
<ellipse cx="52.3" cy="223.97" rx="2.5" ry="1.65" transform="rotate(-19 52.3 223.97)" fill="rgb(196,196,196)"/>
<ellipse cx="56.46" cy="222.54" rx="2.5" ry="1.65" transform="rotate(-19 56.46 222.54)" fill="rgb(203,203,203)"/>
<ellipse cx="60.62" cy="221.11" rx="2.5" ry="1.65" transform="rotate(-19 60.62 221.11)" fill="rgb(194,194,194)"/>
<ellipse cx="64.78" cy="219.67" rx="2.5" ry="1.65" transform="rotate(-19 64.78 219.67)" fill="rgb(213,213,213)"/>
<ellipse cx="68.94" cy="218.24" rx="2.5" ry="1.65" transform="rotate(-19 68.94 218.24)" fill="rgb(199,199,199)"/>
<ellipse cx="73.1" cy="216.81" rx="2.5" ry="1.65" transform="rotate(-19 73.1 216.81)" fill="rgb(187,187,187)"/>
<ellipse cx="77.26" cy="215.38" rx="2.5" ry="1.65" transform="rotate(-19 77.26 215.38)" fill="rgb(200,200,200)"/>
<ellipse cx="81.42" cy="213.94" rx="2.5" ry="1.65" transform="rotate(-19 81.42 213.94)" fill="rgb(193,193,193)"/>
<ellipse cx="85.58" cy="212.51" rx="2.5" ry="1.65" transform="rotate(-19 85.58 212.51)" fill="rgb(181,181,181)"/>
<ellipse cx="89.74" cy="211.08" rx="2.5" ry="1.65" transform="rotate(-19 89.74 211.08)" fill="rgb(224,224,224)"/>
<ellipse cx="93.9" cy="209.65" rx="2.5" ry="1.65" transform="rotate(-19 93.9 209.65)" fill="rgb(179,179,179)"/>
<ellipse cx="47.73" cy="230.99" rx="2.5" ry="1.65" transform="rotate(-19 47.73 230.99)" fill="rgb(160,160,160)"/>
<ellipse cx="51.89" cy="229.56" rx="2.5" ry="1.65" transform="rotate(-19 51.89 229.56)" fill="rgb(227,227,227)"/>
<ellipse cx="56.05" cy="228.12" rx="2.5" ry="1.65" transform="rotate(-19 56.05 228.12)" fill="rgb(198,198,198)"/>
<ellipse cx="60.21" cy="226.69" rx="2.5" ry="1.65" transform="rotate(-19 60.21 226.69)" fill="rgb(197,197,197)"/>
<ellipse cx="64.37" cy="225.26" rx="2.5" ry="1.65" transform="rotate(-19 64.37 225.26)" fill="rgb(200,200,200)"/>
<ellipse cx="68.53" cy="223.83" rx="2.5" ry="1.65" transform="rotate(-19 68.53 223.83)" fill="rgb(199,199,199)"/>
<ellipse cx="72.69" cy="222.39" rx="2.5" ry="1.65" transform="rotate(-19 72.69 222.39)" fill="rgb(215,215,215)"/>
<ellipse cx="76.85" cy="220.96" rx="2.5" ry="1.65" transform="rotate(-19 76.85 220.96)" fill="rgb(175,175,175)"/>
<ellipse cx="81.01" cy="219.53" rx="2.5" ry="1.65" transform="rotate(-19 81.01 219.53)" fill="rgb(202,202,202)"/>
<ellipse cx="85.17" cy="218.1" rx="2.5" ry="1.65" transform="rotate(-19 85.17 218.1)" fill="rgb(207,207,207)"/>
<ellipse cx="89.34" cy="216.66" rx="2.5" ry="1.65" transform="rotate(-19 89.34 216.66)" fill="rgb(195,195,195)"/>
<ellipse cx="93.5" cy="215.23" rx="2.5" ry="1.65" transform="rotate(-19 93.5 215.23)" fill="rgb(176,176,176)"/>
<ellipse cx="97.66" cy="213.8" rx="2.5" ry="1.65" transform="rotate(-19 97.66 213.8)" fill="rgb(217,217,217)"/>
<ellipse cx="101.82" cy="212.37" rx="2.5" ry="1.65" transform="rotate(-19 101.82 212.37)" fill="rgb(149,149,149)"/>
<ellipse cx="105.98" cy="210.93" rx="2.5" ry="1.65" transform="rotate(-19 105.98 210.93)" fill="rgb(101,101,101)"/>
<ellipse cx="47.33" cy="236.58" rx="2.5" ry="1.65" transform="rotate(-19 47.33 236.58)" fill="rgb(170,170,170)"/>
<ellipse cx="51.49" cy="235.14" rx="2.5" ry="1.65" transform="rotate(-19 51.49 235.14)" fill="rgb(177,177,177)"/>
<ellipse cx="55.65" cy="233.71" rx="2.5" ry="1.65" transform="rotate(-19 55.65 233.71)" fill="rgb(185,185,185)"/>
<ellipse cx="59.81" cy="232.28" rx="2.5" ry="1.65" transform="rotate(-19 59.81 232.28)" fill="rgb(178,178,178)"/>
<ellipse cx="63.97" cy="230.85" rx="2.5" ry="1.65" transform="rotate(-19 63.97 230.85)" fill="rgb(184,184,184)"/>
<ellipse cx="68.13" cy="229.41" rx="2.5" ry="1.65" transform="rotate(-19 68.13 229.41)" fill="rgb(216,216,216)"/>
<ellipse cx="72.29" cy="227.98" rx="2.5" ry="1.65" transform="rotate(-19 72.29 227.98)" fill="rgb(218,218,218)"/>
<ellipse cx="76.45" cy="226.55" rx="2.5" ry="1.65" transform="rotate(-19 76.45 226.55)" fill="rgb(196,196,196)"/>
<ellipse cx="80.61" cy="225.12" rx="2.5" ry="1.65" transform="rotate(-19 80.61 225.12)" fill="rgb(214,214,214)"/>
<ellipse cx="84.77" cy="223.68" rx="2.5" ry="1.65" transform="rotate(-19 84.77 223.68)" fill="rgb(203,203,203)"/>
<ellipse cx="88.93" cy="222.25" rx="2.5" ry="1.65" transform="rotate(-19 88.93 222.25)" fill="rgb(204,204,204)"/>
<ellipse cx="93.09" cy="220.82" rx="2.5" ry="1.65" transform="rotate(-19 93.09 220.82)" fill="rgb(227,227,227)"/>
<ellipse cx="97.25" cy="219.39" rx="2.5" ry="1.65" transform="rotate(-19 97.25 219.39)" fill="rgb(193,193,193)"/>
<ellipse cx="101.41" cy="217.95" rx="2.5" ry="1.65" transform="rotate(-19 101.41 217.95)" fill="rgb(227,227,227)"/>
<ellipse cx="105.57" cy="216.52" rx="2.5" ry="1.65" transform="rotate(-19 105.57 216.52)" fill="rgb(216,216,216)"/>
<ellipse cx="109.73" cy="215.09" rx="2.5" ry="1.65" transform="rotate(-19 109.73 215.09)" fill="rgb(155,155,155)"/>
<ellipse cx="42.77" cy="243.59" rx="2.5" ry="1.65" transform="rotate(-19 42.77 243.59)" fill="rgb(88,88,88)"/>
<ellipse cx="46.93" cy="242.16" rx="2.5" ry="1.65" transform="rotate(-19 46.93 242.16)" fill="rgb(180,180,180)"/>
<ellipse cx="51.09" cy="240.73" rx="2.5" ry="1.65" transform="rotate(-19 51.09 240.73)" fill="rgb(176,176,176)"/>
<ellipse cx="55.25" cy="239.3" rx="2.5" ry="1.65" transform="rotate(-19 55.25 239.3)" fill="rgb(195,195,195)"/>
<ellipse cx="59.41" cy="237.86" rx="2.5" ry="1.65" transform="rotate(-19 59.41 237.86)" fill="rgb(231,231,231)"/>
<ellipse cx="63.57" cy="236.43" rx="2.5" ry="1.65" transform="rotate(-19 63.57 236.43)" fill="rgb(227,227,227)"/>
<ellipse cx="67.73" cy="235" rx="2.5" ry="1.65" transform="rotate(-19 67.73 235)" fill="rgb(225,225,225)"/>
<ellipse cx="71.89" cy="233.57" rx="2.5" ry="1.65" transform="rotate(-19 71.89 233.57)" fill="rgb(182,182,182)"/>
<ellipse cx="76.05" cy="232.13" rx="2.5" ry="1.65" transform="rotate(-19 76.05 232.13)" fill="rgb(217,217,217)"/>
<ellipse cx="80.21" cy="230.7" rx="2.5" ry="1.65" transform="rotate(-19 80.21 230.7)" fill="rgb(221,221,221)"/>
<ellipse cx="84.37" cy="229.27" rx="2.5" ry="1.65" transform="rotate(-19 84.37 229.27)" fill="rgb(223,223,223)"/>
<ellipse cx="88.53" cy="227.84" rx="2.5" ry="1.65" transform="rotate(-19 88.53 227.84)" fill="rgb(222,222,222)"/>
<ellipse cx="92.69" cy="226.4" rx="2.5" ry="1.65" transform="rotate(-19 92.69 226.4)" fill="rgb(183,183,183)"/>
<ellipse cx="96.85" cy="224.97" rx="2.5" ry="1.65" transform="rotate(-19 96.85 224.97)" fill="rgb(185,185,185)"/>
<ellipse cx="101.01" cy="223.54" rx="2.5" ry="1.65" transform="rotate(-19 101.01 223.54)" fill="rgb(222,222,222)"/>
<ellipse cx="105.17" cy="222.11" rx="2.5" ry="1.65" transform="rotate(-19 105.17 222.11)" fill="rgb(219,219,219)"/>
<ellipse cx="109.33" cy="220.67" rx="2.5" ry="1.65" transform="rotate(-19 109.33 220.67)" fill="rgb(228,228,228)"/>
<ellipse cx="113.49" cy="219.24" rx="2.5" ry="1.65" transform="rotate(-19 113.49 219.24)" fill="rgb(178,178,178)"/>
<ellipse cx="46.52" cy="247.75" rx="2.5" ry="1.65" transform="rotate(-19 46.52 247.75)" fill="rgb(225,225,225)"/>
<ellipse cx="50.68" cy="246.31" rx="2.5" ry="1.65" transform="rotate(-19 50.68 246.31)" fill="rgb(183,183,183)"/>
<ellipse cx="54.84" cy="244.88" rx="2.5" ry="1.65" transform="rotate(-19 54.84 244.88)" fill="rgb(232,232,232)"/>
<ellipse cx="59" cy="243.45" rx="2.5" ry="1.65" transform="rotate(-19 59 243.45)" fill="rgb(228,228,228)"/>
<ellipse cx="63.16" cy="242.02" rx="2.5" ry="1.65" transform="rotate(-19 63.16 242.02)" fill="rgb(195,195,195)"/>
<ellipse cx="67.32" cy="240.58" rx="2.5" ry="1.65" transform="rotate(-19 67.32 240.58)" fill="rgb(179,179,179)"/>
<ellipse cx="71.48" cy="239.15" rx="2.5" ry="1.65" transform="rotate(-19 71.48 239.15)" fill="rgb(207,207,207)"/>
<ellipse cx="75.64" cy="237.72" rx="2.5" ry="1.65" transform="rotate(-19 75.64 237.72)" fill="rgb(216,216,216)"/>
<ellipse cx="79.8" cy="236.29" rx="2.5" ry="1.65" transform="rotate(-19 79.8 236.29)" fill="rgb(196,196,196)"/>
<ellipse cx="83.96" cy="234.85" rx="2.5" ry="1.65" transform="rotate(-19 83.96 234.85)" fill="rgb(178,178,178)"/>
<ellipse cx="88.12" cy="233.42" rx="2.5" ry="1.65" transform="rotate(-19 88.12 233.42)" fill="rgb(191,191,191)"/>
<ellipse cx="92.28" cy="231.99" rx="2.5" ry="1.65" transform="rotate(-19 92.28 231.99)" fill="rgb(224,224,224)"/>
<ellipse cx="96.45" cy="230.56" rx="2.5" ry="1.65" transform="rotate(-19 96.45 230.56)" fill="rgb(180,180,180)"/>
<ellipse cx="100.61" cy="229.12" rx="2.5" ry="1.65" transform="rotate(-19 100.61 229.12)" fill="rgb(231,231,231)"/>
<ellipse cx="104.77" cy="227.69" rx="2.5" ry="1.65" transform="rotate(-19 104.77 227.69)" fill="rgb(190,190,190)"/>
<ellipse cx="108.93" cy="226.26" rx="2.5" ry="1.65" transform="rotate(-19 108.93 226.26)" fill="rgb(187,187,187)"/>
<ellipse cx="113.09" cy="224.83" rx="2.5" ry="1.65" transform="rotate(-19 113.09 224.83)" fill="rgb(181,181,181)"/>
<ellipse cx="117.25" cy="223.39" rx="2.5" ry="1.65" transform="rotate(-19 117.25 223.39)" fill="rgb(233,233,233)"/>
<ellipse cx="121.41" cy="221.96" rx="2.5" ry="1.65" transform="rotate(-19 121.41 221.96)" fill="rgb(126,126,126)"/>
<ellipse cx="46.12" cy="253.33" rx="2.5" ry="1.65" transform="rotate(-19 46.12 253.33)" fill="rgb(181,181,181)"/>
<ellipse cx="50.28" cy="251.9" rx="2.5" ry="1.65" transform="rotate(-19 50.28 251.9)" fill="rgb(180,180,180)"/>
<ellipse cx="54.44" cy="250.47" rx="2.5" ry="1.65" transform="rotate(-19 54.44 250.47)" fill="rgb(214,214,214)"/>
<ellipse cx="58.6" cy="249.03" rx="2.5" ry="1.65" transform="rotate(-19 58.6 249.03)" fill="rgb(228,228,228)"/>
<ellipse cx="62.76" cy="247.6" rx="2.5" ry="1.65" transform="rotate(-19 62.76 247.6)" fill="rgb(175,175,175)"/>
<ellipse cx="66.92" cy="246.17" rx="2.5" ry="1.65" transform="rotate(-19 66.92 246.17)" fill="rgb(212,212,212)"/>
<ellipse cx="71.08" cy="244.74" rx="2.5" ry="1.65" transform="rotate(-19 71.08 244.74)" fill="rgb(226,226,226)"/>
<ellipse cx="75.24" cy="243.3" rx="2.5" ry="1.65" transform="rotate(-19 75.24 243.3)" fill="rgb(202,202,202)"/>
<ellipse cx="79.4" cy="241.87" rx="2.5" ry="1.65" transform="rotate(-19 79.4 241.87)" fill="rgb(209,209,209)"/>
<ellipse cx="83.56" cy="240.44" rx="2.5" ry="1.65" transform="rotate(-19 83.56 240.44)" fill="rgb(223,223,223)"/>
<ellipse cx="87.72" cy="239.01" rx="2.5" ry="1.65" transform="rotate(-19 87.72 239.01)" fill="rgb(189,189,189)"/>
<ellipse cx="91.88" cy="237.57" rx="2.5" ry="1.65" transform="rotate(-19 91.88 237.57)" fill="rgb(191,191,191)"/>
<ellipse cx="96.04" cy="236.14" rx="2.5" ry="1.65" transform="rotate(-19 96.04 236.14)" fill="rgb(214,214,214)"/>
<ellipse cx="100.2" cy="234.71" rx="2.5" ry="1.65" transform="rotate(-19 100.2 234.71)" fill="rgb(208,208,208)"/>
<ellipse cx="104.36" cy="233.28" rx="2.5" ry="1.65" transform="rotate(-19 104.36 233.28)" fill="rgb(207,207,207)"/>
<ellipse cx="108.52" cy="231.84" rx="2.5" ry="1.65" transform="rotate(-19 108.52 231.84)" fill="rgb(195,195,195)"/>
<ellipse cx="112.68" cy="230.41" rx="2.5" ry="1.65" transform="rotate(-19 112.68 230.41)" fill="rgb(231,231,231)"/>
<ellipse cx="116.84" cy="228.98" rx="2.5" ry="1.65" transform="rotate(-19 116.84 228.98)" fill="rgb(192,192,192)"/>
<ellipse cx="121" cy="227.55" rx="2.5" ry="1.65" transform="rotate(-19 121 227.55)" fill="rgb(215,215,215)"/>
<ellipse cx="125.16" cy="226.11" rx="2.5" ry="1.65" transform="rotate(-19 125.16 226.11)" fill="rgb(130,130,130)"/>
<ellipse cx="45.71" cy="258.92" rx="2.5" ry="1.65" transform="rotate(-19 45.71 258.92)" fill="rgb(175,175,175)"/>
<ellipse cx="49.88" cy="257.49" rx="2.5" ry="1.65" transform="rotate(-19 49.88 257.49)" fill="rgb(178,178,178)"/>
<ellipse cx="54.04" cy="256.05" rx="2.5" ry="1.65" transform="rotate(-19 54.04 256.05)" fill="rgb(188,188,188)"/>
<ellipse cx="58.2" cy="254.62" rx="2.5" ry="1.65" transform="rotate(-19 58.2 254.62)" fill="rgb(178,178,178)"/>
<ellipse cx="62.36" cy="253.19" rx="2.5" ry="1.65" transform="rotate(-19 62.36 253.19)" fill="rgb(183,183,183)"/>
<ellipse cx="66.52" cy="251.76" rx="2.5" ry="1.65" transform="rotate(-19 66.52 251.76)" fill="rgb(182,182,182)"/>
<ellipse cx="70.68" cy="250.32" rx="2.5" ry="1.65" transform="rotate(-19 70.68 250.32)" fill="rgb(195,195,195)"/>
<ellipse cx="74.84" cy="248.89" rx="2.5" ry="1.65" transform="rotate(-19 74.84 248.89)" fill="rgb(197,197,197)"/>
<ellipse cx="79" cy="247.46" rx="2.5" ry="1.65" transform="rotate(-19 79 247.46)" fill="rgb(201,201,201)"/>
<ellipse cx="83.16" cy="246.03" rx="2.5" ry="1.65" transform="rotate(-19 83.16 246.03)" fill="rgb(214,214,214)"/>
<ellipse cx="87.32" cy="244.59" rx="2.5" ry="1.65" transform="rotate(-19 87.32 244.59)" fill="rgb(215,215,215)"/>
<ellipse cx="91.48" cy="243.16" rx="2.5" ry="1.65" transform="rotate(-19 91.48 243.16)" fill="rgb(216,216,216)"/>
<ellipse cx="95.64" cy="241.73" rx="2.5" ry="1.65" transform="rotate(-19 95.64 241.73)" fill="rgb(196,196,196)"/>
<ellipse cx="99.8" cy="240.3" rx="2.5" ry="1.65" transform="rotate(-19 99.8 240.3)" fill="rgb(214,214,214)"/>
<ellipse cx="103.96" cy="238.86" rx="2.5" ry="1.65" transform="rotate(-19 103.96 238.86)" fill="rgb(207,207,207)"/>
<ellipse cx="108.12" cy="237.43" rx="2.5" ry="1.65" transform="rotate(-19 108.12 237.43)" fill="rgb(182,182,182)"/>
<ellipse cx="112.28" cy="236" rx="2.5" ry="1.65" transform="rotate(-19 112.28 236)" fill="rgb(207,207,207)"/>
<ellipse cx="116.44" cy="234.57" rx="2.5" ry="1.65" transform="rotate(-19 116.44 234.57)" fill="rgb(194,194,194)"/>
<ellipse cx="120.6" cy="233.13" rx="2.5" ry="1.65" transform="rotate(-19 120.6 233.13)" fill="rgb(215,215,215)"/>
<ellipse cx="124.76" cy="231.7" rx="2.5" ry="1.65" transform="rotate(-19 124.76 231.7)" fill="rgb(219,219,219)"/>
<ellipse cx="128.92" cy="230.27" rx="2.5" ry="1.65" transform="rotate(-19 128.92 230.27)" fill="rgb(102,102,102)"/>
<ellipse cx="45.31" cy="264.5" rx="2.5" ry="1.65" transform="rotate(-19 45.31 264.5)" fill="rgb(166,166,166)"/>
<ellipse cx="49.47" cy="263.07" rx="2.5" ry="1.65" transform="rotate(-19 49.47 263.07)" fill="rgb(202,202,202)"/>
<ellipse cx="53.63" cy="261.64" rx="2.5" ry="1.65" transform="rotate(-19 53.63 261.64)" fill="rgb(192,192,192)"/>
<ellipse cx="57.79" cy="260.21" rx="2.5" ry="1.65" transform="rotate(-19 57.79 260.21)" fill="rgb(177,177,177)"/>
<ellipse cx="61.95" cy="258.77" rx="2.5" ry="1.65" transform="rotate(-19 61.95 258.77)" fill="rgb(177,177,177)"/>
<ellipse cx="66.11" cy="257.34" rx="2.5" ry="1.65" transform="rotate(-19 66.11 257.34)" fill="rgb(234,234,234)"/>
<ellipse cx="70.27" cy="255.91" rx="2.5" ry="1.65" transform="rotate(-19 70.27 255.91)" fill="rgb(219,219,219)"/>
<ellipse cx="74.43" cy="254.48" rx="2.5" ry="1.65" transform="rotate(-19 74.43 254.48)" fill="rgb(201,201,201)"/>
<ellipse cx="78.59" cy="253.04" rx="2.5" ry="1.65" transform="rotate(-19 78.59 253.04)" fill="rgb(214,214,214)"/>
<ellipse cx="82.75" cy="251.61" rx="2.5" ry="1.65" transform="rotate(-19 82.75 251.61)" fill="rgb(191,191,191)"/>
<ellipse cx="86.91" cy="250.18" rx="2.5" ry="1.65" transform="rotate(-19 86.91 250.18)" fill="rgb(217,217,217)"/>
<ellipse cx="91.07" cy="248.75" rx="2.5" ry="1.65" transform="rotate(-19 91.07 248.75)" fill="rgb(232,232,232)"/>
<ellipse cx="95.23" cy="247.31" rx="2.5" ry="1.65" transform="rotate(-19 95.23 247.31)" fill="rgb(221,221,221)"/>
<ellipse cx="99.4" cy="245.88" rx="2.5" ry="1.65" transform="rotate(-19 99.4 245.88)" fill="rgb(202,202,202)"/>
<ellipse cx="103.56" cy="244.45" rx="2.5" ry="1.65" transform="rotate(-19 103.56 244.45)" fill="rgb(234,234,234)"/>
<ellipse cx="107.72" cy="243.02" rx="2.5" ry="1.65" transform="rotate(-19 107.72 243.02)" fill="rgb(230,230,230)"/>
<ellipse cx="111.88" cy="241.58" rx="2.5" ry="1.65" transform="rotate(-19 111.88 241.58)" fill="rgb(178,178,178)"/>
<ellipse cx="116.04" cy="240.15" rx="2.5" ry="1.65" transform="rotate(-19 116.04 240.15)" fill="rgb(199,199,199)"/>
<ellipse cx="120.2" cy="238.72" rx="2.5" ry="1.65" transform="rotate(-19 120.2 238.72)" fill="rgb(202,202,202)"/>
<ellipse cx="124.36" cy="237.29" rx="2.5" ry="1.65" transform="rotate(-19 124.36 237.29)" fill="rgb(191,191,191)"/>
<ellipse cx="128.52" cy="235.85" rx="2.5" ry="1.65" transform="rotate(-19 128.52 235.85)" fill="rgb(211,211,211)"/>
<ellipse cx="132.68" cy="234.42" rx="2.5" ry="1.65" transform="rotate(-19 132.68 234.42)" fill="rgb(90,90,90)"/>
<ellipse cx="44.91" cy="270.09" rx="2.5" ry="1.65" transform="rotate(-19 44.91 270.09)" fill="rgb(169,169,169)"/>
<ellipse cx="49.07" cy="268.66" rx="2.5" ry="1.65" transform="rotate(-19 49.07 268.66)" fill="rgb(226,226,226)"/>
<ellipse cx="53.23" cy="267.22" rx="2.5" ry="1.65" transform="rotate(-19 53.23 267.22)" fill="rgb(178,178,178)"/>
<ellipse cx="57.39" cy="265.79" rx="2.5" ry="1.65" transform="rotate(-19 57.39 265.79)" fill="rgb(216,216,216)"/>
<ellipse cx="61.55" cy="264.36" rx="2.5" ry="1.65" transform="rotate(-19 61.55 264.36)" fill="rgb(190,190,190)"/>
<ellipse cx="65.71" cy="262.93" rx="2.5" ry="1.65" transform="rotate(-19 65.71 262.93)" fill="rgb(213,213,213)"/>
<ellipse cx="69.87" cy="261.49" rx="2.5" ry="1.65" transform="rotate(-19 69.87 261.49)" fill="rgb(216,216,216)"/>
<ellipse cx="74.03" cy="260.06" rx="2.5" ry="1.65" transform="rotate(-19 74.03 260.06)" fill="rgb(233,233,233)"/>
<ellipse cx="78.19" cy="258.63" rx="2.5" ry="1.65" transform="rotate(-19 78.19 258.63)" fill="rgb(222,222,222)"/>
<ellipse cx="82.35" cy="257.2" rx="2.5" ry="1.65" transform="rotate(-19 82.35 257.2)" fill="rgb(195,195,195)"/>
<ellipse cx="86.51" cy="255.76" rx="2.5" ry="1.65" transform="rotate(-19 86.51 255.76)" fill="rgb(218,218,218)"/>
<ellipse cx="90.67" cy="254.33" rx="2.5" ry="1.65" transform="rotate(-19 90.67 254.33)" fill="rgb(183,183,183)"/>
<ellipse cx="94.83" cy="252.9" rx="2.5" ry="1.65" transform="rotate(-19 94.83 252.9)" fill="rgb(217,217,217)"/>
<ellipse cx="98.99" cy="251.47" rx="2.5" ry="1.65" transform="rotate(-19 98.99 251.47)" fill="rgb(200,200,200)"/>
<ellipse cx="103.15" cy="250.03" rx="2.5" ry="1.65" transform="rotate(-19 103.15 250.03)" fill="rgb(190,190,190)"/>
<ellipse cx="107.31" cy="248.6" rx="2.5" ry="1.65" transform="rotate(-19 107.31 248.6)" fill="rgb(189,189,189)"/>
<ellipse cx="111.47" cy="247.17" rx="2.5" ry="1.65" transform="rotate(-19 111.47 247.17)" fill="rgb(188,188,188)"/>
<ellipse cx="115.63" cy="245.74" rx="2.5" ry="1.65" transform="rotate(-19 115.63 245.74)" fill="rgb(222,222,222)"/>
<ellipse cx="119.79" cy="244.3" rx="2.5" ry="1.65" transform="rotate(-19 119.79 244.3)" fill="rgb(180,180,180)"/>
<ellipse cx="123.95" cy="242.87" rx="2.5" ry="1.65" transform="rotate(-19 123.95 242.87)" fill="rgb(188,188,188)"/>
<ellipse cx="128.11" cy="241.44" rx="2.5" ry="1.65" transform="rotate(-19 128.11 241.44)" fill="rgb(186,186,186)"/>
<ellipse cx="132.27" cy="240.01" rx="2.5" ry="1.65" transform="rotate(-19 132.27 240.01)" fill="rgb(177,177,177)"/>
<ellipse cx="44.5" cy="275.67" rx="2.5" ry="1.65" transform="rotate(-19 44.5 275.67)" fill="rgb(131,131,131)"/>
<ellipse cx="48.66" cy="274.24" rx="2.5" ry="1.65" transform="rotate(-19 48.66 274.24)" fill="rgb(210,210,210)"/>
<ellipse cx="52.83" cy="272.81" rx="2.5" ry="1.65" transform="rotate(-19 52.83 272.81)" fill="rgb(214,214,214)"/>
<ellipse cx="56.99" cy="271.38" rx="2.5" ry="1.65" transform="rotate(-19 56.99 271.38)" fill="rgb(229,229,229)"/>
<ellipse cx="61.15" cy="269.94" rx="2.5" ry="1.65" transform="rotate(-19 61.15 269.94)" fill="rgb(201,201,201)"/>
<ellipse cx="65.31" cy="268.51" rx="2.5" ry="1.65" transform="rotate(-19 65.31 268.51)" fill="rgb(177,177,177)"/>
<ellipse cx="69.47" cy="267.08" rx="2.5" ry="1.65" transform="rotate(-19 69.47 267.08)" fill="rgb(186,186,186)"/>
<ellipse cx="73.63" cy="265.65" rx="2.5" ry="1.65" transform="rotate(-19 73.63 265.65)" fill="rgb(205,205,205)"/>
<ellipse cx="77.79" cy="264.21" rx="2.5" ry="1.65" transform="rotate(-19 77.79 264.21)" fill="rgb(217,217,217)"/>
<ellipse cx="81.95" cy="262.78" rx="2.5" ry="1.65" transform="rotate(-19 81.95 262.78)" fill="rgb(230,230,230)"/>
<ellipse cx="86.11" cy="261.35" rx="2.5" ry="1.65" transform="rotate(-19 86.11 261.35)" fill="rgb(205,205,205)"/>
<ellipse cx="90.27" cy="259.92" rx="2.5" ry="1.65" transform="rotate(-19 90.27 259.92)" fill="rgb(188,188,188)"/>
<ellipse cx="94.43" cy="258.48" rx="2.5" ry="1.65" transform="rotate(-19 94.43 258.48)" fill="rgb(210,210,210)"/>
<ellipse cx="98.59" cy="257.05" rx="2.5" ry="1.65" transform="rotate(-19 98.59 257.05)" fill="rgb(231,231,231)"/>
<ellipse cx="102.75" cy="255.62" rx="2.5" ry="1.65" transform="rotate(-19 102.75 255.62)" fill="rgb(194,194,194)"/>
<ellipse cx="106.91" cy="254.19" rx="2.5" ry="1.65" transform="rotate(-19 106.91 254.19)" fill="rgb(230,230,230)"/>
<ellipse cx="111.07" cy="252.75" rx="2.5" ry="1.65" transform="rotate(-19 111.07 252.75)" fill="rgb(229,229,229)"/>
<ellipse cx="115.23" cy="251.32" rx="2.5" ry="1.65" transform="rotate(-19 115.23 251.32)" fill="rgb(209,209,209)"/>
<ellipse cx="119.39" cy="249.89" rx="2.5" ry="1.65" transform="rotate(-19 119.39 249.89)" fill="rgb(203,203,203)"/>
<ellipse cx="123.55" cy="248.46" rx="2.5" ry="1.65" transform="rotate(-19 123.55 248.46)" fill="rgb(182,182,182)"/>
<ellipse cx="127.71" cy="247.02" rx="2.5" ry="1.65" transform="rotate(-19 127.71 247.02)" fill="rgb(181,181,181)"/>
<ellipse cx="131.87" cy="245.59" rx="2.5" ry="1.65" transform="rotate(-19 131.87 245.59)" fill="rgb(177,177,177)"/>
<ellipse cx="136.03" cy="244.16" rx="2.5" ry="1.65" transform="rotate(-19 136.03 244.16)" fill="rgb(119,119,119)"/>
<ellipse cx="48.26" cy="279.83" rx="2.5" ry="1.65" transform="rotate(-19 48.26 279.83)" fill="rgb(194,194,194)"/>
<ellipse cx="52.42" cy="278.4" rx="2.5" ry="1.65" transform="rotate(-19 52.42 278.4)" fill="rgb(234,234,234)"/>
<ellipse cx="56.58" cy="276.96" rx="2.5" ry="1.65" transform="rotate(-19 56.58 276.96)" fill="rgb(211,211,211)"/>
<ellipse cx="60.74" cy="275.53" rx="2.5" ry="1.65" transform="rotate(-19 60.74 275.53)" fill="rgb(234,234,234)"/>
<ellipse cx="64.9" cy="274.1" rx="2.5" ry="1.65" transform="rotate(-19 64.9 274.1)" fill="rgb(199,199,199)"/>
<ellipse cx="69.06" cy="272.67" rx="2.5" ry="1.65" transform="rotate(-19 69.06 272.67)" fill="rgb(183,183,183)"/>
<ellipse cx="73.22" cy="271.23" rx="2.5" ry="1.65" transform="rotate(-19 73.22 271.23)" fill="rgb(178,178,178)"/>
<ellipse cx="77.38" cy="269.8" rx="2.5" ry="1.65" transform="rotate(-19 77.38 269.8)" fill="rgb(192,192,192)"/>
<ellipse cx="81.54" cy="268.37" rx="2.5" ry="1.65" transform="rotate(-19 81.54 268.37)" fill="rgb(206,206,206)"/>
<ellipse cx="85.7" cy="266.94" rx="2.5" ry="1.65" transform="rotate(-19 85.7 266.94)" fill="rgb(234,234,234)"/>
<ellipse cx="89.86" cy="265.5" rx="2.5" ry="1.65" transform="rotate(-19 89.86 265.5)" fill="rgb(192,192,192)"/>
<ellipse cx="94.02" cy="264.07" rx="2.5" ry="1.65" transform="rotate(-19 94.02 264.07)" fill="rgb(189,189,189)"/>
<ellipse cx="98.18" cy="262.64" rx="2.5" ry="1.65" transform="rotate(-19 98.18 262.64)" fill="rgb(218,218,218)"/>
<ellipse cx="102.35" cy="261.21" rx="2.5" ry="1.65" transform="rotate(-19 102.35 261.21)" fill="rgb(198,198,198)"/>
<ellipse cx="106.51" cy="259.77" rx="2.5" ry="1.65" transform="rotate(-19 106.51 259.77)" fill="rgb(208,208,208)"/>
<ellipse cx="110.67" cy="258.34" rx="2.5" ry="1.65" transform="rotate(-19 110.67 258.34)" fill="rgb(184,184,184)"/>
<ellipse cx="114.83" cy="256.91" rx="2.5" ry="1.65" transform="rotate(-19 114.83 256.91)" fill="rgb(226,226,226)"/>
<ellipse cx="118.99" cy="255.48" rx="2.5" ry="1.65" transform="rotate(-19 118.99 255.48)" fill="rgb(230,230,230)"/>
<ellipse cx="123.15" cy="254.04" rx="2.5" ry="1.65" transform="rotate(-19 123.15 254.04)" fill="rgb(220,220,220)"/>
<ellipse cx="127.31" cy="252.61" rx="2.5" ry="1.65" transform="rotate(-19 127.31 252.61)" fill="rgb(231,231,231)"/>
<ellipse cx="131.47" cy="251.18" rx="2.5" ry="1.65" transform="rotate(-19 131.47 251.18)" fill="rgb(194,194,194)"/>
<ellipse cx="135.63" cy="249.75" rx="2.5" ry="1.65" transform="rotate(-19 135.63 249.75)" fill="rgb(136,136,136)"/>
<ellipse cx="47.86" cy="285.41" rx="2.5" ry="1.65" transform="rotate(-19 47.86 285.41)" fill="rgb(116,116,116)"/>
<ellipse cx="52.02" cy="283.98" rx="2.5" ry="1.65" transform="rotate(-19 52.02 283.98)" fill="rgb(228,228,228)"/>
<ellipse cx="56.18" cy="282.55" rx="2.5" ry="1.65" transform="rotate(-19 56.18 282.55)" fill="rgb(203,203,203)"/>
<ellipse cx="60.34" cy="281.12" rx="2.5" ry="1.65" transform="rotate(-19 60.34 281.12)" fill="rgb(187,187,187)"/>
<ellipse cx="64.5" cy="279.68" rx="2.5" ry="1.65" transform="rotate(-19 64.5 279.68)" fill="rgb(184,184,184)"/>
<ellipse cx="68.66" cy="278.25" rx="2.5" ry="1.65" transform="rotate(-19 68.66 278.25)" fill="rgb(184,184,184)"/>
<ellipse cx="72.82" cy="276.82" rx="2.5" ry="1.65" transform="rotate(-19 72.82 276.82)" fill="rgb(201,201,201)"/>
<ellipse cx="76.98" cy="275.39" rx="2.5" ry="1.65" transform="rotate(-19 76.98 275.39)" fill="rgb(230,230,230)"/>
<ellipse cx="81.14" cy="273.95" rx="2.5" ry="1.65" transform="rotate(-19 81.14 273.95)" fill="rgb(228,228,228)"/>
<ellipse cx="85.3" cy="272.52" rx="2.5" ry="1.65" transform="rotate(-19 85.3 272.52)" fill="rgb(220,220,220)"/>
<ellipse cx="89.46" cy="271.09" rx="2.5" ry="1.65" transform="rotate(-19 89.46 271.09)" fill="rgb(220,220,220)"/>
<ellipse cx="93.62" cy="269.66" rx="2.5" ry="1.65" transform="rotate(-19 93.62 269.66)" fill="rgb(186,186,186)"/>
<ellipse cx="97.78" cy="268.22" rx="2.5" ry="1.65" transform="rotate(-19 97.78 268.22)" fill="rgb(221,221,221)"/>
<ellipse cx="101.94" cy="266.79" rx="2.5" ry="1.65" transform="rotate(-19 101.94 266.79)" fill="rgb(188,188,188)"/>
<ellipse cx="106.1" cy="265.36" rx="2.5" ry="1.65" transform="rotate(-19 106.1 265.36)" fill="rgb(206,206,206)"/>
<ellipse cx="110.26" cy="263.93" rx="2.5" ry="1.65" transform="rotate(-19 110.26 263.93)" fill="rgb(177,177,177)"/>
<ellipse cx="114.42" cy="262.49" rx="2.5" ry="1.65" transform="rotate(-19 114.42 262.49)" fill="rgb(228,228,228)"/>
<ellipse cx="118.58" cy="261.06" rx="2.5" ry="1.65" transform="rotate(-19 118.58 261.06)" fill="rgb(182,182,182)"/>
<ellipse cx="122.74" cy="259.63" rx="2.5" ry="1.65" transform="rotate(-19 122.74 259.63)" fill="rgb(210,210,210)"/>
<ellipse cx="126.9" cy="258.2" rx="2.5" ry="1.65" transform="rotate(-19 126.9 258.2)" fill="rgb(214,214,214)"/>
<ellipse cx="131.06" cy="256.76" rx="2.5" ry="1.65" transform="rotate(-19 131.06 256.76)" fill="rgb(213,213,213)"/>
<ellipse cx="135.22" cy="255.33" rx="2.5" ry="1.65" transform="rotate(-19 135.22 255.33)" fill="rgb(205,205,205)"/>
<ellipse cx="55.77" cy="288.13" rx="2.5" ry="1.65" transform="rotate(-19 55.77 288.13)" fill="rgb(145,145,145)"/>
<ellipse cx="59.94" cy="286.7" rx="2.5" ry="1.65" transform="rotate(-19 59.94 286.7)" fill="rgb(222,222,222)"/>
<ellipse cx="64.1" cy="285.27" rx="2.5" ry="1.65" transform="rotate(-19 64.1 285.27)" fill="rgb(231,231,231)"/>
<ellipse cx="68.26" cy="283.84" rx="2.5" ry="1.65" transform="rotate(-19 68.26 283.84)" fill="rgb(212,212,212)"/>
<ellipse cx="72.42" cy="282.4" rx="2.5" ry="1.65" transform="rotate(-19 72.42 282.4)" fill="rgb(233,233,233)"/>
<ellipse cx="76.58" cy="280.97" rx="2.5" ry="1.65" transform="rotate(-19 76.58 280.97)" fill="rgb(225,225,225)"/>
<ellipse cx="80.74" cy="279.54" rx="2.5" ry="1.65" transform="rotate(-19 80.74 279.54)" fill="rgb(178,178,178)"/>
<ellipse cx="84.9" cy="278.11" rx="2.5" ry="1.65" transform="rotate(-19 84.9 278.11)" fill="rgb(215,215,215)"/>
<ellipse cx="89.06" cy="276.67" rx="2.5" ry="1.65" transform="rotate(-19 89.06 276.67)" fill="rgb(180,180,180)"/>
<ellipse cx="93.22" cy="275.24" rx="2.5" ry="1.65" transform="rotate(-19 93.22 275.24)" fill="rgb(214,214,214)"/>
<ellipse cx="97.38" cy="273.81" rx="2.5" ry="1.65" transform="rotate(-19 97.38 273.81)" fill="rgb(197,197,197)"/>
<ellipse cx="101.54" cy="272.38" rx="2.5" ry="1.65" transform="rotate(-19 101.54 272.38)" fill="rgb(226,226,226)"/>
<ellipse cx="105.7" cy="270.94" rx="2.5" ry="1.65" transform="rotate(-19 105.7 270.94)" fill="rgb(177,177,177)"/>
<ellipse cx="109.86" cy="269.51" rx="2.5" ry="1.65" transform="rotate(-19 109.86 269.51)" fill="rgb(231,231,231)"/>
<ellipse cx="114.02" cy="268.08" rx="2.5" ry="1.65" transform="rotate(-19 114.02 268.08)" fill="rgb(177,177,177)"/>
<ellipse cx="118.18" cy="266.65" rx="2.5" ry="1.65" transform="rotate(-19 118.18 266.65)" fill="rgb(178,178,178)"/>
<ellipse cx="122.34" cy="265.21" rx="2.5" ry="1.65" transform="rotate(-19 122.34 265.21)" fill="rgb(175,175,175)"/>
<ellipse cx="126.5" cy="263.78" rx="2.5" ry="1.65" transform="rotate(-19 126.5 263.78)" fill="rgb(182,182,182)"/>
<ellipse cx="130.66" cy="262.35" rx="2.5" ry="1.65" transform="rotate(-19 130.66 262.35)" fill="rgb(234,234,234)"/>
<ellipse cx="134.82" cy="260.92" rx="2.5" ry="1.65" transform="rotate(-19 134.82 260.92)" fill="rgb(167,167,167)"/>
<ellipse cx="63.69" cy="290.86" rx="2.5" ry="1.65" transform="rotate(-19 63.69 290.86)" fill="rgb(117,117,117)"/>
<ellipse cx="67.85" cy="289.42" rx="2.5" ry="1.65" transform="rotate(-19 67.85 289.42)" fill="rgb(124,124,124)"/>
<ellipse cx="72.01" cy="287.99" rx="2.5" ry="1.65" transform="rotate(-19 72.01 287.99)" fill="rgb(171,171,171)"/>
<ellipse cx="76.17" cy="286.56" rx="2.5" ry="1.65" transform="rotate(-19 76.17 286.56)" fill="rgb(207,207,207)"/>
<ellipse cx="80.33" cy="285.13" rx="2.5" ry="1.65" transform="rotate(-19 80.33 285.13)" fill="rgb(218,218,218)"/>
<ellipse cx="84.49" cy="283.69" rx="2.5" ry="1.65" transform="rotate(-19 84.49 283.69)" fill="rgb(191,191,191)"/>
<ellipse cx="88.65" cy="282.26" rx="2.5" ry="1.65" transform="rotate(-19 88.65 282.26)" fill="rgb(233,233,233)"/>
<ellipse cx="92.81" cy="280.83" rx="2.5" ry="1.65" transform="rotate(-19 92.81 280.83)" fill="rgb(218,218,218)"/>
<ellipse cx="96.97" cy="279.4" rx="2.5" ry="1.65" transform="rotate(-19 96.97 279.4)" fill="rgb(216,216,216)"/>
<ellipse cx="101.13" cy="277.96" rx="2.5" ry="1.65" transform="rotate(-19 101.13 277.96)" fill="rgb(192,192,192)"/>
<ellipse cx="105.29" cy="276.53" rx="2.5" ry="1.65" transform="rotate(-19 105.29 276.53)" fill="rgb(198,198,198)"/>
<ellipse cx="109.46" cy="275.1" rx="2.5" ry="1.65" transform="rotate(-19 109.46 275.1)" fill="rgb(220,220,220)"/>
<ellipse cx="113.62" cy="273.67" rx="2.5" ry="1.65" transform="rotate(-19 113.62 273.67)" fill="rgb(205,205,205)"/>
<ellipse cx="117.78" cy="272.23" rx="2.5" ry="1.65" transform="rotate(-19 117.78 272.23)" fill="rgb(204,204,204)"/>
<ellipse cx="121.94" cy="270.8" rx="2.5" ry="1.65" transform="rotate(-19 121.94 270.8)" fill="rgb(230,230,230)"/>
<ellipse cx="126.1" cy="269.37" rx="2.5" ry="1.65" transform="rotate(-19 126.1 269.37)" fill="rgb(200,200,200)"/>
<ellipse cx="130.26" cy="267.94" rx="2.5" ry="1.65" transform="rotate(-19 130.26 267.94)" fill="rgb(225,225,225)"/>
<ellipse cx="134.42" cy="266.5" rx="2.5" ry="1.65" transform="rotate(-19 134.42 266.5)" fill="rgb(98,98,98)"/>
<ellipse cx="88.25" cy="287.85" rx="2.5" ry="1.65" transform="rotate(-19 88.25 287.85)" fill="rgb(111,111,111)"/>
<ellipse cx="92.41" cy="286.41" rx="2.5" ry="1.65" transform="rotate(-19 92.41 286.41)" fill="rgb(124,124,124)"/>
<ellipse cx="96.57" cy="284.98" rx="2.5" ry="1.65" transform="rotate(-19 96.57 284.98)" fill="rgb(110,110,110)"/>
<ellipse cx="100.73" cy="283.55" rx="2.5" ry="1.65" transform="rotate(-19 100.73 283.55)" fill="rgb(139,139,139)"/>
<ellipse cx="104.89" cy="282.12" rx="2.5" ry="1.65" transform="rotate(-19 104.89 282.12)" fill="rgb(132,132,132)"/>
<ellipse cx="109.05" cy="280.68" rx="2.5" ry="1.65" transform="rotate(-19 109.05 280.68)" fill="rgb(153,153,153)"/>
<ellipse cx="113.21" cy="279.25" rx="2.5" ry="1.65" transform="rotate(-19 113.21 279.25)" fill="rgb(148,148,148)"/>
<ellipse cx="117.37" cy="277.82" rx="2.5" ry="1.65" transform="rotate(-19 117.37 277.82)" fill="rgb(125,125,125)"/>
<ellipse cx="121.53" cy="276.39" rx="2.5" ry="1.65" transform="rotate(-19 121.53 276.39)" fill="rgb(148,148,148)"/>
<ellipse cx="125.69" cy="274.95" rx="2.5" ry="1.65" transform="rotate(-19 125.69 274.95)" fill="rgb(119,119,119)"/>
<ellipse cx="129.85" cy="273.52" rx="2.5" ry="1.65" transform="rotate(-19 129.85 273.52)" fill="rgb(111,111,111)"/>
</g></g>
<g clip-path="url(#cp1)" filter="url(#soft)" opacity="0.85">
<rect x="20.5" y="232.6" width="20" height="45.3" fill="#333"/>
<rect x="21.6" y="233.5" width="1.7" height="43.5" fill="#c8c8c8"/>
<rect x="25.6" y="233.5" width="1.7" height="43.5" fill="#c8c8c8"/>
<rect x="29.6" y="233.5" width="1.7" height="43.5" fill="#c8c8c8"/>
<rect x="33.6" y="233.5" width="1.7" height="43.5" fill="#c8c8c8"/>
<rect x="37.6" y="233.5" width="1.7" height="43.5" fill="#c8c8c8"/>
</g>
<rect x="24.7" y="296.3" width="43.6" height="20.5" fill="#fff" stroke="#000" stroke-width="1.4"/>
<text x="30.6" y="309" class="sb" textLength="29.8" lengthAdjust="spacingAndGlyphs">2 nm</text>
<rect x="28.8" y="311.35" width="35.2" height="1.3" fill="#000"/>
<text x="7.5" y="261.6" class="rl" text-anchor="middle" transform="rotate(-90 7.5 261.6)" dy="4.9" textLength="74.7" lengthAdjust="spacingAndGlyphs">CeOx:Gd9%</text>
<rect x="230.78" y="264.42" width="5.95" height="36.58" fill="#808080" stroke="#222" stroke-width="1"/>
<rect x="238.72" y="249.9" width="5.95" height="51.1" fill="#808080" stroke="#222" stroke-width="1"/>
<rect x="246.68" y="235.99" width="5.95" height="65.01" fill="#808080" stroke="#222" stroke-width="1"/>
<rect x="254.62" y="249.9" width="5.95" height="51.1" fill="#808080" stroke="#222" stroke-width="1"/>
<rect x="262.57" y="269.98" width="5.95" height="31.02" fill="#808080" stroke="#222" stroke-width="1"/>
<rect x="270.52" y="281.42" width="5.95" height="19.58" fill="#808080" stroke="#222" stroke-width="1"/>
<rect x="278.48" y="284.2" width="5.95" height="16.8" fill="#808080" stroke="#222" stroke-width="1"/>
<rect x="286.43" y="284.2" width="5.95" height="16.8" fill="#808080" stroke="#222" stroke-width="1"/>
<rect x="294.38" y="286.98" width="5.95" height="14.02" fill="#808080" stroke="#222" stroke-width="1"/>
<rect x="302.32" y="298.72" width="5.95" height="2.28" fill="#808080" stroke="#222" stroke-width="1"/>
<line x1="205.8" y1="208.3" x2="205.8" y2="301.5" stroke="#5a5a5a" stroke-width="1"/>
<line x1="205.3" y1="301" x2="308.3" y2="301" stroke="#5a5a5a" stroke-width="1"/>
<line x1="204" y1="301" x2="205.8" y2="301" stroke="#5a5a5a" stroke-width="0.8"/>
<line x1="204.8" y1="293.27" x2="205.8" y2="293.27" stroke="#5a5a5a" stroke-width="0.8"/>
<line x1="204" y1="285.55" x2="205.8" y2="285.55" stroke="#5a5a5a" stroke-width="0.8"/>
<line x1="204.8" y1="277.82" x2="205.8" y2="277.82" stroke="#5a5a5a" stroke-width="0.8"/>
<line x1="204" y1="270.1" x2="205.8" y2="270.1" stroke="#5a5a5a" stroke-width="0.8"/>
<line x1="204.8" y1="262.38" x2="205.8" y2="262.38" stroke="#5a5a5a" stroke-width="0.8"/>
<line x1="204" y1="254.65" x2="205.8" y2="254.65" stroke="#5a5a5a" stroke-width="0.8"/>
<line x1="204.8" y1="246.93" x2="205.8" y2="246.93" stroke="#5a5a5a" stroke-width="0.8"/>
<line x1="204" y1="239.2" x2="205.8" y2="239.2" stroke="#5a5a5a" stroke-width="0.8"/>
<line x1="204.8" y1="231.48" x2="205.8" y2="231.48" stroke="#5a5a5a" stroke-width="0.8"/>
<line x1="204" y1="223.75" x2="205.8" y2="223.75" stroke="#5a5a5a" stroke-width="0.8"/>
<line x1="204.8" y1="216.03" x2="205.8" y2="216.03" stroke="#5a5a5a" stroke-width="0.8"/>
<line x1="204" y1="208.3" x2="205.8" y2="208.3" stroke="#5a5a5a" stroke-width="0.8"/>
<text x="203.8" y="302.8" class="tk" text-anchor="end">0</text>
<text x="203.8" y="287.35" class="tk" text-anchor="end">5</text>
<text x="203.8" y="271.9" class="tk" text-anchor="end" textLength="5.98" lengthAdjust="spacingAndGlyphs">10</text>
<text x="203.8" y="256.45" class="tk" text-anchor="end" textLength="5.98" lengthAdjust="spacingAndGlyphs">15</text>
<text x="203.8" y="241" class="tk" text-anchor="end" textLength="5.98" lengthAdjust="spacingAndGlyphs">20</text>
<text x="203.8" y="225.55" class="tk" text-anchor="end" textLength="5.98" lengthAdjust="spacingAndGlyphs">25</text>
<text x="203.8" y="210.1" class="tk" text-anchor="end" textLength="5.98" lengthAdjust="spacingAndGlyphs">30</text>
<line x1="209.9" y1="301" x2="209.9" y2="302.8" stroke="#5a5a5a" stroke-width="0.8"/>
<line x1="217.85" y1="301" x2="217.85" y2="302" stroke="#5a5a5a" stroke-width="0.8"/>
<line x1="225.8" y1="301" x2="225.8" y2="302.8" stroke="#5a5a5a" stroke-width="0.8"/>
<line x1="233.75" y1="301" x2="233.75" y2="302" stroke="#5a5a5a" stroke-width="0.8"/>
<line x1="241.7" y1="301" x2="241.7" y2="302.8" stroke="#5a5a5a" stroke-width="0.8"/>
<line x1="249.65" y1="301" x2="249.65" y2="302" stroke="#5a5a5a" stroke-width="0.8"/>
<line x1="257.6" y1="301" x2="257.6" y2="302.8" stroke="#5a5a5a" stroke-width="0.8"/>
<line x1="265.55" y1="301" x2="265.55" y2="302" stroke="#5a5a5a" stroke-width="0.8"/>
<line x1="273.5" y1="301" x2="273.5" y2="302.8" stroke="#5a5a5a" stroke-width="0.8"/>
<line x1="281.45" y1="301" x2="281.45" y2="302" stroke="#5a5a5a" stroke-width="0.8"/>
<line x1="289.4" y1="301" x2="289.4" y2="302.8" stroke="#5a5a5a" stroke-width="0.8"/>
<line x1="297.35" y1="301" x2="297.35" y2="302" stroke="#5a5a5a" stroke-width="0.8"/>
<line x1="305.3" y1="301" x2="305.3" y2="302.8" stroke="#5a5a5a" stroke-width="0.8"/>
<text x="209.9" y="308" class="tk" text-anchor="middle">2</text>
<text x="225.8" y="308" class="tk" text-anchor="middle">3</text>
<text x="241.7" y="308" class="tk" text-anchor="middle">4</text>
<text x="257.6" y="308" class="tk" text-anchor="middle">5</text>
<text x="273.5" y="308" class="tk" text-anchor="middle">6</text>
<text x="289.4" y="308" class="tk" text-anchor="middle">7</text>
<text x="305.3" y="308" class="tk" text-anchor="middle">8</text>
<text x="228.15" y="319.6" class="al" textLength="59.1" lengthAdjust="spacingAndGlyphs">Feret diameter (nm)</text>
<text x="194.3" y="277.6" class="yl" textLength="36.5" lengthAdjust="spacingAndGlyphs" transform="rotate(-90 194.3 277.6)">Frequency</text>
<rect x="256.4" y="216.5" width="13.3" height="5.6" fill="#808080" stroke="#222" stroke-width="1"/>
<text x="272.3" y="221.8" class="lg">CeOx:Gd9%</text>
<rect x="408.6" y="291.12" width="6" height="9.88" fill="#808080" stroke="#222" stroke-width="1"/>
<rect x="416.6" y="274.06" width="6" height="26.94" fill="#808080" stroke="#222" stroke-width="1"/>
<rect x="424.6" y="245.14" width="6" height="55.86" fill="#808080" stroke="#222" stroke-width="1"/>
<rect x="432.6" y="260.53" width="6" height="40.47" fill="#808080" stroke="#222" stroke-width="1"/>
<rect x="440.6" y="280.92" width="6" height="20.08" fill="#808080" stroke="#222" stroke-width="1"/>
<rect x="448.6" y="285.93" width="6" height="15.07" fill="#808080" stroke="#222" stroke-width="1"/>
<rect x="456.6" y="287.78" width="6" height="13.22" fill="#808080" stroke="#222" stroke-width="1"/>
<line x1="383.3" y1="208.3" x2="383.3" y2="301.5" stroke="#5a5a5a" stroke-width="1"/>
<line x1="382.8" y1="301" x2="487.3" y2="301" stroke="#5a5a5a" stroke-width="1"/>
<line x1="381.5" y1="301" x2="383.3" y2="301" stroke="#5a5a5a" stroke-width="0.8"/>
<line x1="382.3" y1="291.73" x2="383.3" y2="291.73" stroke="#5a5a5a" stroke-width="0.8"/>
<line x1="381.5" y1="282.46" x2="383.3" y2="282.46" stroke="#5a5a5a" stroke-width="0.8"/>
<line x1="382.3" y1="273.19" x2="383.3" y2="273.19" stroke="#5a5a5a" stroke-width="0.8"/>
<line x1="381.5" y1="263.92" x2="383.3" y2="263.92" stroke="#5a5a5a" stroke-width="0.8"/>
<line x1="382.3" y1="254.65" x2="383.3" y2="254.65" stroke="#5a5a5a" stroke-width="0.8"/>
<line x1="381.5" y1="245.38" x2="383.3" y2="245.38" stroke="#5a5a5a" stroke-width="0.8"/>
<line x1="382.3" y1="236.11" x2="383.3" y2="236.11" stroke="#5a5a5a" stroke-width="0.8"/>
<line x1="381.5" y1="226.84" x2="383.3" y2="226.84" stroke="#5a5a5a" stroke-width="0.8"/>
<line x1="382.3" y1="217.57" x2="383.3" y2="217.57" stroke="#5a5a5a" stroke-width="0.8"/>
<line x1="381.5" y1="208.3" x2="383.3" y2="208.3" stroke="#5a5a5a" stroke-width="0.8"/>
<text x="381.3" y="302.8" class="tk" text-anchor="end">0</text>
<text x="381.3" y="284.26" class="tk" text-anchor="end" textLength="5.98" lengthAdjust="spacingAndGlyphs">10</text>
<text x="381.3" y="265.72" class="tk" text-anchor="end" textLength="5.98" lengthAdjust="spacingAndGlyphs">20</text>
<text x="381.3" y="247.18" class="tk" text-anchor="end" textLength="5.98" lengthAdjust="spacingAndGlyphs">30</text>
<text x="381.3" y="228.64" class="tk" text-anchor="end" textLength="5.98" lengthAdjust="spacingAndGlyphs">40</text>
<text x="381.3" y="210.1" class="tk" text-anchor="end" textLength="5.98" lengthAdjust="spacingAndGlyphs">50</text>
<line x1="387.6" y1="301" x2="387.6" y2="302.8" stroke="#5a5a5a" stroke-width="0.8"/>
<line x1="395.6" y1="301" x2="395.6" y2="302" stroke="#5a5a5a" stroke-width="0.8"/>
<line x1="403.6" y1="301" x2="403.6" y2="302.8" stroke="#5a5a5a" stroke-width="0.8"/>
<line x1="411.6" y1="301" x2="411.6" y2="302" stroke="#5a5a5a" stroke-width="0.8"/>
<line x1="419.6" y1="301" x2="419.6" y2="302.8" stroke="#5a5a5a" stroke-width="0.8"/>
<line x1="427.6" y1="301" x2="427.6" y2="302" stroke="#5a5a5a" stroke-width="0.8"/>
<line x1="435.6" y1="301" x2="435.6" y2="302.8" stroke="#5a5a5a" stroke-width="0.8"/>
<line x1="443.6" y1="301" x2="443.6" y2="302" stroke="#5a5a5a" stroke-width="0.8"/>
<line x1="451.6" y1="301" x2="451.6" y2="302.8" stroke="#5a5a5a" stroke-width="0.8"/>
<line x1="459.6" y1="301" x2="459.6" y2="302" stroke="#5a5a5a" stroke-width="0.8"/>
<line x1="467.6" y1="301" x2="467.6" y2="302.8" stroke="#5a5a5a" stroke-width="0.8"/>
<line x1="475.6" y1="301" x2="475.6" y2="302" stroke="#5a5a5a" stroke-width="0.8"/>
<line x1="483.6" y1="301" x2="483.6" y2="302.8" stroke="#5a5a5a" stroke-width="0.8"/>
<text x="387.6" y="308" class="tk" text-anchor="middle">1</text>
<text x="403.6" y="308" class="tk" text-anchor="middle">2</text>
<text x="419.6" y="308" class="tk" text-anchor="middle">3</text>
<text x="435.6" y="308" class="tk" text-anchor="middle">4</text>
<text x="451.6" y="308" class="tk" text-anchor="middle">5</text>
<text x="467.6" y="308" class="tk" text-anchor="middle">6</text>
<text x="483.6" y="308" class="tk" text-anchor="middle">7</text>
<text x="400.8" y="319.6" class="al" textLength="70.8" lengthAdjust="spacingAndGlyphs">MinFeret diameter (nm)</text>
<text x="371.8" y="277.6" class="yl" textLength="36.5" lengthAdjust="spacingAndGlyphs" transform="rotate(-90 371.8 277.6)">Frequency</text>
<rect x="434.7" y="216.5" width="13.4" height="5.6" fill="#808080" stroke="#222" stroke-width="1"/>
<text x="450.7" y="221.8" class="lg">CeOx:Gd9%</text>
<rect x="573.85" y="282.75" width="3.1" height="18.25" fill="#808080" stroke="#222" stroke-width="1"/>
<rect x="577.95" y="244.85" width="3.1" height="56.15" fill="#808080" stroke="#222" stroke-width="1"/>
<rect x="582.05" y="250.62" width="3.1" height="50.38" fill="#808080" stroke="#222" stroke-width="1"/>
<rect x="586.15" y="267.51" width="3.1" height="33.49" fill="#808080" stroke="#222" stroke-width="1"/>
<rect x="590.25" y="286.46" width="3.1" height="14.54" fill="#808080" stroke="#222" stroke-width="1"/>
<rect x="594.35" y="290.58" width="3.1" height="10.42" fill="#808080" stroke="#222" stroke-width="1"/>
<rect x="598.45" y="290.58" width="3.1" height="10.42" fill="#808080" stroke="#222" stroke-width="1"/>
<rect x="602.55" y="297.59" width="3.1" height="3.41" fill="#808080" stroke="#222" stroke-width="1"/>
<rect x="610.75" y="299.44" width="3.1" height="1.56" fill="#808080" stroke="#222" stroke-width="1"/>
<rect x="618.95" y="299.44" width="3.1" height="1.56" fill="#808080" stroke="#222" stroke-width="1"/>
<line x1="560.6" y1="208.3" x2="560.6" y2="301.5" stroke="#5a5a5a" stroke-width="1"/>
<line x1="560.1" y1="301" x2="664.5" y2="301" stroke="#5a5a5a" stroke-width="1"/>
<line x1="558.8" y1="301" x2="560.6" y2="301" stroke="#5a5a5a" stroke-width="0.8"/>
<line x1="559.6" y1="290.7" x2="560.6" y2="290.7" stroke="#5a5a5a" stroke-width="0.8"/>
<line x1="558.8" y1="280.4" x2="560.6" y2="280.4" stroke="#5a5a5a" stroke-width="0.8"/>
<line x1="559.6" y1="270.1" x2="560.6" y2="270.1" stroke="#5a5a5a" stroke-width="0.8"/>
<line x1="558.8" y1="259.8" x2="560.6" y2="259.8" stroke="#5a5a5a" stroke-width="0.8"/>
<line x1="559.6" y1="249.5" x2="560.6" y2="249.5" stroke="#5a5a5a" stroke-width="0.8"/>
<line x1="558.8" y1="239.2" x2="560.6" y2="239.2" stroke="#5a5a5a" stroke-width="0.8"/>
<line x1="559.6" y1="228.9" x2="560.6" y2="228.9" stroke="#5a5a5a" stroke-width="0.8"/>
<line x1="558.8" y1="218.6" x2="560.6" y2="218.6" stroke="#5a5a5a" stroke-width="0.8"/>
<line x1="559.6" y1="208.3" x2="560.6" y2="208.3" stroke="#5a5a5a" stroke-width="0.8"/>
<text x="558.6" y="302.8" class="tk" text-anchor="end">0</text>
<text x="558.6" y="282.2" class="tk" text-anchor="end" textLength="5.98" lengthAdjust="spacingAndGlyphs">10</text>
<text x="558.6" y="261.6" class="tk" text-anchor="end" textLength="5.98" lengthAdjust="spacingAndGlyphs">20</text>
<text x="558.6" y="241" class="tk" text-anchor="end" textLength="5.98" lengthAdjust="spacingAndGlyphs">30</text>
<text x="558.6" y="220.4" class="tk" text-anchor="end" textLength="5.98" lengthAdjust="spacingAndGlyphs">40</text>
<line x1="571.3" y1="301" x2="571.3" y2="302.8" stroke="#5a5a5a" stroke-width="0.8"/>
<line x1="581.55" y1="301" x2="581.55" y2="302" stroke="#5a5a5a" stroke-width="0.8"/>
<line x1="591.8" y1="301" x2="591.8" y2="302.8" stroke="#5a5a5a" stroke-width="0.8"/>
<line x1="602.05" y1="301" x2="602.05" y2="302" stroke="#5a5a5a" stroke-width="0.8"/>
<line x1="612.3" y1="301" x2="612.3" y2="302.8" stroke="#5a5a5a" stroke-width="0.8"/>
<line x1="622.55" y1="301" x2="622.55" y2="302" stroke="#5a5a5a" stroke-width="0.8"/>
<line x1="632.8" y1="301" x2="632.8" y2="302.8" stroke="#5a5a5a" stroke-width="0.8"/>
<line x1="643.05" y1="301" x2="643.05" y2="302" stroke="#5a5a5a" stroke-width="0.8"/>
<line x1="653.3" y1="301" x2="653.3" y2="302.8" stroke="#5a5a5a" stroke-width="0.8"/>
<line x1="663.55" y1="301" x2="663.55" y2="302" stroke="#5a5a5a" stroke-width="0.8"/>
<text x="571.3" y="308" class="tk" text-anchor="middle" textLength="7.4" lengthAdjust="spacingAndGlyphs">1.0</text>
<text x="591.8" y="308" class="tk" text-anchor="middle" textLength="7.4" lengthAdjust="spacingAndGlyphs">1.5</text>
<text x="612.3" y="308" class="tk" text-anchor="middle" textLength="7.4" lengthAdjust="spacingAndGlyphs">2.0</text>
<text x="632.8" y="308" class="tk" text-anchor="middle" textLength="7.4" lengthAdjust="spacingAndGlyphs">2.5</text>
<text x="653.3" y="308" class="tk" text-anchor="middle" textLength="7.4" lengthAdjust="spacingAndGlyphs">3.0</text>
<text x="593.2" y="319.6" class="al" textLength="38.4" lengthAdjust="spacingAndGlyphs">Aspect Ratio</text>
<text x="549.1" y="277.6" class="yl" textLength="36.5" lengthAdjust="spacingAndGlyphs" transform="rotate(-90 549.1 277.6)">Frequency</text>
<rect x="610.5" y="216.5" width="13.7" height="5.6" fill="#808080" stroke="#222" stroke-width="1"/>
<text x="626.8" y="221.8" class="lg">CeOx:Gd9%</text>
<rect x="21.5" y="342.4" width="128.1" height="1.6" fill="#f1f1f1"/>
<rect x="21.5" y="479.4" width="128.1" height="1.6" fill="#f1f1f1"/>
<rect x="19.5" y="347.2" width="130.1" height="128.9" fill="#787878"/>
<rect x="19.5" y="347.2" width="130.1" height="128.9" fill="#808080" filter="url(#noise2)"/>
<clipPath id="cp2"><rect x="19.5" y="347.2" width="130.1" height="128.9"/></clipPath>
<g clip-path="url(#cp2)" opacity="0.84">
<polygon points="51.68,397.77 79.61,367.7 118.22,365.56 126.76,380.6 128.89,395.63 118.22,412.8 105.32,432.1 88.15,440.74 60.21,442.87 52.74,427.84" fill="#151515" filter="url(#edge2)" opacity="0.92"/>
<g filter="url(#soft)">
<ellipse cx="52.59" cy="400.03" rx="2.31" ry="1.85" transform="rotate(30 52.59 400.03)" fill="rgb(206,206,206)"/>
<ellipse cx="52.86" cy="405.49" rx="2.23" ry="1.85" transform="rotate(30 52.86 405.49)" fill="rgb(230,230,230)"/>
<ellipse cx="52.52" cy="411.18" rx="2.2" ry="1.85" transform="rotate(30 52.52 411.18)" fill="rgb(223,223,223)"/>
<ellipse cx="53.02" cy="416.9" rx="2.04" ry="1.85" transform="rotate(30 53.02 416.9)" fill="rgb(202,202,202)"/>
<ellipse cx="52.57" cy="422.55" rx="2.26" ry="1.85" transform="rotate(30 52.57 422.55)" fill="rgb(213,213,213)"/>
<ellipse cx="52.76" cy="427.96" rx="2.21" ry="1.85" transform="rotate(30 52.76 427.96)" fill="rgb(181,181,181)"/>
<ellipse cx="57.61" cy="391.73" rx="2.29" ry="1.85" transform="rotate(30 57.61 391.73)" fill="rgb(208,208,208)"/>
<ellipse cx="57.67" cy="397.02" rx="2.3" ry="1.85" transform="rotate(30 57.67 397.02)" fill="rgb(216,216,216)"/>
<ellipse cx="57.83" cy="403.01" rx="2.14" ry="1.85" transform="rotate(30 57.83 403.01)" fill="rgb(223,223,223)"/>
<ellipse cx="58.06" cy="408.26" rx="2.24" ry="1.85" transform="rotate(30 58.06 408.26)" fill="rgb(208,208,208)"/>
<ellipse cx="57.9" cy="414.02" rx="2.16" ry="1.85" transform="rotate(30 57.9 414.02)" fill="rgb(231,231,231)"/>
<ellipse cx="57.92" cy="419.89" rx="2.27" ry="1.85" transform="rotate(30 57.92 419.89)" fill="rgb(248,248,248)"/>
<ellipse cx="57.8" cy="425.53" rx="2.26" ry="1.85" transform="rotate(30 57.8 425.53)" fill="rgb(224,224,224)"/>
<ellipse cx="58.04" cy="430.97" rx="2.33" ry="1.85" transform="rotate(30 58.04 430.97)" fill="rgb(220,220,220)"/>
<ellipse cx="57.88" cy="436.71" rx="2.21" ry="1.85" transform="rotate(30 57.88 436.71)" fill="rgb(230,230,230)"/>
<ellipse cx="63.13" cy="388.98" rx="2.44" ry="1.85" transform="rotate(30 63.13 388.98)" fill="rgb(220,220,220)"/>
<ellipse cx="63.11" cy="394.36" rx="2.4" ry="1.85" transform="rotate(30 63.11 394.36)" fill="rgb(199,199,199)"/>
<ellipse cx="63.07" cy="400.09" rx="2.3" ry="1.85" transform="rotate(30 63.07 400.09)" fill="rgb(211,211,211)"/>
<ellipse cx="63.11" cy="405.59" rx="2.29" ry="1.85" transform="rotate(30 63.11 405.59)" fill="rgb(224,224,224)"/>
<ellipse cx="62.67" cy="411.31" rx="2.18" ry="1.85" transform="rotate(30 62.67 411.31)" fill="rgb(204,204,204)"/>
<ellipse cx="62.68" cy="416.71" rx="2" ry="1.85" transform="rotate(30 62.68 416.71)" fill="rgb(220,220,220)"/>
<ellipse cx="62.61" cy="422.35" rx="2.09" ry="1.85" transform="rotate(30 62.61 422.35)" fill="rgb(222,222,222)"/>
<ellipse cx="62.98" cy="428.11" rx="2.02" ry="1.85" transform="rotate(30 62.98 428.11)" fill="rgb(210,210,210)"/>
<ellipse cx="62.72" cy="433.91" rx="2.17" ry="1.85" transform="rotate(30 62.72 433.91)" fill="rgb(208,208,208)"/>
<ellipse cx="63.03" cy="439.56" rx="2.39" ry="1.85" transform="rotate(30 63.03 439.56)" fill="rgb(225,225,225)"/>
<ellipse cx="67.95" cy="380.5" rx="2.01" ry="1.85" transform="rotate(30 67.95 380.5)" fill="rgb(175,175,175)"/>
<ellipse cx="68.04" cy="386.19" rx="2.46" ry="1.85" transform="rotate(30 68.04 386.19)" fill="rgb(249,249,249)"/>
<ellipse cx="68.12" cy="391.84" rx="2.07" ry="1.85" transform="rotate(30 68.12 391.84)" fill="rgb(195,195,195)"/>
<ellipse cx="67.7" cy="397.55" rx="2.43" ry="1.85" transform="rotate(30 67.7 397.55)" fill="rgb(240,240,240)"/>
<ellipse cx="67.99" cy="403.34" rx="2.18" ry="1.85" transform="rotate(30 67.99 403.34)" fill="rgb(236,236,236)"/>
<ellipse cx="68.07" cy="408.52" rx="2.32" ry="1.85" transform="rotate(30 68.07 408.52)" fill="rgb(245,245,245)"/>
<ellipse cx="68.09" cy="414" rx="2.45" ry="1.85" transform="rotate(30 68.09 414)" fill="rgb(207,207,207)"/>
<ellipse cx="67.65" cy="419.83" rx="2.18" ry="1.85" transform="rotate(30 67.65 419.83)" fill="rgb(234,234,234)"/>
<ellipse cx="68.09" cy="425.73" rx="1.99" ry="1.85" transform="rotate(30 68.09 425.73)" fill="rgb(217,217,217)"/>
<ellipse cx="68.11" cy="431.03" rx="1.99" ry="1.85" transform="rotate(30 68.11 431.03)" fill="rgb(211,211,211)"/>
<ellipse cx="67.57" cy="436.71" rx="2.23" ry="1.85" transform="rotate(30 67.57 436.71)" fill="rgb(213,213,213)"/>
<ellipse cx="68.12" cy="442.25" rx="1.95" ry="1.85" transform="rotate(30 68.12 442.25)" fill="rgb(210,210,210)"/>
<ellipse cx="73.04" cy="378.11" rx="1.93" ry="1.85" transform="rotate(30 73.04 378.11)" fill="rgb(252,252,252)"/>
<ellipse cx="72.89" cy="383.59" rx="2.18" ry="1.85" transform="rotate(30 72.89 383.59)" fill="rgb(233,233,233)"/>
<ellipse cx="72.75" cy="389.4" rx="2.31" ry="1.85" transform="rotate(30 72.75 389.4)" fill="rgb(252,252,252)"/>
<ellipse cx="73.16" cy="394.79" rx="2.3" ry="1.85" transform="rotate(30 73.16 394.79)" fill="rgb(200,200,200)"/>
<ellipse cx="72.65" cy="400.51" rx="2.03" ry="1.85" transform="rotate(30 72.65 400.51)" fill="rgb(237,237,237)"/>
<ellipse cx="72.68" cy="405.7" rx="2.46" ry="1.85" transform="rotate(30 72.68 405.7)" fill="rgb(206,206,206)"/>
<ellipse cx="72.72" cy="411.79" rx="2.1" ry="1.85" transform="rotate(30 72.72 411.79)" fill="rgb(203,203,203)"/>
<ellipse cx="72.87" cy="417.08" rx="2.05" ry="1.85" transform="rotate(30 72.87 417.08)" fill="rgb(252,252,252)"/>
<ellipse cx="72.88" cy="422.58" rx="2.3" ry="1.85" transform="rotate(30 72.88 422.58)" fill="rgb(202,202,202)"/>
<ellipse cx="72.79" cy="428.35" rx="1.96" ry="1.85" transform="rotate(30 72.79 428.35)" fill="rgb(240,240,240)"/>
<ellipse cx="72.62" cy="434.07" rx="1.92" ry="1.85" transform="rotate(30 72.62 434.07)" fill="rgb(252,252,252)"/>
<ellipse cx="72.86" cy="439.86" rx="2.47" ry="1.85" transform="rotate(30 72.86 439.86)" fill="rgb(249,249,249)"/>
<ellipse cx="77.93" cy="369.94" rx="2.18" ry="1.85" transform="rotate(30 77.93 369.94)" fill="rgb(169,169,169)"/>
<ellipse cx="78.12" cy="375.19" rx="2.17" ry="1.85" transform="rotate(30 78.12 375.19)" fill="rgb(223,223,223)"/>
<ellipse cx="77.84" cy="381.05" rx="2.04" ry="1.85" transform="rotate(30 77.84 381.05)" fill="rgb(252,252,252)"/>
<ellipse cx="77.8" cy="386.64" rx="2.37" ry="1.85" transform="rotate(30 77.8 386.64)" fill="rgb(243,243,243)"/>
<ellipse cx="78.02" cy="392.31" rx="2.27" ry="1.85" transform="rotate(30 78.02 392.31)" fill="rgb(249,249,249)"/>
<ellipse cx="77.78" cy="397.41" rx="2.4" ry="1.85" transform="rotate(30 77.78 397.41)" fill="rgb(250,250,250)"/>
<ellipse cx="78.15" cy="403.12" rx="2.44" ry="1.85" transform="rotate(30 78.15 403.12)" fill="rgb(243,243,243)"/>
<ellipse cx="77.74" cy="408.57" rx="2.04" ry="1.85" transform="rotate(30 77.74 408.57)" fill="rgb(206,206,206)"/>
<ellipse cx="78.02" cy="414.65" rx="2.3" ry="1.85" transform="rotate(30 78.02 414.65)" fill="rgb(248,248,248)"/>
<ellipse cx="78.2" cy="420.34" rx="2.43" ry="1.85" transform="rotate(30 78.2 420.34)" fill="rgb(223,223,223)"/>
<ellipse cx="78.04" cy="425.51" rx="2.01" ry="1.85" transform="rotate(30 78.04 425.51)" fill="rgb(233,233,233)"/>
<ellipse cx="77.85" cy="431.45" rx="2.21" ry="1.85" transform="rotate(30 77.85 431.45)" fill="rgb(195,195,195)"/>
<ellipse cx="77.87" cy="436.73" rx="2.21" ry="1.85" transform="rotate(30 77.87 436.73)" fill="rgb(199,199,199)"/>
<ellipse cx="77.81" cy="442.22" rx="2.29" ry="1.85" transform="rotate(30 77.81 442.22)" fill="rgb(152,152,152)"/>
<ellipse cx="82.68" cy="367.13" rx="2.18" ry="1.85" transform="rotate(30 82.68 367.13)" fill="rgb(155,155,155)"/>
<ellipse cx="82.85" cy="372.77" rx="2.33" ry="1.85" transform="rotate(30 82.85 372.77)" fill="rgb(252,252,252)"/>
<ellipse cx="82.81" cy="378.05" rx="2.2" ry="1.85" transform="rotate(30 82.81 378.05)" fill="rgb(248,248,248)"/>
<ellipse cx="83.02" cy="383.89" rx="2.13" ry="1.85" transform="rotate(30 83.02 383.89)" fill="rgb(207,207,207)"/>
<ellipse cx="83.21" cy="389.26" rx="2" ry="1.85" transform="rotate(30 83.21 389.26)" fill="rgb(250,250,250)"/>
<ellipse cx="82.64" cy="394.96" rx="2.25" ry="1.85" transform="rotate(30 82.64 394.96)" fill="rgb(213,213,213)"/>
<ellipse cx="83.1" cy="400.28" rx="2.12" ry="1.85" transform="rotate(30 83.1 400.28)" fill="rgb(227,227,227)"/>
<ellipse cx="83.18" cy="406.37" rx="2.33" ry="1.85" transform="rotate(30 83.18 406.37)" fill="rgb(252,252,252)"/>
<ellipse cx="82.84" cy="411.83" rx="2.12" ry="1.85" transform="rotate(30 82.84 411.83)" fill="rgb(230,230,230)"/>
<ellipse cx="82.81" cy="417.45" rx="2.05" ry="1.85" transform="rotate(30 82.81 417.45)" fill="rgb(252,252,252)"/>
<ellipse cx="82.85" cy="422.75" rx="2.13" ry="1.85" transform="rotate(30 82.85 422.75)" fill="rgb(218,218,218)"/>
<ellipse cx="82.69" cy="428.65" rx="2.37" ry="1.85" transform="rotate(30 82.69 428.65)" fill="rgb(217,217,217)"/>
<ellipse cx="82.78" cy="434.3" rx="2.01" ry="1.85" transform="rotate(30 82.78 434.3)" fill="rgb(252,252,252)"/>
<ellipse cx="82.86" cy="440.04" rx="2.1" ry="1.85" transform="rotate(30 82.86 440.04)" fill="rgb(221,221,221)"/>
<ellipse cx="87.75" cy="370.06" rx="2.41" ry="1.85" transform="rotate(30 87.75 370.06)" fill="rgb(216,216,216)"/>
<ellipse cx="87.99" cy="375.27" rx="2.42" ry="1.85" transform="rotate(30 87.99 375.27)" fill="rgb(252,252,252)"/>
<ellipse cx="88.11" cy="381.12" rx="2.45" ry="1.85" transform="rotate(30 88.11 381.12)" fill="rgb(243,243,243)"/>
<ellipse cx="87.78" cy="386.5" rx="2.15" ry="1.85" transform="rotate(30 87.78 386.5)" fill="rgb(244,244,244)"/>
<ellipse cx="88.25" cy="392.46" rx="2" ry="1.85" transform="rotate(30 88.25 392.46)" fill="rgb(228,228,228)"/>
<ellipse cx="88.02" cy="397.92" rx="2.35" ry="1.85" transform="rotate(30 88.02 397.92)" fill="rgb(232,232,232)"/>
<ellipse cx="87.94" cy="403.7" rx="2" ry="1.85" transform="rotate(30 87.94 403.7)" fill="rgb(233,233,233)"/>
<ellipse cx="88.15" cy="408.86" rx="2.43" ry="1.85" transform="rotate(30 88.15 408.86)" fill="rgb(252,252,252)"/>
<ellipse cx="87.77" cy="414.48" rx="2.17" ry="1.85" transform="rotate(30 87.77 414.48)" fill="rgb(240,240,240)"/>
<ellipse cx="87.88" cy="420.41" rx="1.99" ry="1.85" transform="rotate(30 87.88 420.41)" fill="rgb(216,216,216)"/>
<ellipse cx="87.99" cy="426.09" rx="1.97" ry="1.85" transform="rotate(30 87.99 426.09)" fill="rgb(252,252,252)"/>
<ellipse cx="88.1" cy="431.35" rx="2.13" ry="1.85" transform="rotate(30 88.1 431.35)" fill="rgb(252,252,252)"/>
<ellipse cx="87.72" cy="436.96" rx="2.01" ry="1.85" transform="rotate(30 87.72 436.96)" fill="rgb(228,228,228)"/>
<ellipse cx="93.14" cy="367.06" rx="2.04" ry="1.85" transform="rotate(30 93.14 367.06)" fill="rgb(212,212,212)"/>
<ellipse cx="92.97" cy="372.86" rx="2.08" ry="1.85" transform="rotate(30 92.97 372.86)" fill="rgb(208,208,208)"/>
<ellipse cx="93.18" cy="378.3" rx="2.26" ry="1.85" transform="rotate(30 93.18 378.3)" fill="rgb(217,217,217)"/>
<ellipse cx="93.09" cy="384.18" rx="2.39" ry="1.85" transform="rotate(30 93.09 384.18)" fill="rgb(231,231,231)"/>
<ellipse cx="93.22" cy="389.82" rx="2.3" ry="1.85" transform="rotate(30 93.22 389.82)" fill="rgb(252,252,252)"/>
<ellipse cx="93.1" cy="395.09" rx="2.43" ry="1.85" transform="rotate(30 93.1 395.09)" fill="rgb(201,201,201)"/>
<ellipse cx="92.93" cy="400.66" rx="2.34" ry="1.85" transform="rotate(30 92.93 400.66)" fill="rgb(230,230,230)"/>
<ellipse cx="93.18" cy="406.13" rx="2.44" ry="1.85" transform="rotate(30 93.18 406.13)" fill="rgb(245,245,245)"/>
<ellipse cx="93.27" cy="412.23" rx="2.41" ry="1.85" transform="rotate(30 93.27 412.23)" fill="rgb(232,232,232)"/>
<ellipse cx="93.03" cy="417.77" rx="2.12" ry="1.85" transform="rotate(30 93.03 417.77)" fill="rgb(252,252,252)"/>
<ellipse cx="92.75" cy="423.31" rx="2.42" ry="1.85" transform="rotate(30 92.75 423.31)" fill="rgb(252,252,252)"/>
<ellipse cx="92.96" cy="428.73" rx="2.39" ry="1.85" transform="rotate(30 92.96 428.73)" fill="rgb(203,203,203)"/>
<ellipse cx="92.84" cy="434.13" rx="2.44" ry="1.85" transform="rotate(30 92.84 434.13)" fill="rgb(201,201,201)"/>
<ellipse cx="97.95" cy="370.24" rx="2.18" ry="1.85" transform="rotate(30 97.95 370.24)" fill="rgb(199,199,199)"/>
<ellipse cx="98.15" cy="375.82" rx="2.18" ry="1.85" transform="rotate(30 98.15 375.82)" fill="rgb(207,207,207)"/>
<ellipse cx="98.19" cy="381.51" rx="2.24" ry="1.85" transform="rotate(30 98.19 381.51)" fill="rgb(201,201,201)"/>
<ellipse cx="98.24" cy="386.93" rx="2.08" ry="1.85" transform="rotate(30 98.24 386.93)" fill="rgb(246,246,246)"/>
<ellipse cx="98" cy="392.17" rx="2.23" ry="1.85" transform="rotate(30 98 392.17)" fill="rgb(246,246,246)"/>
<ellipse cx="97.81" cy="398.32" rx="1.93" ry="1.85" transform="rotate(30 97.81 398.32)" fill="rgb(208,208,208)"/>
<ellipse cx="98.14" cy="403.41" rx="1.99" ry="1.85" transform="rotate(30 98.14 403.41)" fill="rgb(237,237,237)"/>
<ellipse cx="97.72" cy="409.4" rx="2.28" ry="1.85" transform="rotate(30 97.72 409.4)" fill="rgb(234,234,234)"/>
<ellipse cx="98.13" cy="414.99" rx="2.15" ry="1.85" transform="rotate(30 98.13 414.99)" fill="rgb(206,206,206)"/>
<ellipse cx="98.06" cy="420.68" rx="2.19" ry="1.85" transform="rotate(30 98.06 420.68)" fill="rgb(236,236,236)"/>
<ellipse cx="98.19" cy="426.27" rx="2.02" ry="1.85" transform="rotate(30 98.19 426.27)" fill="rgb(211,211,211)"/>
<ellipse cx="97.71" cy="431.88" rx="2.24" ry="1.85" transform="rotate(30 97.71 431.88)" fill="rgb(208,208,208)"/>
<ellipse cx="103.04" cy="367.45" rx="2.28" ry="1.85" transform="rotate(30 103.04 367.45)" fill="rgb(252,252,252)"/>
<ellipse cx="102.83" cy="372.92" rx="2.13" ry="1.85" transform="rotate(30 102.83 372.92)" fill="rgb(207,207,207)"/>
<ellipse cx="103.17" cy="378.65" rx="2.4" ry="1.85" transform="rotate(30 103.17 378.65)" fill="rgb(235,235,235)"/>
<ellipse cx="103.32" cy="384.01" rx="2.28" ry="1.85" transform="rotate(30 103.32 384.01)" fill="rgb(240,240,240)"/>
<ellipse cx="102.74" cy="390.06" rx="2.29" ry="1.85" transform="rotate(30 102.74 390.06)" fill="rgb(220,220,220)"/>
<ellipse cx="102.86" cy="395.31" rx="2.46" ry="1.85" transform="rotate(30 102.86 395.31)" fill="rgb(202,202,202)"/>
<ellipse cx="102.75" cy="400.7" rx="2.24" ry="1.85" transform="rotate(30 102.75 400.7)" fill="rgb(242,242,242)"/>
<ellipse cx="102.92" cy="406.82" rx="2.16" ry="1.85" transform="rotate(30 102.92 406.82)" fill="rgb(240,240,240)"/>
<ellipse cx="103.15" cy="412.42" rx="2.12" ry="1.85" transform="rotate(30 103.15 412.42)" fill="rgb(251,251,251)"/>
<ellipse cx="103.19" cy="417.59" rx="2.47" ry="1.85" transform="rotate(30 103.19 417.59)" fill="rgb(220,220,220)"/>
<ellipse cx="103.17" cy="423.3" rx="2.16" ry="1.85" transform="rotate(30 103.17 423.3)" fill="rgb(230,230,230)"/>
<ellipse cx="103.15" cy="428.97" rx="2.15" ry="1.85" transform="rotate(30 103.15 428.97)" fill="rgb(224,224,224)"/>
<ellipse cx="108.28" cy="370.45" rx="2.14" ry="1.85" transform="rotate(30 108.28 370.45)" fill="rgb(210,210,210)"/>
<ellipse cx="108.29" cy="376" rx="2.27" ry="1.85" transform="rotate(30 108.29 376)" fill="rgb(234,234,234)"/>
<ellipse cx="107.87" cy="381.5" rx="2.16" ry="1.85" transform="rotate(30 107.87 381.5)" fill="rgb(243,243,243)"/>
<ellipse cx="107.99" cy="387.02" rx="2.04" ry="1.85" transform="rotate(30 107.99 387.02)" fill="rgb(233,233,233)"/>
<ellipse cx="108.24" cy="392.4" rx="2.21" ry="1.85" transform="rotate(30 108.24 392.4)" fill="rgb(245,245,245)"/>
<ellipse cx="107.9" cy="398.11" rx="2" ry="1.85" transform="rotate(30 107.9 398.11)" fill="rgb(212,212,212)"/>
<ellipse cx="108.34" cy="403.73" rx="2.28" ry="1.85" transform="rotate(30 108.34 403.73)" fill="rgb(200,200,200)"/>
<ellipse cx="108.33" cy="409.33" rx="2.24" ry="1.85" transform="rotate(30 108.33 409.33)" fill="rgb(210,210,210)"/>
<ellipse cx="107.94" cy="415.04" rx="2.47" ry="1.85" transform="rotate(30 107.94 415.04)" fill="rgb(232,232,232)"/>
<ellipse cx="107.98" cy="420.58" rx="2.23" ry="1.85" transform="rotate(30 107.98 420.58)" fill="rgb(241,241,241)"/>
<ellipse cx="108.27" cy="426.22" rx="2.2" ry="1.85" transform="rotate(30 108.27 426.22)" fill="rgb(218,218,218)"/>
<ellipse cx="113.13" cy="367.55" rx="1.98" ry="1.85" transform="rotate(30 113.13 367.55)" fill="rgb(205,205,205)"/>
<ellipse cx="113.01" cy="373.46" rx="2.19" ry="1.85" transform="rotate(30 113.01 373.46)" fill="rgb(228,228,228)"/>
<ellipse cx="113.04" cy="378.93" rx="2.13" ry="1.85" transform="rotate(30 113.04 378.93)" fill="rgb(218,218,218)"/>
<ellipse cx="112.97" cy="384.4" rx="2.25" ry="1.85" transform="rotate(30 112.97 384.4)" fill="rgb(226,226,226)"/>
<ellipse cx="113.33" cy="389.87" rx="2.47" ry="1.85" transform="rotate(30 113.33 389.87)" fill="rgb(235,235,235)"/>
<ellipse cx="113.22" cy="395.77" rx="2.02" ry="1.85" transform="rotate(30 113.22 395.77)" fill="rgb(247,247,247)"/>
<ellipse cx="113.15" cy="401.07" rx="1.98" ry="1.85" transform="rotate(30 113.15 401.07)" fill="rgb(218,218,218)"/>
<ellipse cx="113.24" cy="407.01" rx="2.16" ry="1.85" transform="rotate(30 113.24 407.01)" fill="rgb(251,251,251)"/>
<ellipse cx="113.32" cy="412.54" rx="2.36" ry="1.85" transform="rotate(30 113.32 412.54)" fill="rgb(235,235,235)"/>
<ellipse cx="113.24" cy="417.67" rx="2.28" ry="1.85" transform="rotate(30 113.24 417.67)" fill="rgb(232,232,232)"/>
<ellipse cx="118.01" cy="365.05" rx="1.96" ry="1.85" transform="rotate(30 118.01 365.05)" fill="rgb(179,179,179)"/>
<ellipse cx="118.03" cy="370.17" rx="1.97" ry="1.85" transform="rotate(30 118.03 370.17)" fill="rgb(219,219,219)"/>
<ellipse cx="117.8" cy="375.94" rx="2.01" ry="1.85" transform="rotate(30 117.8 375.94)" fill="rgb(241,241,241)"/>
<ellipse cx="118.38" cy="381.47" rx="2.06" ry="1.85" transform="rotate(30 118.38 381.47)" fill="rgb(248,248,248)"/>
<ellipse cx="118.32" cy="387.26" rx="2.16" ry="1.85" transform="rotate(30 118.32 387.26)" fill="rgb(249,249,249)"/>
<ellipse cx="117.96" cy="393.09" rx="1.98" ry="1.85" transform="rotate(30 117.96 393.09)" fill="rgb(196,196,196)"/>
<ellipse cx="117.88" cy="398.5" rx="2.05" ry="1.85" transform="rotate(30 117.88 398.5)" fill="rgb(244,244,244)"/>
<ellipse cx="118.14" cy="404.27" rx="2.34" ry="1.85" transform="rotate(30 118.14 404.27)" fill="rgb(195,195,195)"/>
<ellipse cx="117.88" cy="409.38" rx="2.13" ry="1.85" transform="rotate(30 117.88 409.38)" fill="rgb(227,227,227)"/>
<ellipse cx="123.05" cy="373.44" rx="2.25" ry="1.85" transform="rotate(30 123.05 373.44)" fill="rgb(159,159,159)"/>
<ellipse cx="122.91" cy="379.23" rx="2.03" ry="1.85" transform="rotate(30 122.91 379.23)" fill="rgb(225,225,225)"/>
<ellipse cx="123.13" cy="384.51" rx="2.34" ry="1.85" transform="rotate(30 123.13 384.51)" fill="rgb(199,199,199)"/>
<ellipse cx="123.08" cy="390.37" rx="2.38" ry="1.85" transform="rotate(30 123.08 390.37)" fill="rgb(244,244,244)"/>
<ellipse cx="123.39" cy="395.64" rx="2.23" ry="1.85" transform="rotate(30 123.39 395.64)" fill="rgb(231,231,231)"/>
<ellipse cx="123.19" cy="401.51" rx="2.28" ry="1.85" transform="rotate(30 123.19 401.51)" fill="rgb(244,244,244)"/>
<ellipse cx="128.2" cy="387.49" rx="2.07" ry="1.85" transform="rotate(30 128.2 387.49)" fill="rgb(160,160,160)"/>
<ellipse cx="127.91" cy="393.12" rx="2.04" ry="1.85" transform="rotate(30 127.91 393.12)" fill="rgb(209,209,209)"/>
</g></g>
<mask id="fm2_19_440" maskUnits="userSpaceOnUse" x="0" y="0" width="685" height="633"><polygon points="19.5,440 45,430 55,476 19.5,476" fill="#fff" filter="url(#edge)"/></mask>
<g clip-path="url(#cp2)" mask="url(#fm2_19_440)" opacity="0.25"><g transform="rotate(35 34.75 455.5)" filter="url(#soft)">
<rect x="-25.25" y="395.5" width="120" height="120" fill="#303030"/>
<rect x="-25.25" y="395.5" width="120" height="1.62" fill="#d0d0d0"/>
<rect x="-25.25" y="399.1" width="120" height="1.62" fill="#d0d0d0"/>
<rect x="-25.25" y="402.7" width="120" height="1.62" fill="#d0d0d0"/>
<rect x="-25.25" y="406.3" width="120" height="1.62" fill="#d0d0d0"/>
<rect x="-25.25" y="409.9" width="120" height="1.62" fill="#d0d0d0"/>
<rect x="-25.25" y="413.5" width="120" height="1.62" fill="#d0d0d0"/>
<rect x="-25.25" y="417.1" width="120" height="1.62" fill="#d0d0d0"/>
<rect x="-25.25" y="420.7" width="120" height="1.62" fill="#d0d0d0"/>
<rect x="-25.25" y="424.3" width="120" height="1.62" fill="#d0d0d0"/>
<rect x="-25.25" y="427.9" width="120" height="1.62" fill="#d0d0d0"/>
<rect x="-25.25" y="431.5" width="120" height="1.62" fill="#d0d0d0"/>
<rect x="-25.25" y="435.1" width="120" height="1.62" fill="#d0d0d0"/>
<rect x="-25.25" y="438.7" width="120" height="1.62" fill="#d0d0d0"/>
<rect x="-25.25" y="442.3" width="120" height="1.62" fill="#d0d0d0"/>
<rect x="-25.25" y="445.9" width="120" height="1.62" fill="#d0d0d0"/>
<rect x="-25.25" y="449.5" width="120" height="1.62" fill="#d0d0d0"/>
<rect x="-25.25" y="453.1" width="120" height="1.62" fill="#d0d0d0"/>
<rect x="-25.25" y="456.7" width="120" height="1.62" fill="#d0d0d0"/>
<rect x="-25.25" y="460.3" width="120" height="1.62" fill="#d0d0d0"/>
<rect x="-25.25" y="463.9" width="120" height="1.62" fill="#d0d0d0"/>
<rect x="-25.25" y="467.5" width="120" height="1.62" fill="#d0d0d0"/>
<rect x="-25.25" y="471.1" width="120" height="1.62" fill="#d0d0d0"/>
<rect x="-25.25" y="474.7" width="120" height="1.62" fill="#d0d0d0"/>
<rect x="-25.25" y="478.3" width="120" height="1.62" fill="#d0d0d0"/>
<rect x="-25.25" y="481.9" width="120" height="1.62" fill="#d0d0d0"/>
<rect x="-25.25" y="485.5" width="120" height="1.62" fill="#d0d0d0"/>
<rect x="-25.25" y="489.1" width="120" height="1.62" fill="#d0d0d0"/>
<rect x="-25.25" y="492.7" width="120" height="1.62" fill="#d0d0d0"/>
<rect x="-25.25" y="496.3" width="120" height="1.62" fill="#d0d0d0"/>
<rect x="-25.25" y="499.9" width="120" height="1.62" fill="#d0d0d0"/>
<rect x="-25.25" y="503.5" width="120" height="1.62" fill="#d0d0d0"/>
<rect x="-25.25" y="507.1" width="120" height="1.62" fill="#d0d0d0"/>
<rect x="-25.25" y="510.7" width="120" height="1.62" fill="#d0d0d0"/>
<rect x="-25.25" y="514.3" width="120" height="1.62" fill="#d0d0d0"/>
</g></g>
<rect x="24.7" y="450.7" width="43.6" height="20.1" fill="#fff" stroke="#000" stroke-width="1.4"/>
<text x="30.6" y="463" class="sb" textLength="29.8" lengthAdjust="spacingAndGlyphs">2 nm</text>
<rect x="28.8" y="465.7" width="35.2" height="1.3" fill="#000"/>
<text x="7.5" y="416.6" class="rl" text-anchor="middle" transform="rotate(-90 7.5 416.6)" dy="4.9" textLength="82.2" lengthAdjust="spacingAndGlyphs">CeOx:Gd19%</text>
<rect x="214.88" y="454.2" width="5.95" height="3.3" fill="#808080" stroke="#222" stroke-width="1"/>
<rect x="222.83" y="444.71" width="5.95" height="12.79" fill="#808080" stroke="#222" stroke-width="1"/>
<rect x="230.78" y="400.74" width="5.95" height="56.76" fill="#808080" stroke="#222" stroke-width="1"/>
<rect x="238.72" y="406.75" width="5.95" height="50.75" fill="#808080" stroke="#222" stroke-width="1"/>
<rect x="246.68" y="409.92" width="5.95" height="47.58" fill="#808080" stroke="#222" stroke-width="1"/>
<rect x="254.62" y="422.57" width="5.95" height="34.93" fill="#808080" stroke="#222" stroke-width="1"/>
<rect x="262.57" y="435.22" width="5.95" height="22.28" fill="#808080" stroke="#222" stroke-width="1"/>
<rect x="270.52" y="435.22" width="5.95" height="22.28" fill="#808080" stroke="#222" stroke-width="1"/>
<rect x="278.48" y="435.22" width="5.95" height="22.28" fill="#808080" stroke="#222" stroke-width="1"/>
<rect x="286.43" y="432.06" width="5.95" height="25.44" fill="#808080" stroke="#222" stroke-width="1"/>
<rect x="294.38" y="447.88" width="5.95" height="9.62" fill="#808080" stroke="#222" stroke-width="1"/>
<rect x="302.32" y="451.04" width="5.95" height="6.46" fill="#808080" stroke="#222" stroke-width="1"/>
<line x1="205.8" y1="362.6" x2="205.8" y2="458" stroke="#5a5a5a" stroke-width="1"/>
<line x1="205.3" y1="457.5" x2="308.3" y2="457.5" stroke="#5a5a5a" stroke-width="1"/>
<line x1="204" y1="457.5" x2="205.8" y2="457.5" stroke="#5a5a5a" stroke-width="0.8"/>
<line x1="204.8" y1="449.59" x2="205.8" y2="449.59" stroke="#5a5a5a" stroke-width="0.8"/>
<line x1="204" y1="441.68" x2="205.8" y2="441.68" stroke="#5a5a5a" stroke-width="0.8"/>
<line x1="204.8" y1="433.77" x2="205.8" y2="433.77" stroke="#5a5a5a" stroke-width="0.8"/>
<line x1="204" y1="425.87" x2="205.8" y2="425.87" stroke="#5a5a5a" stroke-width="0.8"/>
<line x1="204.8" y1="417.96" x2="205.8" y2="417.96" stroke="#5a5a5a" stroke-width="0.8"/>
<line x1="204" y1="410.05" x2="205.8" y2="410.05" stroke="#5a5a5a" stroke-width="0.8"/>
<line x1="204.8" y1="402.14" x2="205.8" y2="402.14" stroke="#5a5a5a" stroke-width="0.8"/>
<line x1="204" y1="394.23" x2="205.8" y2="394.23" stroke="#5a5a5a" stroke-width="0.8"/>
<line x1="204.8" y1="386.33" x2="205.8" y2="386.33" stroke="#5a5a5a" stroke-width="0.8"/>
<line x1="204" y1="378.42" x2="205.8" y2="378.42" stroke="#5a5a5a" stroke-width="0.8"/>
<line x1="204.8" y1="370.51" x2="205.8" y2="370.51" stroke="#5a5a5a" stroke-width="0.8"/>
<line x1="204" y1="362.6" x2="205.8" y2="362.6" stroke="#5a5a5a" stroke-width="0.8"/>
<text x="203.8" y="459.3" class="tk" text-anchor="end">0</text>
<text x="203.8" y="443.48" class="tk" text-anchor="end">5</text>
<text x="203.8" y="427.67" class="tk" text-anchor="end" textLength="5.98" lengthAdjust="spacingAndGlyphs">10</text>
<text x="203.8" y="411.85" class="tk" text-anchor="end" textLength="5.98" lengthAdjust="spacingAndGlyphs">15</text>
<text x="203.8" y="396.03" class="tk" text-anchor="end" textLength="5.98" lengthAdjust="spacingAndGlyphs">20</text>
<text x="203.8" y="380.22" class="tk" text-anchor="end" textLength="5.98" lengthAdjust="spacingAndGlyphs">25</text>
<text x="203.8" y="364.4" class="tk" text-anchor="end" textLength="5.98" lengthAdjust="spacingAndGlyphs">30</text>
<line x1="209.9" y1="457.5" x2="209.9" y2="459.3" stroke="#5a5a5a" stroke-width="0.8"/>
<line x1="217.85" y1="457.5" x2="217.85" y2="458.5" stroke="#5a5a5a" stroke-width="0.8"/>
<line x1="225.8" y1="457.5" x2="225.8" y2="459.3" stroke="#5a5a5a" stroke-width="0.8"/>
<line x1="233.75" y1="457.5" x2="233.75" y2="458.5" stroke="#5a5a5a" stroke-width="0.8"/>
<line x1="241.7" y1="457.5" x2="241.7" y2="459.3" stroke="#5a5a5a" stroke-width="0.8"/>
<line x1="249.65" y1="457.5" x2="249.65" y2="458.5" stroke="#5a5a5a" stroke-width="0.8"/>
<line x1="257.6" y1="457.5" x2="257.6" y2="459.3" stroke="#5a5a5a" stroke-width="0.8"/>
<line x1="265.55" y1="457.5" x2="265.55" y2="458.5" stroke="#5a5a5a" stroke-width="0.8"/>
<line x1="273.5" y1="457.5" x2="273.5" y2="459.3" stroke="#5a5a5a" stroke-width="0.8"/>
<line x1="281.45" y1="457.5" x2="281.45" y2="458.5" stroke="#5a5a5a" stroke-width="0.8"/>
<line x1="289.4" y1="457.5" x2="289.4" y2="459.3" stroke="#5a5a5a" stroke-width="0.8"/>
<line x1="297.35" y1="457.5" x2="297.35" y2="458.5" stroke="#5a5a5a" stroke-width="0.8"/>
<line x1="305.3" y1="457.5" x2="305.3" y2="459.3" stroke="#5a5a5a" stroke-width="0.8"/>
<text x="209.9" y="464.5" class="tk" text-anchor="middle">2</text>
<text x="225.8" y="464.5" class="tk" text-anchor="middle">3</text>
<text x="241.7" y="464.5" class="tk" text-anchor="middle">4</text>
<text x="257.6" y="464.5" class="tk" text-anchor="middle">5</text>
<text x="273.5" y="464.5" class="tk" text-anchor="middle">6</text>
<text x="289.4" y="464.5" class="tk" text-anchor="middle">7</text>
<text x="305.3" y="464.5" class="tk" text-anchor="middle">8</text>
<text x="228.15" y="476.1" class="al" textLength="59.1" lengthAdjust="spacingAndGlyphs">Feret diameter (nm)</text>
<text x="194.3" y="433" class="yl" textLength="36.5" lengthAdjust="spacingAndGlyphs" transform="rotate(-90 194.3 433)">Frequency</text>
<rect x="254" y="370.8" width="13.3" height="5.7" fill="#808080" stroke="#222" stroke-width="1"/>
<text x="269.9" y="376.2" class="lg">CeOx:Gd19%</text>
<rect x="408.6" y="436.74" width="6" height="20.76" fill="#808080" stroke="#222" stroke-width="1"/>
<rect x="416.6" y="392.9" width="6" height="64.6" fill="#808080" stroke="#222" stroke-width="1"/>
<rect x="424.6" y="421.75" width="6" height="35.75" fill="#808080" stroke="#222" stroke-width="1"/>
<rect x="432.6" y="427.25" width="6" height="30.25" fill="#808080" stroke="#222" stroke-width="1"/>
<rect x="440.6" y="446.04" width="6" height="11.46" fill="#808080" stroke="#222" stroke-width="1"/>
<rect x="448.6" y="446.04" width="6" height="11.46" fill="#808080" stroke="#222" stroke-width="1"/>
<rect x="456.6" y="452.12" width="6" height="5.38" fill="#808080" stroke="#222" stroke-width="1"/>
<rect x="464.6" y="447.75" width="6" height="9.75" fill="#808080" stroke="#222" stroke-width="1"/>
<line x1="383.3" y1="362.6" x2="383.3" y2="458" stroke="#5a5a5a" stroke-width="1"/>
<line x1="382.8" y1="457.5" x2="487.3" y2="457.5" stroke="#5a5a5a" stroke-width="1"/>
<line x1="381.5" y1="457.5" x2="383.3" y2="457.5" stroke="#5a5a5a" stroke-width="0.8"/>
<line x1="382.3" y1="448.01" x2="383.3" y2="448.01" stroke="#5a5a5a" stroke-width="0.8"/>
<line x1="381.5" y1="438.52" x2="383.3" y2="438.52" stroke="#5a5a5a" stroke-width="0.8"/>
<line x1="382.3" y1="429.03" x2="383.3" y2="429.03" stroke="#5a5a5a" stroke-width="0.8"/>
<line x1="381.5" y1="419.54" x2="383.3" y2="419.54" stroke="#5a5a5a" stroke-width="0.8"/>
<line x1="382.3" y1="410.05" x2="383.3" y2="410.05" stroke="#5a5a5a" stroke-width="0.8"/>
<line x1="381.5" y1="400.56" x2="383.3" y2="400.56" stroke="#5a5a5a" stroke-width="0.8"/>
<line x1="382.3" y1="391.07" x2="383.3" y2="391.07" stroke="#5a5a5a" stroke-width="0.8"/>
<line x1="381.5" y1="381.58" x2="383.3" y2="381.58" stroke="#5a5a5a" stroke-width="0.8"/>
<line x1="382.3" y1="372.09" x2="383.3" y2="372.09" stroke="#5a5a5a" stroke-width="0.8"/>
<line x1="381.5" y1="362.6" x2="383.3" y2="362.6" stroke="#5a5a5a" stroke-width="0.8"/>
<text x="381.3" y="459.3" class="tk" text-anchor="end">0</text>
<text x="381.3" y="440.32" class="tk" text-anchor="end" textLength="5.98" lengthAdjust="spacingAndGlyphs">10</text>
<text x="381.3" y="421.34" class="tk" text-anchor="end" textLength="5.98" lengthAdjust="spacingAndGlyphs">20</text>
<text x="381.3" y="402.36" class="tk" text-anchor="end" textLength="5.98" lengthAdjust="spacingAndGlyphs">30</text>
<text x="381.3" y="383.38" class="tk" text-anchor="end" textLength="5.98" lengthAdjust="spacingAndGlyphs">40</text>
<text x="381.3" y="364.4" class="tk" text-anchor="end" textLength="5.98" lengthAdjust="spacingAndGlyphs">50</text>
<line x1="387.6" y1="457.5" x2="387.6" y2="459.3" stroke="#5a5a5a" stroke-width="0.8"/>
<line x1="395.6" y1="457.5" x2="395.6" y2="458.5" stroke="#5a5a5a" stroke-width="0.8"/>
<line x1="403.6" y1="457.5" x2="403.6" y2="459.3" stroke="#5a5a5a" stroke-width="0.8"/>
<line x1="411.6" y1="457.5" x2="411.6" y2="458.5" stroke="#5a5a5a" stroke-width="0.8"/>
<line x1="419.6" y1="457.5" x2="419.6" y2="459.3" stroke="#5a5a5a" stroke-width="0.8"/>
<line x1="427.6" y1="457.5" x2="427.6" y2="458.5" stroke="#5a5a5a" stroke-width="0.8"/>
<line x1="435.6" y1="457.5" x2="435.6" y2="459.3" stroke="#5a5a5a" stroke-width="0.8"/>
<line x1="443.6" y1="457.5" x2="443.6" y2="458.5" stroke="#5a5a5a" stroke-width="0.8"/>
<line x1="451.6" y1="457.5" x2="451.6" y2="459.3" stroke="#5a5a5a" stroke-width="0.8"/>
<line x1="459.6" y1="457.5" x2="459.6" y2="458.5" stroke="#5a5a5a" stroke-width="0.8"/>
<line x1="467.6" y1="457.5" x2="467.6" y2="459.3" stroke="#5a5a5a" stroke-width="0.8"/>
<line x1="475.6" y1="457.5" x2="475.6" y2="458.5" stroke="#5a5a5a" stroke-width="0.8"/>
<line x1="483.6" y1="457.5" x2="483.6" y2="459.3" stroke="#5a5a5a" stroke-width="0.8"/>
<text x="387.6" y="464.5" class="tk" text-anchor="middle">1</text>
<text x="403.6" y="464.5" class="tk" text-anchor="middle">2</text>
<text x="419.6" y="464.5" class="tk" text-anchor="middle">3</text>
<text x="435.6" y="464.5" class="tk" text-anchor="middle">4</text>
<text x="451.6" y="464.5" class="tk" text-anchor="middle">5</text>
<text x="467.6" y="464.5" class="tk" text-anchor="middle">6</text>
<text x="483.6" y="464.5" class="tk" text-anchor="middle">7</text>
<text x="400.8" y="476.1" class="al" textLength="70.8" lengthAdjust="spacingAndGlyphs">MinFeret diameter (nm)</text>
<text x="371.8" y="433" class="yl" textLength="36.5" lengthAdjust="spacingAndGlyphs" transform="rotate(-90 371.8 433)">Frequency</text>
<rect x="431.8" y="370.8" width="13.4" height="5.7" fill="#808080" stroke="#222" stroke-width="1"/>
<text x="447.8" y="376.2" class="lg">CeOx:Gd19%</text>
<rect x="573.85" y="442.82" width="3.1" height="14.68" fill="#808080" stroke="#222" stroke-width="1"/>
<rect x="577.95" y="427.84" width="3.1" height="29.66" fill="#808080" stroke="#222" stroke-width="1"/>
<rect x="582.05" y="403.17" width="3.1" height="54.33" fill="#808080" stroke="#222" stroke-width="1"/>
<rect x="586.15" y="415.82" width="3.1" height="41.68" fill="#808080" stroke="#222" stroke-width="1"/>
<rect x="590.25" y="439.02" width="3.1" height="18.48" fill="#808080" stroke="#222" stroke-width="1"/>
<rect x="594.35" y="445.14" width="3.1" height="12.36" fill="#808080" stroke="#222" stroke-width="1"/>
<rect x="598.45" y="439.02" width="3.1" height="18.48" fill="#808080" stroke="#222" stroke-width="1"/>
<rect x="602.55" y="451.46" width="3.1" height="6.04" fill="#808080" stroke="#222" stroke-width="1"/>
<rect x="606.65" y="451.46" width="3.1" height="6.04" fill="#808080" stroke="#222" stroke-width="1"/>
<rect x="610.75" y="455.68" width="3.1" height="1.82" fill="#808080" stroke="#222" stroke-width="1"/>
<rect x="614.85" y="455.68" width="3.1" height="1.82" fill="#808080" stroke="#222" stroke-width="1"/>
<rect x="635.35" y="455.68" width="3.1" height="1.82" fill="#808080" stroke="#222" stroke-width="1"/>
<line x1="560.6" y1="362.6" x2="560.6" y2="458" stroke="#5a5a5a" stroke-width="1"/>
<line x1="560.1" y1="457.5" x2="664.5" y2="457.5" stroke="#5a5a5a" stroke-width="1"/>
<line x1="558.8" y1="457.5" x2="560.6" y2="457.5" stroke="#5a5a5a" stroke-width="0.8"/>
<line x1="559.6" y1="446.96" x2="560.6" y2="446.96" stroke="#5a5a5a" stroke-width="0.8"/>
<line x1="558.8" y1="436.41" x2="560.6" y2="436.41" stroke="#5a5a5a" stroke-width="0.8"/>
<line x1="559.6" y1="425.87" x2="560.6" y2="425.87" stroke="#5a5a5a" stroke-width="0.8"/>
<line x1="558.8" y1="415.32" x2="560.6" y2="415.32" stroke="#5a5a5a" stroke-width="0.8"/>
<line x1="559.6" y1="404.78" x2="560.6" y2="404.78" stroke="#5a5a5a" stroke-width="0.8"/>
<line x1="558.8" y1="394.23" x2="560.6" y2="394.23" stroke="#5a5a5a" stroke-width="0.8"/>
<line x1="559.6" y1="383.69" x2="560.6" y2="383.69" stroke="#5a5a5a" stroke-width="0.8"/>
<line x1="558.8" y1="373.14" x2="560.6" y2="373.14" stroke="#5a5a5a" stroke-width="0.8"/>
<line x1="559.6" y1="362.6" x2="560.6" y2="362.6" stroke="#5a5a5a" stroke-width="0.8"/>
<text x="558.6" y="459.3" class="tk" text-anchor="end">0</text>
<text x="558.6" y="438.21" class="tk" text-anchor="end" textLength="5.98" lengthAdjust="spacingAndGlyphs">10</text>
<text x="558.6" y="417.12" class="tk" text-anchor="end" textLength="5.98" lengthAdjust="spacingAndGlyphs">20</text>
<text x="558.6" y="396.03" class="tk" text-anchor="end" textLength="5.98" lengthAdjust="spacingAndGlyphs">30</text>
<text x="558.6" y="374.94" class="tk" text-anchor="end" textLength="5.98" lengthAdjust="spacingAndGlyphs">40</text>
<line x1="571.3" y1="457.5" x2="571.3" y2="459.3" stroke="#5a5a5a" stroke-width="0.8"/>
<line x1="581.55" y1="457.5" x2="581.55" y2="458.5" stroke="#5a5a5a" stroke-width="0.8"/>
<line x1="591.8" y1="457.5" x2="591.8" y2="459.3" stroke="#5a5a5a" stroke-width="0.8"/>
<line x1="602.05" y1="457.5" x2="602.05" y2="458.5" stroke="#5a5a5a" stroke-width="0.8"/>
<line x1="612.3" y1="457.5" x2="612.3" y2="459.3" stroke="#5a5a5a" stroke-width="0.8"/>
<line x1="622.55" y1="457.5" x2="622.55" y2="458.5" stroke="#5a5a5a" stroke-width="0.8"/>
<line x1="632.8" y1="457.5" x2="632.8" y2="459.3" stroke="#5a5a5a" stroke-width="0.8"/>
<line x1="643.05" y1="457.5" x2="643.05" y2="458.5" stroke="#5a5a5a" stroke-width="0.8"/>
<line x1="653.3" y1="457.5" x2="653.3" y2="459.3" stroke="#5a5a5a" stroke-width="0.8"/>
<line x1="663.55" y1="457.5" x2="663.55" y2="458.5" stroke="#5a5a5a" stroke-width="0.8"/>
<text x="571.3" y="464.5" class="tk" text-anchor="middle" textLength="7.4" lengthAdjust="spacingAndGlyphs">1.0</text>
<text x="591.8" y="464.5" class="tk" text-anchor="middle" textLength="7.4" lengthAdjust="spacingAndGlyphs">1.5</text>
<text x="612.3" y="464.5" class="tk" text-anchor="middle" textLength="7.4" lengthAdjust="spacingAndGlyphs">2.0</text>
<text x="632.8" y="464.5" class="tk" text-anchor="middle" textLength="7.4" lengthAdjust="spacingAndGlyphs">2.5</text>
<text x="653.3" y="464.5" class="tk" text-anchor="middle" textLength="7.4" lengthAdjust="spacingAndGlyphs">3.0</text>
<text x="593.2" y="476.1" class="al" textLength="38.4" lengthAdjust="spacingAndGlyphs">Aspect Ratio</text>
<text x="549.1" y="433" class="yl" textLength="36.5" lengthAdjust="spacingAndGlyphs" transform="rotate(-90 549.1 433)">Frequency</text>
<rect x="607.9" y="370.8" width="13.4" height="5.7" fill="#808080" stroke="#222" stroke-width="1"/>
<text x="623.9" y="376.2" class="lg">CeOx:Gd19%</text>
<rect x="21.5" y="495.5" width="128.1" height="1.6" fill="#f1f1f1"/>
<rect x="19.5" y="500.3" width="130.1" height="133.2" fill="#828282"/>
<rect x="19.5" y="500.3" width="130.1" height="133.2" fill="#808080" filter="url(#noise3)"/>
<clipPath id="cp3"><rect x="19.5" y="500.3" width="130.1" height="133.2"/></clipPath>
<g clip-path="url(#cp3)" opacity="0.62">
<polygon points="65.37,537.54 89.62,535.6 104.17,543.36 99.32,555.97 87.68,567.61 77.98,577.31 62.46,571.49 53.73,559.85 56.64,546.27" fill="#151515" filter="url(#edge2)" opacity="0.92"/>
<g filter="url(#soft)">
<ellipse cx="56.65" cy="557.19" rx="2.17" ry="1.8" transform="rotate(-6 56.65 557.19)" fill="rgb(241,241,241)"/>
<ellipse cx="59.01" cy="562.26" rx="1.85" ry="1.8" transform="rotate(-6 59.01 562.26)" fill="rgb(234,234,234)"/>
<ellipse cx="61.92" cy="568.05" rx="1.85" ry="1.8" transform="rotate(-6 61.92 568.05)" fill="rgb(251,251,251)"/>
<ellipse cx="55.75" cy="545.9" rx="1.8" ry="1.8" transform="rotate(-6 55.75 545.9)" fill="rgb(164,164,164)"/>
<ellipse cx="58.65" cy="551.13" rx="2.06" ry="1.8" transform="rotate(-6 58.65 551.13)" fill="rgb(203,203,203)"/>
<ellipse cx="61.44" cy="556.61" rx="2.16" ry="1.8" transform="rotate(-6 61.44 556.61)" fill="rgb(242,242,242)"/>
<ellipse cx="64.4" cy="562.13" rx="2.22" ry="1.8" transform="rotate(-6 64.4 562.13)" fill="rgb(232,232,232)"/>
<ellipse cx="67.11" cy="567.18" rx="2.28" ry="1.8" transform="rotate(-6 67.11 567.18)" fill="rgb(232,232,232)"/>
<ellipse cx="70.15" cy="572.54" rx="1.93" ry="1.8" transform="rotate(-6 70.15 572.54)" fill="rgb(211,211,211)"/>
<ellipse cx="61.1" cy="545.8" rx="2.25" ry="1.8" transform="rotate(-6 61.1 545.8)" fill="rgb(252,252,252)"/>
<ellipse cx="64.1" cy="550.94" rx="2.04" ry="1.8" transform="rotate(-6 64.1 550.94)" fill="rgb(214,214,214)"/>
<ellipse cx="66.69" cy="556.06" rx="1.84" ry="1.8" transform="rotate(-6 66.69 556.06)" fill="rgb(211,211,211)"/>
<ellipse cx="69.97" cy="561.16" rx="2.15" ry="1.8" transform="rotate(-6 69.97 561.16)" fill="rgb(247,247,247)"/>
<ellipse cx="72.29" cy="566.69" rx="2.3" ry="1.8" transform="rotate(-6 72.29 566.69)" fill="rgb(252,252,252)"/>
<ellipse cx="75.39" cy="572.16" rx="1.94" ry="1.8" transform="rotate(-6 75.39 572.16)" fill="rgb(241,241,241)"/>
<ellipse cx="78.2" cy="577.36" rx="2.21" ry="1.8" transform="rotate(-6 78.2 577.36)" fill="rgb(160,160,160)"/>
<ellipse cx="63.69" cy="539.81" rx="2.02" ry="1.8" transform="rotate(-6 63.69 539.81)" fill="rgb(163,163,163)"/>
<ellipse cx="66.27" cy="545.05" rx="2.07" ry="1.8" transform="rotate(-6 66.27 545.05)" fill="rgb(251,251,251)"/>
<ellipse cx="69.4" cy="550.33" rx="1.99" ry="1.8" transform="rotate(-6 69.4 550.33)" fill="rgb(209,209,209)"/>
<ellipse cx="72.22" cy="555.64" rx="2.04" ry="1.8" transform="rotate(-6 72.22 555.64)" fill="rgb(219,219,219)"/>
<ellipse cx="74.89" cy="560.88" rx="1.96" ry="1.8" transform="rotate(-6 74.89 560.88)" fill="rgb(238,238,238)"/>
<ellipse cx="77.92" cy="566.36" rx="2.3" ry="1.8" transform="rotate(-6 77.92 566.36)" fill="rgb(229,229,229)"/>
<ellipse cx="80.51" cy="571.7" rx="1.98" ry="1.8" transform="rotate(-6 80.51 571.7)" fill="rgb(206,206,206)"/>
<ellipse cx="69.18" cy="538.83" rx="2.24" ry="1.8" transform="rotate(-6 69.18 538.83)" fill="rgb(234,234,234)"/>
<ellipse cx="72.08" cy="544.51" rx="1.96" ry="1.8" transform="rotate(-6 72.08 544.51)" fill="rgb(217,217,217)"/>
<ellipse cx="74.71" cy="549.44" rx="2.25" ry="1.8" transform="rotate(-6 74.71 549.44)" fill="rgb(196,196,196)"/>
<ellipse cx="77.52" cy="554.8" rx="1.94" ry="1.8" transform="rotate(-6 77.52 554.8)" fill="rgb(222,222,222)"/>
<ellipse cx="80.48" cy="560.17" rx="2.18" ry="1.8" transform="rotate(-6 80.48 560.17)" fill="rgb(242,242,242)"/>
<ellipse cx="82.97" cy="565.45" rx="1.99" ry="1.8" transform="rotate(-6 82.97 565.45)" fill="rgb(228,228,228)"/>
<ellipse cx="74.32" cy="538.45" rx="2.01" ry="1.8" transform="rotate(-6 74.32 538.45)" fill="rgb(246,246,246)"/>
<ellipse cx="76.86" cy="544.02" rx="2.14" ry="1.8" transform="rotate(-6 76.86 544.02)" fill="rgb(252,252,252)"/>
<ellipse cx="79.93" cy="549.37" rx="1.79" ry="1.8" transform="rotate(-6 79.93 549.37)" fill="rgb(252,252,252)"/>
<ellipse cx="82.71" cy="554.16" rx="1.91" ry="1.8" transform="rotate(-6 82.71 554.16)" fill="rgb(216,216,216)"/>
<ellipse cx="85.51" cy="559.85" rx="1.92" ry="1.8" transform="rotate(-6 85.51 559.85)" fill="rgb(250,250,250)"/>
<ellipse cx="88.06" cy="565.34" rx="2.07" ry="1.8" transform="rotate(-6 88.06 565.34)" fill="rgb(230,230,230)"/>
<ellipse cx="79.3" cy="537.73" rx="2.06" ry="1.8" transform="rotate(-6 79.3 537.73)" fill="rgb(251,251,251)"/>
<ellipse cx="82.57" cy="543.47" rx="2.21" ry="1.8" transform="rotate(-6 82.57 543.47)" fill="rgb(243,243,243)"/>
<ellipse cx="85.02" cy="548.44" rx="2.19" ry="1.8" transform="rotate(-6 85.02 548.44)" fill="rgb(223,223,223)"/>
<ellipse cx="88.16" cy="554.05" rx="2.04" ry="1.8" transform="rotate(-6 88.16 554.05)" fill="rgb(232,232,232)"/>
<ellipse cx="90.62" cy="559.29" rx="2.06" ry="1.8" transform="rotate(-6 90.62 559.29)" fill="rgb(237,237,237)"/>
<ellipse cx="84.94" cy="537.73" rx="1.84" ry="1.8" transform="rotate(-6 84.94 537.73)" fill="rgb(247,247,247)"/>
<ellipse cx="87.5" cy="542.81" rx="1.93" ry="1.8" transform="rotate(-6 87.5 542.81)" fill="rgb(239,239,239)"/>
<ellipse cx="90.7" cy="548.02" rx="1.81" ry="1.8" transform="rotate(-6 90.7 548.02)" fill="rgb(244,244,244)"/>
<ellipse cx="93.12" cy="553.05" rx="2.06" ry="1.8" transform="rotate(-6 93.12 553.05)" fill="rgb(246,246,246)"/>
<ellipse cx="96.35" cy="558.7" rx="1.97" ry="1.8" transform="rotate(-6 96.35 558.7)" fill="rgb(174,174,174)"/>
<ellipse cx="90" cy="536.71" rx="2.13" ry="1.8" transform="rotate(-6 90 536.71)" fill="rgb(184,184,184)"/>
<ellipse cx="92.78" cy="542.16" rx="1.93" ry="1.8" transform="rotate(-6 92.78 542.16)" fill="rgb(241,241,241)"/>
<ellipse cx="95.68" cy="547.38" rx="2.13" ry="1.8" transform="rotate(-6 95.68 547.38)" fill="rgb(216,216,216)"/>
<ellipse cx="98.29" cy="552.72" rx="2.14" ry="1.8" transform="rotate(-6 98.29 552.72)" fill="rgb(202,202,202)"/>
<ellipse cx="98.04" cy="541.91" rx="2.13" ry="1.8" transform="rotate(-6 98.04 541.91)" fill="rgb(218,218,218)"/>
<ellipse cx="101" cy="547.12" rx="2.12" ry="1.8" transform="rotate(-6 101 547.12)" fill="rgb(240,240,240)"/>
</g></g>
<mask id="fm3_120_600" maskUnits="userSpaceOnUse" x="0" y="0" width="685" height="633"><polygon points="120,600 150,590 150,633 110,633" fill="#fff" filter="url(#edge)"/></mask>
<g clip-path="url(#cp3)" mask="url(#fm3_120_600)" opacity="0.28"><g transform="rotate(30 132.5 614)" filter="url(#soft)">
<rect x="72.5" y="554" width="120" height="120" fill="#303030"/>
<rect x="72.5" y="554" width="120" height="1.71" fill="#d0d0d0"/>
<rect x="72.5" y="557.8" width="120" height="1.71" fill="#d0d0d0"/>
<rect x="72.5" y="561.6" width="120" height="1.71" fill="#d0d0d0"/>
<rect x="72.5" y="565.4" width="120" height="1.71" fill="#d0d0d0"/>
<rect x="72.5" y="569.2" width="120" height="1.71" fill="#d0d0d0"/>
<rect x="72.5" y="573" width="120" height="1.71" fill="#d0d0d0"/>
<rect x="72.5" y="576.8" width="120" height="1.71" fill="#d0d0d0"/>
<rect x="72.5" y="580.6" width="120" height="1.71" fill="#d0d0d0"/>
<rect x="72.5" y="584.4" width="120" height="1.71" fill="#d0d0d0"/>
<rect x="72.5" y="588.2" width="120" height="1.71" fill="#d0d0d0"/>
<rect x="72.5" y="592" width="120" height="1.71" fill="#d0d0d0"/>
<rect x="72.5" y="595.8" width="120" height="1.71" fill="#d0d0d0"/>
<rect x="72.5" y="599.6" width="120" height="1.71" fill="#d0d0d0"/>
<rect x="72.5" y="603.4" width="120" height="1.71" fill="#d0d0d0"/>
<rect x="72.5" y="607.2" width="120" height="1.71" fill="#d0d0d0"/>
<rect x="72.5" y="611" width="120" height="1.71" fill="#d0d0d0"/>
<rect x="72.5" y="614.8" width="120" height="1.71" fill="#d0d0d0"/>
<rect x="72.5" y="618.6" width="120" height="1.71" fill="#d0d0d0"/>
<rect x="72.5" y="622.4" width="120" height="1.71" fill="#d0d0d0"/>
<rect x="72.5" y="626.2" width="120" height="1.71" fill="#d0d0d0"/>
<rect x="72.5" y="630" width="120" height="1.71" fill="#d0d0d0"/>
<rect x="72.5" y="633.8" width="120" height="1.71" fill="#d0d0d0"/>
<rect x="72.5" y="637.6" width="120" height="1.71" fill="#d0d0d0"/>
<rect x="72.5" y="641.4" width="120" height="1.71" fill="#d0d0d0"/>
<rect x="72.5" y="645.2" width="120" height="1.71" fill="#d0d0d0"/>
<rect x="72.5" y="649" width="120" height="1.71" fill="#d0d0d0"/>
<rect x="72.5" y="652.8" width="120" height="1.71" fill="#d0d0d0"/>
<rect x="72.5" y="656.6" width="120" height="1.71" fill="#d0d0d0"/>
<rect x="72.5" y="660.4" width="120" height="1.71" fill="#d0d0d0"/>
<rect x="72.5" y="664.2" width="120" height="1.71" fill="#d0d0d0"/>
<rect x="72.5" y="668" width="120" height="1.71" fill="#d0d0d0"/>
<rect x="72.5" y="671.8" width="120" height="1.71" fill="#d0d0d0"/>
</g></g>
<rect x="24.7" y="606.3" width="43.6" height="20.7" fill="#fff" stroke="#000" stroke-width="1.4"/>
<text x="30.6" y="619.1" class="sb" textLength="29.8" lengthAdjust="spacingAndGlyphs">2 nm</text>
<rect x="28.8" y="621.65" width="35.2" height="1.3" fill="#000"/>
<text x="7.5" y="566.6" class="rl" text-anchor="middle" transform="rotate(-90 7.5 566.6)" dy="4.9" textLength="82.1" lengthAdjust="spacingAndGlyphs">CeOx:Gd46%</text>
<rect x="215.03" y="594.57" width="5.86" height="14.33" fill="#808080" stroke="#222" stroke-width="1"/>
<rect x="222.89" y="572.63" width="5.86" height="36.27" fill="#808080" stroke="#222" stroke-width="1"/>
<rect x="230.75" y="524.73" width="5.86" height="84.17" fill="#808080" stroke="#222" stroke-width="1"/>
<rect x="238.61" y="543.58" width="5.86" height="65.32" fill="#808080" stroke="#222" stroke-width="1"/>
<rect x="246.47" y="555.94" width="5.86" height="52.96" fill="#808080" stroke="#222" stroke-width="1"/>
<rect x="254.33" y="577.57" width="5.86" height="31.33" fill="#808080" stroke="#222" stroke-width="1"/>
<rect x="262.19" y="599.2" width="5.86" height="9.7" fill="#808080" stroke="#222" stroke-width="1"/>
<rect x="270.05" y="603.84" width="5.86" height="5.06" fill="#808080" stroke="#222" stroke-width="1"/>
<rect x="277.91" y="603.84" width="5.86" height="5.06" fill="#808080" stroke="#222" stroke-width="1"/>
<rect x="285.77" y="603.84" width="5.86" height="5.06" fill="#808080" stroke="#222" stroke-width="1"/>
<line x1="205.6" y1="516.2" x2="205.6" y2="609.4" stroke="#5a5a5a" stroke-width="1"/>
<line x1="205.1" y1="608.9" x2="308.3" y2="608.9" stroke="#5a5a5a" stroke-width="1"/>
<line x1="203.8" y1="608.9" x2="205.6" y2="608.9" stroke="#5a5a5a" stroke-width="0.8"/>
<line x1="204.6" y1="601.17" x2="205.6" y2="601.17" stroke="#5a5a5a" stroke-width="0.8"/>
<line x1="203.8" y1="593.45" x2="205.6" y2="593.45" stroke="#5a5a5a" stroke-width="0.8"/>
<line x1="204.6" y1="585.73" x2="205.6" y2="585.73" stroke="#5a5a5a" stroke-width="0.8"/>
<line x1="203.8" y1="578" x2="205.6" y2="578" stroke="#5a5a5a" stroke-width="0.8"/>
<line x1="204.6" y1="570.27" x2="205.6" y2="570.27" stroke="#5a5a5a" stroke-width="0.8"/>
<line x1="203.8" y1="562.55" x2="205.6" y2="562.55" stroke="#5a5a5a" stroke-width="0.8"/>
<line x1="204.6" y1="554.83" x2="205.6" y2="554.83" stroke="#5a5a5a" stroke-width="0.8"/>
<line x1="203.8" y1="547.1" x2="205.6" y2="547.1" stroke="#5a5a5a" stroke-width="0.8"/>
<line x1="204.6" y1="539.38" x2="205.6" y2="539.38" stroke="#5a5a5a" stroke-width="0.8"/>
<line x1="203.8" y1="531.65" x2="205.6" y2="531.65" stroke="#5a5a5a" stroke-width="0.8"/>
<line x1="204.6" y1="523.93" x2="205.6" y2="523.93" stroke="#5a5a5a" stroke-width="0.8"/>
<line x1="203.8" y1="516.2" x2="205.6" y2="516.2" stroke="#5a5a5a" stroke-width="0.8"/>
<text x="203.6" y="610.7" class="tk" text-anchor="end">0</text>
<text x="203.6" y="595.25" class="tk" text-anchor="end">5</text>
<text x="203.6" y="579.8" class="tk" text-anchor="end" textLength="5.98" lengthAdjust="spacingAndGlyphs">10</text>
<text x="203.6" y="564.35" class="tk" text-anchor="end" textLength="5.98" lengthAdjust="spacingAndGlyphs">15</text>
<text x="203.6" y="548.9" class="tk" text-anchor="end" textLength="5.98" lengthAdjust="spacingAndGlyphs">20</text>
<text x="203.6" y="533.45" class="tk" text-anchor="end" textLength="5.98" lengthAdjust="spacingAndGlyphs">25</text>
<text x="203.6" y="518" class="tk" text-anchor="end" textLength="5.98" lengthAdjust="spacingAndGlyphs">30</text>
<line x1="210.1" y1="608.9" x2="210.1" y2="610.7" stroke="#5a5a5a" stroke-width="0.8"/>
<line x1="217.96" y1="608.9" x2="217.96" y2="609.9" stroke="#5a5a5a" stroke-width="0.8"/>
<line x1="225.82" y1="608.9" x2="225.82" y2="610.7" stroke="#5a5a5a" stroke-width="0.8"/>
<line x1="233.68" y1="608.9" x2="233.68" y2="609.9" stroke="#5a5a5a" stroke-width="0.8"/>
<line x1="241.54" y1="608.9" x2="241.54" y2="610.7" stroke="#5a5a5a" stroke-width="0.8"/>
<line x1="249.4" y1="608.9" x2="249.4" y2="609.9" stroke="#5a5a5a" stroke-width="0.8"/>
<line x1="257.26" y1="608.9" x2="257.26" y2="610.7" stroke="#5a5a5a" stroke-width="0.8"/>
<line x1="265.12" y1="608.9" x2="265.12" y2="609.9" stroke="#5a5a5a" stroke-width="0.8"/>
<line x1="272.98" y1="608.9" x2="272.98" y2="610.7" stroke="#5a5a5a" stroke-width="0.8"/>
<line x1="280.84" y1="608.9" x2="280.84" y2="609.9" stroke="#5a5a5a" stroke-width="0.8"/>
<line x1="288.7" y1="608.9" x2="288.7" y2="610.7" stroke="#5a5a5a" stroke-width="0.8"/>
<line x1="296.56" y1="608.9" x2="296.56" y2="609.9" stroke="#5a5a5a" stroke-width="0.8"/>
<line x1="304.42" y1="608.9" x2="304.42" y2="610.7" stroke="#5a5a5a" stroke-width="0.8"/>
<text x="210.1" y="615.9" class="tk" text-anchor="middle">2</text>
<text x="225.82" y="615.9" class="tk" text-anchor="middle">3</text>
<text x="241.54" y="615.9" class="tk" text-anchor="middle">4</text>
<text x="257.26" y="615.9" class="tk" text-anchor="middle">5</text>
<text x="272.98" y="615.9" class="tk" text-anchor="middle">6</text>
<text x="288.7" y="615.9" class="tk" text-anchor="middle">7</text>
<text x="304.42" y="615.9" class="tk" text-anchor="middle">8</text>
<text x="228.15" y="627.5" class="al" textLength="59.1" lengthAdjust="spacingAndGlyphs">Feret diameter (nm)</text>
<text x="194.1" y="585.5" class="yl" textLength="36.5" lengthAdjust="spacingAndGlyphs" transform="rotate(-90 194.1 585.5)">Frequency</text>
<rect x="254.1" y="525.1" width="13.3" height="4.9" fill="#808080" stroke="#222" stroke-width="1"/>
<text x="270" y="529.7" class="lg">CeOx:Gd46%</text>
<rect x="393.05" y="608.1" width="6.1" height="0.8" fill="#808080" stroke="#222" stroke-width="1"/>
<rect x="401.15" y="582.89" width="6.1" height="26.01" fill="#808080" stroke="#222" stroke-width="1"/>
<rect x="409.25" y="527.82" width="6.1" height="81.08" fill="#808080" stroke="#222" stroke-width="1"/>
<rect x="417.35" y="556.93" width="6.1" height="51.97" fill="#808080" stroke="#222" stroke-width="1"/>
<rect x="425.45" y="588.82" width="6.1" height="20.08" fill="#808080" stroke="#222" stroke-width="1"/>
<rect x="433.55" y="606.06" width="6.1" height="2.84" fill="#808080" stroke="#222" stroke-width="1"/>
<rect x="441.65" y="608.1" width="6.1" height="0.8" fill="#808080" stroke="#222" stroke-width="1"/>
<line x1="383.3" y1="516.2" x2="383.3" y2="609.4" stroke="#5a5a5a" stroke-width="1"/>
<line x1="382.8" y1="608.9" x2="489.3" y2="608.9" stroke="#5a5a5a" stroke-width="1"/>
<line x1="381.5" y1="608.9" x2="383.3" y2="608.9" stroke="#5a5a5a" stroke-width="0.8"/>
<line x1="382.3" y1="599.63" x2="383.3" y2="599.63" stroke="#5a5a5a" stroke-width="0.8"/>
<line x1="381.5" y1="590.36" x2="383.3" y2="590.36" stroke="#5a5a5a" stroke-width="0.8"/>
<line x1="382.3" y1="581.09" x2="383.3" y2="581.09" stroke="#5a5a5a" stroke-width="0.8"/>
<line x1="381.5" y1="571.82" x2="383.3" y2="571.82" stroke="#5a5a5a" stroke-width="0.8"/>
<line x1="382.3" y1="562.55" x2="383.3" y2="562.55" stroke="#5a5a5a" stroke-width="0.8"/>
<line x1="381.5" y1="553.28" x2="383.3" y2="553.28" stroke="#5a5a5a" stroke-width="0.8"/>
<line x1="382.3" y1="544.01" x2="383.3" y2="544.01" stroke="#5a5a5a" stroke-width="0.8"/>
<line x1="381.5" y1="534.74" x2="383.3" y2="534.74" stroke="#5a5a5a" stroke-width="0.8"/>
<line x1="382.3" y1="525.47" x2="383.3" y2="525.47" stroke="#5a5a5a" stroke-width="0.8"/>
<line x1="381.5" y1="516.2" x2="383.3" y2="516.2" stroke="#5a5a5a" stroke-width="0.8"/>
<text x="381.3" y="610.7" class="tk" text-anchor="end">0</text>
<text x="381.3" y="592.16" class="tk" text-anchor="end" textLength="5.98" lengthAdjust="spacingAndGlyphs">10</text>
<text x="381.3" y="573.62" class="tk" text-anchor="end" textLength="5.98" lengthAdjust="spacingAndGlyphs">20</text>
<text x="381.3" y="555.08" class="tk" text-anchor="end" textLength="5.98" lengthAdjust="spacingAndGlyphs">30</text>
<text x="381.3" y="536.54" class="tk" text-anchor="end" textLength="5.98" lengthAdjust="spacingAndGlyphs">40</text>
<text x="381.3" y="518" class="tk" text-anchor="end" textLength="5.98" lengthAdjust="spacingAndGlyphs">50</text>
<line x1="388" y1="608.9" x2="388" y2="610.7" stroke="#5a5a5a" stroke-width="0.8"/>
<line x1="396.1" y1="608.9" x2="396.1" y2="609.9" stroke="#5a5a5a" stroke-width="0.8"/>
<line x1="404.2" y1="608.9" x2="404.2" y2="610.7" stroke="#5a5a5a" stroke-width="0.8"/>
<line x1="412.3" y1="608.9" x2="412.3" y2="609.9" stroke="#5a5a5a" stroke-width="0.8"/>
<line x1="420.4" y1="608.9" x2="420.4" y2="610.7" stroke="#5a5a5a" stroke-width="0.8"/>
<line x1="428.5" y1="608.9" x2="428.5" y2="609.9" stroke="#5a5a5a" stroke-width="0.8"/>
<line x1="436.6" y1="608.9" x2="436.6" y2="610.7" stroke="#5a5a5a" stroke-width="0.8"/>
<line x1="444.7" y1="608.9" x2="444.7" y2="609.9" stroke="#5a5a5a" stroke-width="0.8"/>
<line x1="452.8" y1="608.9" x2="452.8" y2="610.7" stroke="#5a5a5a" stroke-width="0.8"/>
<line x1="460.9" y1="608.9" x2="460.9" y2="609.9" stroke="#5a5a5a" stroke-width="0.8"/>
<line x1="469" y1="608.9" x2="469" y2="610.7" stroke="#5a5a5a" stroke-width="0.8"/>
<line x1="477.1" y1="608.9" x2="477.1" y2="609.9" stroke="#5a5a5a" stroke-width="0.8"/>
<line x1="485.2" y1="608.9" x2="485.2" y2="610.7" stroke="#5a5a5a" stroke-width="0.8"/>
<text x="388" y="615.9" class="tk" text-anchor="middle">1</text>
<text x="404.2" y="615.9" class="tk" text-anchor="middle">2</text>
<text x="420.4" y="615.9" class="tk" text-anchor="middle">3</text>
<text x="436.6" y="615.9" class="tk" text-anchor="middle">4</text>
<text x="452.8" y="615.9" class="tk" text-anchor="middle">5</text>
<text x="469" y="615.9" class="tk" text-anchor="middle">6</text>
<text x="485.2" y="615.9" class="tk" text-anchor="middle">7</text>
<text x="400.8" y="627.5" class="al" textLength="70.8" lengthAdjust="spacingAndGlyphs">MinFeret diameter (nm)</text>
<text x="371.8" y="585.5" class="yl" textLength="36.5" lengthAdjust="spacingAndGlyphs" transform="rotate(-90 371.8 585.5)">Frequency</text>
<rect x="432.2" y="525.1" width="14.2" height="4.9" fill="#808080" stroke="#222" stroke-width="1"/>
<text x="449" y="529.7" class="lg">CeOx:Gd46%</text>
<rect x="573.85" y="589.83" width="3.1" height="19.07" fill="#808080" stroke="#222" stroke-width="1"/>
<rect x="577.95" y="588.18" width="3.1" height="20.72" fill="#808080" stroke="#222" stroke-width="1"/>
<rect x="582.05" y="564.08" width="3.1" height="44.82" fill="#808080" stroke="#222" stroke-width="1"/>
<rect x="586.15" y="585.09" width="3.1" height="23.81" fill="#808080" stroke="#222" stroke-width="1"/>
<rect x="590.25" y="586.74" width="3.1" height="22.16" fill="#808080" stroke="#222" stroke-width="1"/>
<rect x="594.35" y="588.39" width="3.1" height="20.51" fill="#808080" stroke="#222" stroke-width="1"/>
<rect x="598.45" y="592.92" width="3.1" height="15.98" fill="#808080" stroke="#222" stroke-width="1"/>
<rect x="602.55" y="597.86" width="3.1" height="11.04" fill="#808080" stroke="#222" stroke-width="1"/>
<rect x="606.65" y="599.31" width="3.1" height="9.59" fill="#808080" stroke="#222" stroke-width="1"/>
<rect x="610.75" y="604.66" width="3.1" height="4.24" fill="#808080" stroke="#222" stroke-width="1"/>
<rect x="614.85" y="602.81" width="3.1" height="6.09" fill="#808080" stroke="#222" stroke-width="1"/>
<rect x="618.95" y="608.16" width="3.1" height="0.74" fill="#808080" stroke="#222" stroke-width="1"/>
<rect x="627.15" y="608.16" width="3.1" height="0.74" fill="#808080" stroke="#222" stroke-width="1"/>
<rect x="635.35" y="608.16" width="3.1" height="0.74" fill="#808080" stroke="#222" stroke-width="1"/>
<line x1="560.6" y1="516.2" x2="560.6" y2="609.4" stroke="#5a5a5a" stroke-width="1"/>
<line x1="560.1" y1="608.9" x2="664.5" y2="608.9" stroke="#5a5a5a" stroke-width="1"/>
<line x1="558.8" y1="608.9" x2="560.6" y2="608.9" stroke="#5a5a5a" stroke-width="0.8"/>
<line x1="559.6" y1="598.6" x2="560.6" y2="598.6" stroke="#5a5a5a" stroke-width="0.8"/>
<line x1="558.8" y1="588.3" x2="560.6" y2="588.3" stroke="#5a5a5a" stroke-width="0.8"/>
<line x1="559.6" y1="578" x2="560.6" y2="578" stroke="#5a5a5a" stroke-width="0.8"/>
<line x1="558.8" y1="567.7" x2="560.6" y2="567.7" stroke="#5a5a5a" stroke-width="0.8"/>
<line x1="559.6" y1="557.4" x2="560.6" y2="557.4" stroke="#5a5a5a" stroke-width="0.8"/>
<line x1="558.8" y1="547.1" x2="560.6" y2="547.1" stroke="#5a5a5a" stroke-width="0.8"/>
<line x1="559.6" y1="536.8" x2="560.6" y2="536.8" stroke="#5a5a5a" stroke-width="0.8"/>
<line x1="558.8" y1="526.5" x2="560.6" y2="526.5" stroke="#5a5a5a" stroke-width="0.8"/>
<line x1="559.6" y1="516.2" x2="560.6" y2="516.2" stroke="#5a5a5a" stroke-width="0.8"/>
<text x="558.6" y="610.7" class="tk" text-anchor="end">0</text>
<text x="558.6" y="590.1" class="tk" text-anchor="end" textLength="5.98" lengthAdjust="spacingAndGlyphs">10</text>
<text x="558.6" y="569.5" class="tk" text-anchor="end" textLength="5.98" lengthAdjust="spacingAndGlyphs">20</text>
<text x="558.6" y="548.9" class="tk" text-anchor="end" textLength="5.98" lengthAdjust="spacingAndGlyphs">30</text>
<text x="558.6" y="528.3" class="tk" text-anchor="end" textLength="5.98" lengthAdjust="spacingAndGlyphs">40</text>
<line x1="571.3" y1="608.9" x2="571.3" y2="610.7" stroke="#5a5a5a" stroke-width="0.8"/>
<line x1="581.55" y1="608.9" x2="581.55" y2="609.9" stroke="#5a5a5a" stroke-width="0.8"/>
<line x1="591.8" y1="608.9" x2="591.8" y2="610.7" stroke="#5a5a5a" stroke-width="0.8"/>
<line x1="602.05" y1="608.9" x2="602.05" y2="609.9" stroke="#5a5a5a" stroke-width="0.8"/>
<line x1="612.3" y1="608.9" x2="612.3" y2="610.7" stroke="#5a5a5a" stroke-width="0.8"/>
<line x1="622.55" y1="608.9" x2="622.55" y2="609.9" stroke="#5a5a5a" stroke-width="0.8"/>
<line x1="632.8" y1="608.9" x2="632.8" y2="610.7" stroke="#5a5a5a" stroke-width="0.8"/>
<line x1="643.05" y1="608.9" x2="643.05" y2="609.9" stroke="#5a5a5a" stroke-width="0.8"/>
<line x1="653.3" y1="608.9" x2="653.3" y2="610.7" stroke="#5a5a5a" stroke-width="0.8"/>
<line x1="663.55" y1="608.9" x2="663.55" y2="609.9" stroke="#5a5a5a" stroke-width="0.8"/>
<text x="571.3" y="615.9" class="tk" text-anchor="middle" textLength="7.4" lengthAdjust="spacingAndGlyphs">1.0</text>
<text x="591.8" y="615.9" class="tk" text-anchor="middle" textLength="7.4" lengthAdjust="spacingAndGlyphs">1.5</text>
<text x="612.3" y="615.9" class="tk" text-anchor="middle" textLength="7.4" lengthAdjust="spacingAndGlyphs">2.0</text>
<text x="632.8" y="615.9" class="tk" text-anchor="middle" textLength="7.4" lengthAdjust="spacingAndGlyphs">2.5</text>
<text x="653.3" y="615.9" class="tk" text-anchor="middle" textLength="7.4" lengthAdjust="spacingAndGlyphs">3.0</text>
<text x="593.2" y="627.5" class="al" textLength="38.4" lengthAdjust="spacingAndGlyphs">Aspect Ratio</text>
<text x="549.1" y="585.5" class="yl" textLength="36.5" lengthAdjust="spacingAndGlyphs" transform="rotate(-90 549.1 585.5)">Frequency</text>
<rect x="607.9" y="525.1" width="13.3" height="4.9" fill="#808080" stroke="#222" stroke-width="1"/>
<text x="623.8" y="529.7" class="lg">CeOx:Gd46%</text>
</svg>
</body></html>
